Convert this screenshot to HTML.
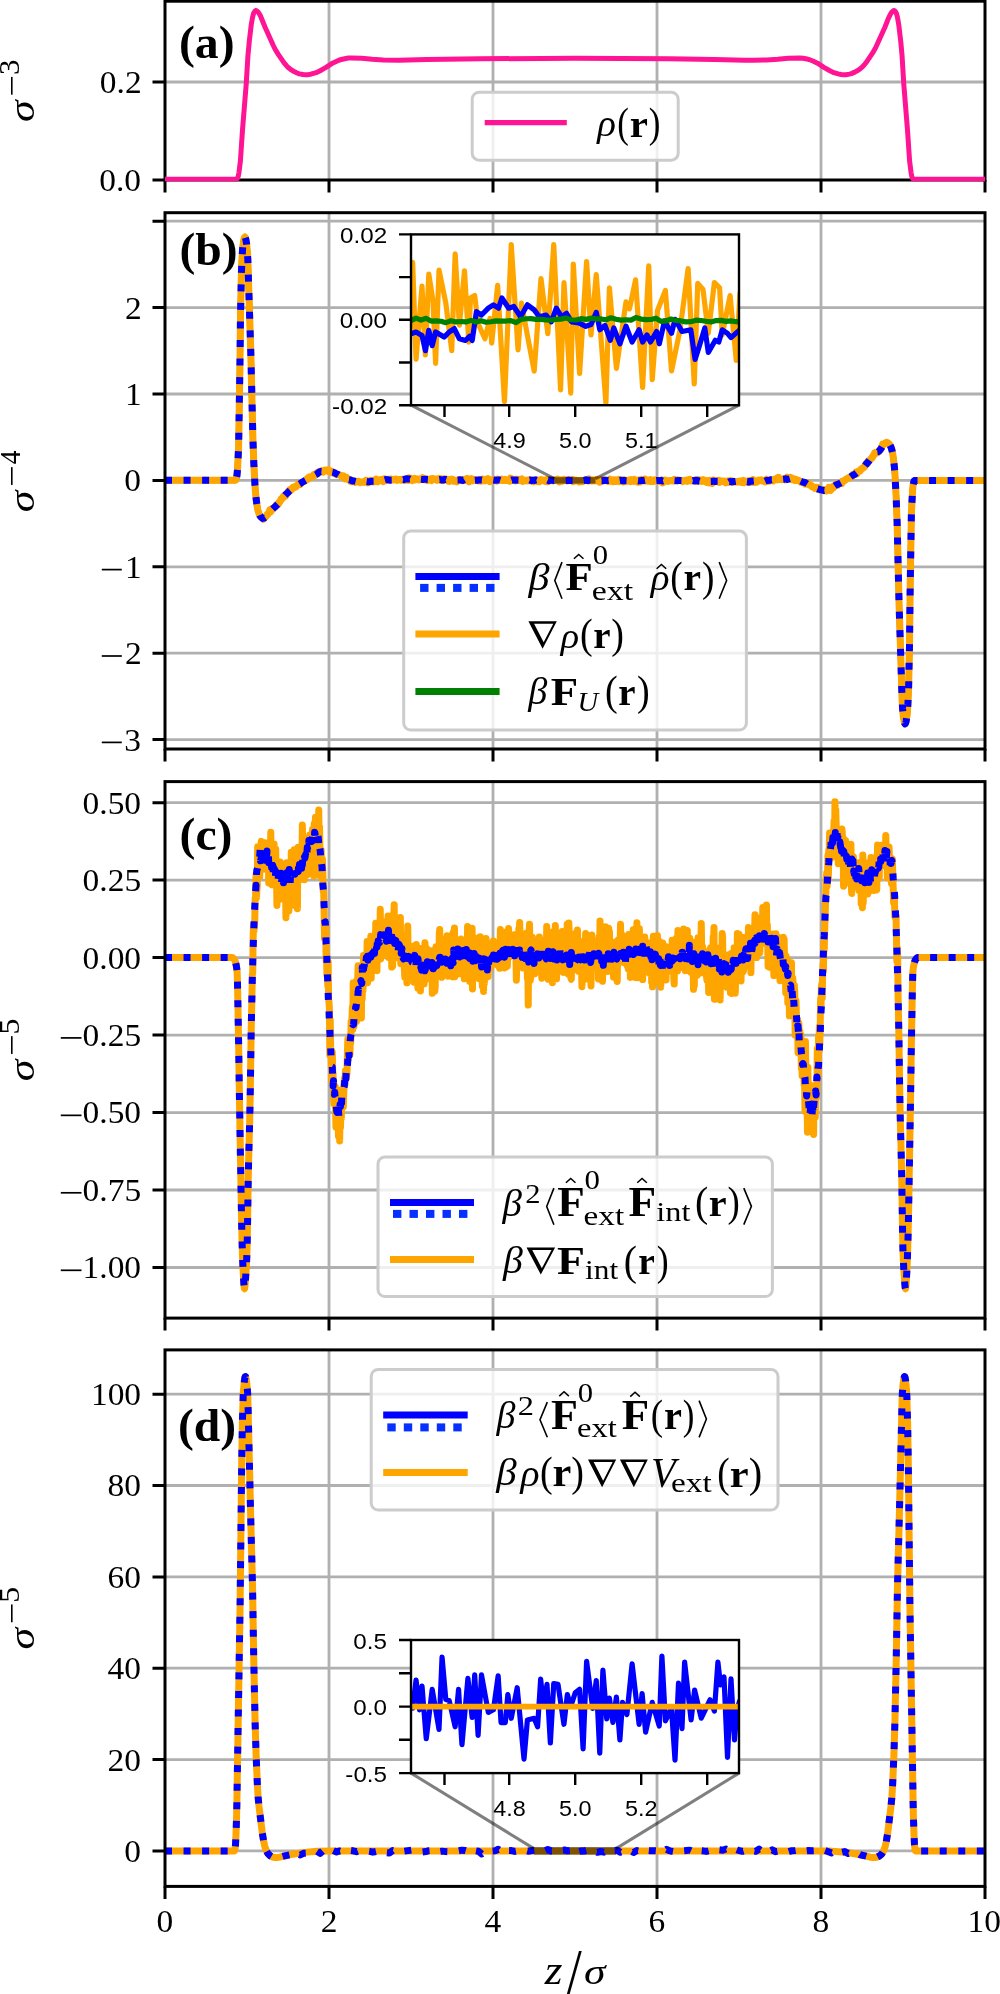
<!DOCTYPE html><html><head><meta charset="utf-8"><style>html,body{margin:0;padding:0;background:#fff;overflow:hidden}svg{display:block;will-change:transform}</style></head><body>
<svg width="1000" height="1994" viewBox="0 0 1000 1994">
<rect x="0" y="0" width="1000" height="1994" fill="#fff"/>
<defs>
<clipPath id="clipa"><rect x="165.00" y="1.20" width="820.00" height="178.80"/></clipPath>
<clipPath id="clipb"><rect x="165.00" y="212.70" width="820.00" height="536.30"/></clipPath>
<clipPath id="clipc"><rect x="165.00" y="781.60" width="820.00" height="536.50"/></clipPath>
<clipPath id="clipd"><rect x="165.00" y="1349.90" width="820.00" height="536.50"/></clipPath>
<clipPath id="clipA2"><rect x="165" y="-5" width="820" height="186.5"/></clipPath>
<clipPath id="clipIB"><rect x="411" y="234.4" width="328" height="170.8"/></clipPath>
<clipPath id="clipID"><rect x="411" y="1640" width="328" height="133.1"/></clipPath>
</defs>
<path d="M329.0 1.20V180.00M493.0 1.20V180.00M657.0 1.20V180.00M821.0 1.20V180.00M165.0 82.00H985.0" stroke="#b0b0b0" stroke-width="2.8" fill="none"/>
<path d="M329.0 212.70V749.00M493.0 212.70V749.00M657.0 212.70V749.00M821.0 212.70V749.00M165.0 221.20H985.0M165.0 307.60H985.0M165.0 394.00H985.0M165.0 480.40H985.0M165.0 566.80H985.0M165.0 653.20H985.0M165.0 739.60H985.0" stroke="#b0b0b0" stroke-width="2.8" fill="none"/>
<path d="M329.0 781.60V1318.10M493.0 781.60V1318.10M657.0 781.60V1318.10M821.0 781.60V1318.10M165.0 802.65H985.0M165.0 880.10H985.0M165.0 957.60H985.0M165.0 1035.10H985.0M165.0 1112.55H985.0M165.0 1190.00H985.0M165.0 1267.50H985.0" stroke="#b0b0b0" stroke-width="2.8" fill="none"/>
<path d="M329.0 1349.90V1886.40M493.0 1349.90V1886.40M657.0 1349.90V1886.40M821.0 1349.90V1886.40M165.0 1850.90H985.0M165.0 1759.60H985.0M165.0 1668.20H985.0M165.0 1576.90H985.0M165.0 1485.50H985.0M165.0 1394.20H985.0" stroke="#b0b0b0" stroke-width="2.8" fill="none"/>
<g clip-path="url(#clipb)">
<path d="M165.00,480.20 L235.50,480.20 L235.80,479.95 L236.20,478.99 L236.90,475.80 L237.50,469.50 L238.60,447.57 L239.90,367.73 L240.50,315.30 L241.40,272.87 L242.10,256.58 L242.80,246.25 L243.90,239.44 L244.40,237.66 L244.90,237.00 L245.30,237.51 L245.70,238.85 L246.70,244.35 L247.40,252.03 L247.90,261.26 L250.90,355.80 L252.90,438.82 L253.80,462.92 L255.00,485.49 L256.10,498.50 L257.00,505.31 L257.80,509.63 L258.80,513.05 L259.90,515.65 L261.30,517.29 L262.80,518.29 L263.40,518.40 L264.00,518.26 L265.40,517.15 L267.10,515.28 L270.00,510.91 L271.40,509.65 L274.40,507.52 L275.60,506.42 L285.80,494.23 L287.90,492.18 L290.70,489.89 L295.60,486.40 L301.90,482.44 L308.10,478.74 L315.10,474.94 L318.80,472.55 L319.90,472.04 L322.60,471.15 L325.60,470.61 L326.90,470.65 L328.40,470.92 L333.50,472.52 L339.30,475.14 L344.60,477.83 L350.10,479.93 L355.80,481.43 L361.60,481.97 L365.60,481.89 L381.50,480.44 L391.20,479.76 L403.80,479.35 L414.60,479.20 L427.80,479.36 L455.00,480.00 L681.70,480.72 L697.20,480.83 L723.70,481.47 L737.70,481.59 L759.50,481.00 L769.20,480.30 L784.10,478.93 L787.60,478.81 L793.90,479.32 L799.50,480.75 L805.30,482.93 L810.70,485.66 L816.80,488.40 L822.00,489.97 L823.60,490.19 L825.10,490.13 L828.00,489.47 L830.20,488.73 L831.30,488.20 L834.80,485.92 L842.70,481.60 L850.90,476.63 L855.20,473.86 L859.60,470.68 L862.30,468.44 L864.30,466.46 L874.40,454.38 L875.60,453.28 L878.60,451.15 L880.00,449.89 L882.90,445.52 L884.60,443.65 L886.00,442.54 L886.50,442.40 L887.10,442.48 L888.50,443.33 L890.00,444.98 L891.00,447.19 L892.10,450.75 L892.90,454.86 L893.80,461.44 L894.40,467.07 L895.00,475.31 L896.20,497.88 L897.10,521.98 L899.10,605.00 L902.10,699.54 L902.60,708.77 L903.30,716.45 L904.30,721.95 L904.70,723.29 L905.10,723.80 L905.60,723.14 L906.10,721.36 L907.20,714.55 L907.90,704.22 L908.60,687.93 L909.50,645.50 L910.10,593.07 L911.40,513.23 L912.50,491.30 L913.10,485.00 L913.80,481.81 L914.20,480.85 L914.50,480.60 L985.00,480.60" fill="none" stroke="#008000" stroke-width="6.00" stroke-linejoin="round"/>
<path d="M165.00,480.20 L235.50,480.20 L235.80,479.95 L236.20,478.99 L236.90,475.80 L237.50,469.50 L238.60,447.57 L239.90,367.73 L240.50,315.30 L241.40,272.87 L242.10,256.58 L242.80,246.25 L243.90,239.44 L244.40,237.66 L244.90,237.00 L245.30,237.51 L245.70,238.85 L246.70,244.35 L247.40,252.03 L247.90,261.26 L250.90,355.80 L252.90,438.82 L253.90,465.13 L255.10,487.04 L255.60,493.73 L256.30,500.19 L257.20,506.55 L258.00,510.44 L259.00,513.61 L260.00,515.82 L260.70,516.71 L262.00,517.86 L262.60,517.22 L263.40,519.28 L264.20,517.55 L265.00,517.36 L265.80,516.68 L267.40,513.90 L268.20,514.03 L269.00,512.52 L269.80,509.77 L270.60,511.96 L272.20,508.55 L273.00,509.17 L273.80,507.65 L275.40,507.17 L276.20,504.91 L277.00,505.28 L277.80,504.90 L278.60,503.86 L279.40,501.73 L280.20,501.59 L281.00,498.86 L281.80,498.94 L282.60,498.38 L283.40,496.13 L284.20,496.03 L285.00,496.34 L285.80,496.06 L286.60,493.93 L287.40,493.21 L288.20,491.24 L289.80,489.60 L290.60,490.35 L291.40,489.89 L292.20,488.32 L293.00,487.35 L293.80,487.82 L294.60,487.30 L295.40,486.45 L296.20,486.90 L297.00,485.43 L297.80,484.94 L298.60,483.71 L300.20,484.44 L301.00,483.04 L301.80,482.55 L302.60,482.32 L303.40,481.72 L305.80,480.51 L306.60,479.05 L307.40,479.35 L308.20,477.56 L309.00,478.43 L309.80,476.92 L310.60,477.33 L311.40,477.29 L312.20,476.24 L313.00,476.17 L313.80,474.52 L314.60,474.63 L315.40,475.24 L316.20,473.43 L317.00,474.15 L317.80,472.18 L318.60,472.02 L319.40,471.47 L320.20,471.94 L321.00,472.03 L321.80,470.65 L322.60,471.03 L323.40,472.08 L324.20,470.55 L325.00,470.09 L325.80,470.87 L327.40,470.23 L328.20,469.62 L329.00,471.65 L329.80,470.91 L330.60,471.56 L331.40,471.07 L332.20,472.97 L333.00,472.85 L333.80,473.32 L334.60,472.88 L336.20,474.30 L337.00,474.77 L337.80,474.65 L341.00,475.32 L341.80,476.68 L342.60,476.67 L343.40,475.86 L344.20,477.53 L345.00,478.74 L346.60,477.36 L347.40,478.89 L348.20,479.83 L349.80,479.53 L350.60,481.38 L351.40,481.64 L352.20,480.48 L353.00,481.34 L353.80,481.26 L355.40,482.37 L357.80,481.22 L358.60,481.19 L360.20,482.70 L361.00,482.15 L361.80,482.02 L362.60,482.18 L363.40,482.02 L364.20,482.36 L365.00,481.15 L365.80,480.49 L366.60,481.51 L367.40,480.93 L368.20,482.80 L369.00,481.49 L369.80,481.35 L370.60,480.38 L371.40,481.57 L372.20,480.85 L373.00,481.98 L373.80,481.70 L374.60,480.49 L375.40,481.25 L376.20,478.99 L377.80,481.63 L379.40,480.75 L380.20,480.53 L381.00,479.49 L381.80,479.47 L383.40,481.52 L384.20,478.71 L385.00,480.61 L385.80,480.53 L386.60,480.71 L387.40,479.38 L389.00,479.92 L389.80,479.12 L390.60,478.93 L391.40,479.13 L392.20,479.66 L393.00,479.94 L393.80,479.62 L394.60,479.67 L395.40,479.11 L396.20,479.06 L397.00,480.32 L397.80,479.48 L398.60,479.43 L399.40,480.12 L401.00,480.31 L401.80,479.68 L402.60,479.34 L403.40,479.56 L404.20,479.47 L405.00,480.30 L405.80,479.51 L406.60,479.74 L407.40,479.25 L408.20,480.22 L409.00,477.81 L409.80,479.50 L410.60,479.75 L411.40,478.41 L412.20,480.72 L413.00,479.10 L413.80,479.09 L414.60,478.44 L415.40,479.81 L417.00,478.79 L417.80,479.37 L419.40,480.07 L421.00,478.57 L421.80,478.86 L422.60,477.65 L424.20,479.80 L426.60,479.09 L427.40,480.46 L428.20,479.56 L429.00,480.02 L429.80,479.67 L430.60,478.94 L431.40,480.52 L432.20,478.58 L433.00,478.62 L433.80,479.18 L434.60,478.98 L436.20,479.10 L437.00,480.23 L437.80,479.60 L438.60,479.83 L439.40,478.50 L440.20,479.04 L441.00,480.41 L441.80,478.84 L442.60,480.53 L443.40,479.01 L444.20,479.96 L445.00,479.19 L445.80,479.94 L446.60,479.20 L447.40,479.67 L448.20,481.04 L449.00,479.63 L449.80,481.34 L450.60,479.61 L451.40,479.13 L452.20,480.02 L453.00,479.69 L453.80,481.22 L454.60,480.60 L455.40,480.83 L456.20,480.45 L457.00,481.74 L457.80,480.58 L458.60,480.40 L459.40,479.45 L460.20,479.40 L461.80,480.74 L462.60,480.83 L463.40,479.40 L464.20,480.43 L465.00,480.20 L465.80,479.29 L466.60,480.43 L467.40,478.49 L469.00,481.82 L469.80,479.38 L470.60,480.11 L471.40,478.78 L473.00,480.64 L473.80,479.38 L474.60,480.09 L475.40,479.87 L476.20,479.86 L477.80,480.47 L478.60,481.00 L479.40,480.72 L480.20,479.75 L481.00,481.14 L481.80,481.03 L482.60,479.06 L483.40,480.62 L485.00,480.84 L485.80,480.55 L486.60,479.26 L487.40,479.99 L488.20,478.73 L489.80,481.60 L490.60,480.66 L491.40,480.77 L492.20,479.83 L493.00,479.48 L493.80,479.45 L494.60,480.29 L495.40,479.64 L496.20,479.76 L497.00,481.01 L497.80,479.06 L498.60,479.29 L499.40,479.86 L500.20,480.15 L501.00,480.13 L501.80,479.25 L502.60,480.36 L503.40,480.14 L504.20,480.48 L505.00,479.47 L505.80,480.41 L506.60,480.39 L507.40,479.78 L508.20,480.09 L509.00,479.85 L509.80,481.19 L510.60,478.06 L511.40,479.24 L512.20,479.06 L513.00,479.99 L513.80,479.78 L514.60,479.97 L515.40,480.76 L516.20,479.12 L517.80,480.11 L518.60,479.42 L519.40,480.53 L520.20,480.50 L521.80,479.03 L522.60,481.40 L523.40,480.61 L524.20,480.58 L525.00,480.33 L525.80,480.28 L526.60,480.87 L528.20,479.85 L529.00,480.79 L530.60,479.75 L531.40,479.66 L532.20,481.11 L533.00,480.74 L533.80,481.68 L534.60,479.93 L535.40,479.78 L537.00,481.27 L537.80,480.72 L538.60,480.61 L539.40,481.63 L540.20,479.79 L541.00,479.44 L542.60,480.09 L544.20,481.04 L545.00,480.61 L545.80,481.39 L546.60,479.75 L547.40,481.66 L548.20,479.76 L549.00,481.15 L549.80,479.68 L550.60,480.57 L551.40,480.37 L553.00,480.87 L553.80,480.19 L555.40,480.51 L556.20,479.43 L557.00,479.84 L557.80,479.21 L558.60,480.36 L559.40,481.91 L561.00,479.75 L561.80,479.87 L562.60,481.05 L564.20,479.24 L565.00,479.65 L566.60,479.66 L567.40,480.85 L568.20,480.43 L569.00,479.34 L569.80,480.01 L570.60,479.59 L572.20,479.34 L573.00,481.62 L573.80,480.18 L574.60,480.80 L575.40,481.01 L576.20,480.13 L577.00,480.78 L577.80,480.79 L578.60,480.57 L579.40,481.93 L580.20,480.62 L581.00,480.26 L582.60,481.67 L583.40,481.12 L584.20,480.09 L585.00,479.83 L585.80,479.78 L586.60,479.97 L587.40,480.71 L588.20,481.03 L589.00,478.85 L589.80,480.43 L590.60,479.67 L591.40,480.93 L592.20,481.09 L593.00,479.91 L593.80,480.14 L594.60,479.79 L595.40,480.73 L596.20,479.33 L597.80,479.98 L598.60,481.32 L599.40,482.15 L600.20,480.48 L601.00,479.61 L601.80,480.52 L602.60,479.86 L603.40,480.80 L604.20,479.70 L605.00,480.22 L606.60,480.85 L607.40,480.43 L608.20,481.37 L609.00,480.57 L609.80,479.22 L610.60,481.14 L611.40,480.29 L612.20,480.02 L613.00,481.55 L613.80,479.80 L614.60,480.55 L615.40,480.00 L616.20,481.45 L617.00,480.25 L617.80,480.67 L618.60,479.53 L619.40,481.51 L620.20,479.76 L621.00,481.15 L622.60,481.38 L623.40,481.79 L624.20,479.70 L625.00,480.80 L625.80,480.62 L626.60,480.82 L627.40,481.29 L629.00,479.96 L629.80,480.46 L630.60,481.61 L631.40,479.71 L632.20,480.59 L633.00,479.85 L633.80,481.32 L634.60,479.39 L635.40,480.30 L637.00,480.63 L637.80,482.20 L638.60,481.64 L639.40,479.83 L640.20,482.07 L641.00,479.72 L641.80,479.25 L642.60,479.51 L643.40,480.71 L644.20,480.94 L645.00,479.02 L645.80,480.88 L646.60,480.39 L647.40,481.07 L648.20,480.31 L649.00,481.21 L649.80,480.98 L650.60,479.76 L651.40,481.60 L652.20,480.74 L653.80,481.48 L654.60,479.91 L655.40,480.54 L656.20,480.03 L657.00,479.95 L657.80,480.79 L658.60,480.85 L659.40,481.55 L660.20,481.59 L661.00,480.60 L661.80,480.04 L662.60,482.87 L663.40,482.13 L664.20,480.56 L665.00,479.98 L665.80,480.34 L667.40,481.44 L668.20,481.33 L669.80,480.48 L670.60,480.78 L671.40,480.45 L672.20,480.72 L673.00,480.60 L673.80,481.04 L674.60,479.36 L675.40,480.44 L676.20,480.48 L677.00,479.90 L677.80,480.57 L678.60,479.96 L680.20,480.50 L681.00,480.53 L681.80,480.31 L682.60,481.49 L683.40,480.87 L685.00,480.90 L685.80,480.27 L686.60,480.13 L687.40,481.34 L689.00,479.52 L689.80,479.23 L690.60,480.92 L691.40,480.26 L692.20,480.73 L693.00,480.40 L694.60,480.68 L695.40,479.93 L697.00,481.51 L697.80,481.32 L698.60,479.63 L699.40,479.93 L700.20,479.95 L701.80,481.53 L702.60,481.18 L703.40,479.74 L704.20,481.03 L705.00,481.59 L705.80,480.73 L706.60,482.40 L707.40,480.64 L708.20,481.94 L709.00,482.79 L709.80,480.28 L711.40,481.62 L712.20,483.48 L713.00,480.00 L713.80,481.67 L714.60,481.49 L716.20,480.74 L717.80,481.14 L718.60,480.48 L719.40,482.49 L720.20,480.63 L721.00,481.12 L721.80,480.97 L723.40,481.53 L724.20,480.95 L725.00,481.33 L725.80,482.72 L726.60,482.26 L727.40,481.33 L728.20,482.18 L729.00,481.02 L729.80,481.73 L730.60,480.58 L732.20,480.98 L733.00,482.46 L733.80,481.76 L734.60,481.98 L735.40,481.71 L737.80,482.12 L738.60,481.70 L739.40,480.93 L740.20,481.01 L741.00,482.40 L741.80,482.53 L742.60,481.92 L743.40,480.36 L744.20,482.60 L745.00,481.70 L745.80,481.41 L746.60,481.45 L747.40,481.16 L748.20,482.63 L749.00,482.56 L749.80,480.61 L750.60,481.20 L751.40,481.52 L752.20,482.18 L753.00,479.56 L753.80,481.89 L754.60,482.38 L755.40,480.95 L756.20,481.12 L757.00,482.00 L757.80,481.35 L758.60,480.11 L760.20,480.23 L761.00,479.91 L761.80,480.85 L762.60,480.43 L764.20,481.18 L765.00,481.88 L766.60,479.19 L767.40,481.41 L768.20,480.29 L769.00,481.12 L769.80,479.92 L770.60,480.38 L771.40,480.00 L772.20,480.01 L773.00,480.85 L773.80,479.43 L774.60,479.94 L775.40,479.91 L776.20,479.40 L777.00,478.05 L777.80,479.75 L778.60,477.43 L779.40,478.28 L781.00,479.49 L781.80,479.72 L782.60,479.63 L783.40,479.40 L784.20,478.66 L785.00,479.71 L785.80,478.63 L786.60,479.58 L787.40,477.22 L788.20,478.14 L789.80,478.90 L790.60,477.28 L791.40,479.60 L792.20,479.80 L793.00,479.74 L793.80,478.93 L794.60,480.45 L795.40,479.22 L796.20,480.44 L797.00,479.98 L798.60,480.37 L799.40,480.69 L800.20,481.74 L801.00,482.23 L801.80,482.51 L802.60,482.45 L804.20,482.77 L805.00,484.02 L805.80,482.84 L806.60,483.09 L807.40,483.98 L808.20,483.20 L809.00,484.62 L809.80,485.16 L810.60,484.88 L811.40,485.57 L812.20,486.84 L813.00,486.57 L813.80,487.16 L814.60,488.20 L815.40,487.40 L816.20,487.36 L817.00,488.43 L817.80,489.03 L818.60,487.70 L819.40,489.69 L820.20,489.26 L821.00,489.42 L821.80,489.31 L823.40,490.84 L824.20,490.56 L825.00,490.70 L825.80,489.76 L826.60,490.96 L827.40,490.53 L828.20,489.38 L829.00,487.29 L830.60,490.48 L831.40,488.10 L832.20,486.92 L833.00,488.29 L833.80,486.12 L834.60,486.38 L835.40,486.10 L836.20,484.09 L837.00,484.78 L837.80,485.10 L838.60,483.61 L839.40,483.88 L840.20,482.98 L841.80,483.41 L842.60,480.88 L844.20,480.99 L845.00,479.80 L845.80,479.18 L846.60,479.03 L847.40,478.60 L848.20,477.83 L849.00,478.03 L849.80,477.87 L851.40,476.79 L852.20,476.65 L853.00,474.35 L853.80,474.71 L855.40,474.09 L856.20,472.03 L857.00,473.91 L857.80,471.39 L858.60,471.62 L860.20,470.97 L861.00,469.08 L861.80,468.51 L862.60,468.43 L864.20,467.21 L866.60,462.79 L867.40,463.96 L868.20,460.79 L869.00,461.29 L869.80,460.04 L872.20,457.82 L873.00,455.88 L873.80,455.29 L874.60,452.82 L875.40,453.48 L876.20,452.19 L877.00,452.16 L877.80,452.59 L878.60,451.22 L879.40,451.25 L880.20,449.52 L881.00,448.81 L881.80,446.94 L882.60,444.17 L883.40,444.41 L885.00,443.37 L885.80,442.65 L886.60,442.32 L887.40,443.25 L888.20,443.08 L889.90,444.82 L890.90,446.92 L892.00,450.36 L892.80,454.25 L893.70,460.61 L894.40,467.07 L894.90,473.76 L896.10,495.67 L897.10,521.98 L899.10,605.00 L902.10,699.54 L902.60,708.77 L903.30,716.45 L904.30,721.95 L904.70,723.29 L905.10,723.80 L905.60,723.14 L906.10,721.36 L907.20,714.55 L907.90,704.22 L908.60,687.93 L909.50,645.50 L910.10,593.07 L911.40,513.23 L912.50,491.30 L913.10,485.00 L913.80,481.81 L914.20,480.85 L914.50,480.60 L985.00,480.60" fill="none" stroke="#ffa500" stroke-width="7.00" stroke-linejoin="round"/>
<rect x="554.5" y="477.2" width="41" height="6.4" fill="#000" fill-opacity="0.5"/>
<path d="M165.00,480.20 L235.50,480.20 L235.80,479.95 L236.20,478.99 L236.90,475.80 L237.50,469.50 L238.60,447.57 L239.90,367.73 L240.50,315.30 L241.40,272.87 L242.10,256.58 L242.80,246.25 L243.90,239.44 L244.40,237.66 L244.90,237.00 L245.30,237.51 L245.70,238.85 L246.70,244.35 L247.40,252.03 L247.90,261.26 L250.90,355.80 L252.90,438.82 L253.80,462.92 L255.00,485.49 L256.10,498.50 L257.00,505.31 L257.80,509.63 L258.80,513.05 L259.90,515.65 L260.80,516.81 L262.60,518.37 L264.20,518.06 L265.80,516.95 L267.40,514.36 L270.60,510.28 L272.20,509.41 L278.60,503.36 L280.20,500.91 L285.00,495.15 L288.20,492.41 L289.80,490.71 L291.40,489.34 L293.00,488.68 L294.60,487.11 L297.80,484.90 L301.00,483.06 L302.60,481.94 L307.40,479.29 L309.00,478.15 L317.00,473.99 L318.60,472.40 L320.20,471.45 L321.80,471.58 L323.40,470.89 L325.00,471.00 L326.60,470.61 L328.20,470.59 L329.80,471.86 L331.40,471.92 L333.00,472.22 L334.60,472.78 L336.20,473.82 L337.80,474.27 L341.00,476.30 L342.60,476.50 L347.40,479.39 L349.00,479.80 L350.60,479.97 L352.20,480.91 L353.80,480.90 L357.00,481.70 L358.60,481.49 L360.20,482.66 L366.60,481.52 L368.20,481.76 L369.80,481.71 L371.40,481.27 L374.60,481.18 L376.20,480.88 L377.80,480.30 L379.40,480.79 L381.00,480.55 L382.60,480.54 L385.80,479.58 L387.40,479.68 L390.60,480.31 L392.20,480.30 L395.40,479.22 L398.60,479.60 L401.80,479.43 L403.40,479.70 L405.00,479.10 L406.60,478.75 L408.20,479.04 L409.80,478.95 L411.40,479.78 L413.00,479.16 L414.60,478.84 L416.20,479.36 L417.80,479.46 L419.40,479.24 L422.60,479.52 L425.80,479.14 L427.40,479.50 L429.00,479.61 L430.60,479.50 L432.20,479.66 L433.80,479.62 L435.40,479.45 L438.60,479.74 L440.20,479.49 L441.80,479.97 L443.40,480.03 L445.00,479.27 L446.60,479.81 L448.20,479.69 L454.60,480.14 L457.80,480.11 L459.40,479.84 L461.00,479.95 L462.60,480.42 L464.20,479.44 L465.80,480.50 L467.40,479.94 L469.00,480.38 L470.60,479.45 L472.20,480.00 L473.80,480.33 L475.40,480.16 L477.00,480.38 L478.60,479.92 L481.80,479.99 L483.40,480.29 L488.20,480.11 L491.40,480.21 L493.00,479.96 L494.60,480.19 L499.40,480.07 L501.00,480.59 L502.60,480.07 L505.80,480.58 L509.00,480.25 L510.60,480.50 L512.20,479.89 L518.60,480.24 L520.20,480.74 L521.80,480.70 L523.40,480.27 L525.00,480.34 L526.60,480.06 L528.20,480.37 L529.80,479.95 L531.40,480.64 L533.00,480.17 L534.60,480.44 L536.20,479.98 L537.80,480.65 L539.40,480.46 L541.00,480.80 L544.20,479.92 L545.80,480.13 L547.40,480.01 L549.00,480.73 L550.60,480.18 L552.20,480.15 L553.80,480.49 L557.00,480.47 L560.20,479.86 L561.80,480.02 L563.40,479.82 L565.00,480.69 L566.60,480.60 L568.20,480.29 L569.80,480.54 L576.20,480.63 L577.80,480.43 L579.40,479.86 L581.00,479.73 L582.60,480.74 L584.20,480.58 L585.80,479.80 L587.40,480.48 L589.00,480.22 L590.60,480.31 L592.20,479.80 L593.80,480.65 L595.40,480.44 L597.00,480.67 L601.80,480.88 L603.40,480.55 L606.60,480.32 L608.20,480.62 L611.40,480.20 L613.00,480.80 L614.60,480.68 L616.20,479.83 L617.80,480.04 L619.40,480.45 L621.00,480.18 L622.60,480.82 L624.20,480.57 L629.00,480.87 L630.60,480.47 L632.20,480.70 L637.00,480.69 L638.60,480.91 L641.80,480.44 L643.40,480.60 L645.00,480.29 L648.20,480.96 L649.80,480.43 L651.40,480.18 L653.00,480.58 L654.60,480.47 L656.20,480.61 L657.80,480.46 L659.40,480.64 L661.00,480.37 L662.60,481.02 L664.20,480.58 L667.40,480.84 L669.00,480.62 L670.60,480.78 L673.80,480.57 L677.00,480.82 L678.60,480.38 L683.40,480.59 L685.00,481.03 L686.60,480.74 L688.20,480.68 L691.40,481.05 L693.00,480.60 L694.60,481.06 L696.20,480.23 L697.80,480.62 L699.40,481.24 L701.00,481.30 L704.20,480.90 L705.80,481.26 L707.40,481.00 L709.00,481.54 L712.20,481.44 L713.80,481.07 L715.40,481.56 L717.00,481.29 L720.20,481.31 L726.60,481.75 L728.20,482.41 L729.80,481.50 L731.40,481.89 L733.00,481.44 L734.60,481.57 L736.20,481.32 L737.80,481.91 L739.40,481.66 L742.60,481.51 L744.20,481.74 L745.80,481.35 L747.40,481.54 L749.00,482.03 L750.60,481.32 L753.80,481.00 L755.40,481.41 L758.60,480.88 L760.20,480.77 L761.80,480.89 L763.40,480.52 L765.00,481.18 L766.60,480.48 L769.80,480.24 L771.40,479.67 L776.20,479.70 L777.80,479.23 L779.40,479.79 L781.00,479.34 L782.60,479.41 L784.20,479.24 L785.80,478.79 L787.40,479.44 L790.60,478.52 L792.20,478.55 L793.80,479.33 L795.40,479.86 L797.00,480.07 L798.60,480.94 L800.20,480.91 L803.40,482.34 L805.00,482.56 L809.80,485.51 L813.00,487.01 L814.60,487.32 L816.20,488.37 L817.80,489.03 L819.40,489.27 L821.00,489.93 L824.20,490.51 L827.40,489.78 L830.60,488.59 L835.40,485.31 L838.60,484.04 L841.80,482.32 L843.40,481.18 L845.00,480.61 L846.60,479.18 L848.20,478.50 L851.40,476.15 L853.00,475.15 L854.60,474.47 L857.80,472.10 L859.40,471.62 L861.00,469.72 L864.20,466.77 L865.80,464.58 L869.00,460.93 L870.60,458.67 L873.80,454.99 L877.00,451.84 L878.60,451.61 L880.20,449.66 L881.80,447.38 L883.40,444.66 L885.00,442.95 L886.60,442.43 L888.10,443.01 L889.80,444.67 L890.90,446.92 L892.00,450.36 L892.80,454.25 L893.70,460.61 L894.40,467.07 L894.90,473.76 L896.10,495.67 L897.10,521.98 L899.10,605.00 L902.10,699.54 L902.60,708.77 L903.30,716.45 L904.30,721.95 L904.70,723.29 L905.10,723.80 L905.60,723.14 L906.10,721.36 L907.20,714.55 L907.90,704.22 L908.60,687.93 L909.50,645.50 L910.10,593.07 L911.40,513.23 L912.50,491.30 L913.10,485.00 L913.80,481.81 L914.20,480.85 L914.50,480.60 L985.00,480.60" fill="none" stroke="#0000ff" stroke-width="7.00" stroke-linejoin="round" stroke-dasharray="7 11.55" stroke-linecap="butt"/>
</g>
<g clip-path="url(#clipc)">
<path d="M165.00,957.50 L165.10,957.50 L165.20,957.50 L165.30,957.50 L165.40,957.50 L165.50,957.50 L165.60,957.50 L165.70,957.50 L165.80,957.50 L165.90,957.50 L166.00,957.50 L166.10,957.50 L166.20,957.50 L166.30,957.50 L166.40,957.50 L166.50,957.50 L166.60,957.50 L166.70,957.50 L166.80,957.50 L166.90,957.50 L167.00,957.50 L167.10,957.50 L167.20,957.50 L167.30,957.50 L167.40,957.50 L167.50,957.50 L167.60,957.50 L167.70,957.50 L167.80,957.50 L167.90,957.50 L168.00,957.50 L168.10,957.50 L168.20,957.50 L168.30,957.50 L168.40,957.50 L168.50,957.50 L168.60,957.50 L168.70,957.50 L168.80,957.50 L168.90,957.50 L169.00,957.50 L169.10,957.50 L169.20,957.50 L169.30,957.50 L169.40,957.50 L169.50,957.50 L169.60,957.50 L169.70,957.50 L169.80,957.50 L169.90,957.50 L170.00,957.50 L170.10,957.50 L170.20,957.50 L170.30,957.50 L170.40,957.50 L170.50,957.50 L170.60,957.50 L170.70,957.50 L170.80,957.50 L170.90,957.50 L171.00,957.50 L171.10,957.50 L171.20,957.50 L171.30,957.50 L171.40,957.50 L171.50,957.50 L171.60,957.50 L171.70,957.50 L171.80,957.50 L171.90,957.50 L172.00,957.50 L172.10,957.50 L172.20,957.50 L172.30,957.50 L172.40,957.50 L172.50,957.50 L172.60,957.50 L172.70,957.50 L172.80,957.50 L172.90,957.50 L173.00,957.50 L173.10,957.50 L173.20,957.50 L173.30,957.50 L173.40,957.50 L173.50,957.50 L173.60,957.50 L173.70,957.50 L173.80,957.50 L173.90,957.50 L174.00,957.50 L174.10,957.50 L174.20,957.50 L174.30,957.50 L174.40,957.50 L174.50,957.50 L174.60,957.50 L174.70,957.50 L174.80,957.50 L174.90,957.50 L175.00,957.50 L175.10,957.50 L175.20,957.50 L175.30,957.50 L175.40,957.50 L175.50,957.50 L175.60,957.50 L175.70,957.50 L175.80,957.50 L175.90,957.50 L176.00,957.50 L176.10,957.50 L176.20,957.50 L176.30,957.50 L176.40,957.50 L176.50,957.50 L176.60,957.50 L176.70,957.50 L176.80,957.50 L176.90,957.50 L177.00,957.50 L177.10,957.50 L177.20,957.50 L177.30,957.50 L177.40,957.50 L177.50,957.50 L177.60,957.50 L177.70,957.50 L177.80,957.50 L177.90,957.50 L178.00,957.50 L178.10,957.50 L178.20,957.50 L178.30,957.50 L178.40,957.50 L178.50,957.50 L178.60,957.50 L178.70,957.50 L178.80,957.50 L178.90,957.50 L179.00,957.50 L179.10,957.50 L179.20,957.50 L179.30,957.50 L179.40,957.50 L179.50,957.50 L179.60,957.50 L179.70,957.50 L179.80,957.50 L179.90,957.50 L180.00,957.50 L180.10,957.50 L180.20,957.50 L180.30,957.50 L180.40,957.50 L180.50,957.50 L180.60,957.50 L180.70,957.50 L180.80,957.50 L180.90,957.50 L181.00,957.50 L181.10,957.50 L181.20,957.50 L181.30,957.50 L181.40,957.50 L181.50,957.50 L181.60,957.50 L181.70,957.50 L181.80,957.50 L181.90,957.50 L182.00,957.50 L182.10,957.50 L182.20,957.50 L182.30,957.50 L182.40,957.50 L182.50,957.50 L182.60,957.50 L182.70,957.50 L182.80,957.50 L182.90,957.50 L183.00,957.50 L183.10,957.50 L183.20,957.50 L183.30,957.50 L183.40,957.50 L183.50,957.50 L183.60,957.50 L183.70,957.50 L183.80,957.50 L183.90,957.50 L184.00,957.50 L184.10,957.50 L184.20,957.50 L184.30,957.50 L184.40,957.50 L184.50,957.50 L184.60,957.50 L184.70,957.50 L184.80,957.50 L184.90,957.50 L185.00,957.50 L185.10,957.50 L185.20,957.50 L185.30,957.50 L185.40,957.50 L185.50,957.50 L185.60,957.50 L185.70,957.50 L185.80,957.50 L185.90,957.50 L186.00,957.50 L186.10,957.50 L186.20,957.50 L186.30,957.50 L186.40,957.50 L186.50,957.50 L186.60,957.50 L186.70,957.50 L186.80,957.50 L186.90,957.50 L187.00,957.50 L187.10,957.50 L187.20,957.50 L187.30,957.50 L187.40,957.50 L187.50,957.50 L187.60,957.50 L187.70,957.50 L187.80,957.50 L187.90,957.50 L188.00,957.50 L188.10,957.50 L188.20,957.50 L188.30,957.50 L188.40,957.50 L188.50,957.50 L188.60,957.50 L188.70,957.50 L188.80,957.50 L188.90,957.50 L189.00,957.50 L189.10,957.50 L189.20,957.50 L189.30,957.50 L189.40,957.50 L189.50,957.50 L189.60,957.50 L189.70,957.50 L189.80,957.50 L189.90,957.50 L190.00,957.50 L190.10,957.50 L190.20,957.50 L190.30,957.50 L190.40,957.50 L190.50,957.50 L190.60,957.50 L190.70,957.50 L190.80,957.50 L190.90,957.50 L191.00,957.50 L191.10,957.50 L191.20,957.50 L191.30,957.50 L191.40,957.50 L191.50,957.50 L191.60,957.50 L191.70,957.50 L191.80,957.50 L191.90,957.50 L192.00,957.50 L192.10,957.50 L192.20,957.50 L192.30,957.50 L192.40,957.50 L192.50,957.50 L192.60,957.50 L192.70,957.50 L192.80,957.50 L192.90,957.50 L193.00,957.50 L193.10,957.50 L193.20,957.50 L193.30,957.50 L193.40,957.50 L193.50,957.50 L193.60,957.50 L193.70,957.50 L193.80,957.50 L193.90,957.50 L194.00,957.50 L194.10,957.50 L194.20,957.50 L194.30,957.50 L194.40,957.50 L194.50,957.50 L194.60,957.50 L194.70,957.50 L194.80,957.50 L194.90,957.50 L195.00,957.50 L195.10,957.50 L195.20,957.50 L195.30,957.50 L195.40,957.50 L195.50,957.50 L195.60,957.50 L195.70,957.50 L195.80,957.50 L195.90,957.50 L196.00,957.50 L196.10,957.50 L196.20,957.50 L196.30,957.50 L196.40,957.50 L196.50,957.50 L196.60,957.50 L196.70,957.50 L196.80,957.50 L196.90,957.50 L197.00,957.50 L197.10,957.50 L197.20,957.50 L197.30,957.50 L197.40,957.50 L197.50,957.50 L197.60,957.50 L197.70,957.50 L197.80,957.50 L197.90,957.50 L198.00,957.50 L198.10,957.50 L198.20,957.50 L198.30,957.50 L198.40,957.50 L198.50,957.50 L198.60,957.50 L198.70,957.50 L198.80,957.50 L198.90,957.50 L199.00,957.50 L199.10,957.50 L199.20,957.50 L199.30,957.50 L199.40,957.50 L199.50,957.50 L199.60,957.50 L199.70,957.50 L199.80,957.50 L199.90,957.50 L200.00,957.50 L200.10,957.50 L200.20,957.50 L200.30,957.50 L200.40,957.50 L200.50,957.50 L200.60,957.50 L200.70,957.50 L200.80,957.50 L200.90,957.50 L201.00,957.50 L201.10,957.50 L201.20,957.50 L201.30,957.50 L201.40,957.50 L201.50,957.50 L201.60,957.50 L201.70,957.50 L201.80,957.50 L201.90,957.50 L202.00,957.50 L202.10,957.50 L202.20,957.50 L202.30,957.50 L202.40,957.50 L202.50,957.50 L202.60,957.50 L202.70,957.50 L202.80,957.50 L202.90,957.50 L203.00,957.50 L203.10,957.50 L203.20,957.50 L203.30,957.50 L203.40,957.50 L203.50,957.50 L203.60,957.50 L203.70,957.50 L203.80,957.50 L203.90,957.50 L204.00,957.50 L204.10,957.50 L204.20,957.50 L204.30,957.50 L204.40,957.50 L204.50,957.50 L204.60,957.50 L204.70,957.50 L204.80,957.50 L204.90,957.50 L205.00,957.50 L205.10,957.50 L205.20,957.50 L205.30,957.50 L205.40,957.50 L205.50,957.50 L205.60,957.50 L205.70,957.50 L205.80,957.50 L205.90,957.50 L206.00,957.50 L206.10,957.50 L206.20,957.50 L206.30,957.50 L206.40,957.50 L206.50,957.50 L206.60,957.50 L206.70,957.50 L206.80,957.50 L206.90,957.50 L207.00,957.50 L207.10,957.50 L207.20,957.50 L207.30,957.50 L207.40,957.50 L207.50,957.50 L207.60,957.50 L207.70,957.50 L207.80,957.50 L207.90,957.50 L208.00,957.50 L208.10,957.50 L208.20,957.50 L208.30,957.50 L208.40,957.50 L208.50,957.50 L208.60,957.50 L208.70,957.50 L208.80,957.50 L208.90,957.50 L209.00,957.50 L209.10,957.50 L209.20,957.50 L209.30,957.50 L209.40,957.50 L209.50,957.50 L209.60,957.50 L209.70,957.50 L209.80,957.50 L209.90,957.50 L210.00,957.50 L210.10,957.50 L210.20,957.50 L210.30,957.50 L210.40,957.50 L210.50,957.50 L210.60,957.50 L210.70,957.50 L210.80,957.50 L210.90,957.50 L211.00,957.50 L211.10,957.50 L211.20,957.50 L211.30,957.50 L211.40,957.50 L211.50,957.50 L211.60,957.50 L211.70,957.50 L211.80,957.50 L211.90,957.50 L212.00,957.50 L212.10,957.50 L212.20,957.50 L212.30,957.50 L212.40,957.50 L212.50,957.50 L212.60,957.50 L212.70,957.50 L212.80,957.50 L212.90,957.50 L213.00,957.50 L213.10,957.50 L213.20,957.50 L213.30,957.50 L213.40,957.50 L213.50,957.50 L213.60,957.50 L213.70,957.50 L213.80,957.50 L213.90,957.50 L214.00,957.50 L214.10,957.50 L214.20,957.50 L214.30,957.50 L214.40,957.50 L214.50,957.50 L214.60,957.50 L214.70,957.50 L214.80,957.50 L214.90,957.50 L215.00,957.50 L215.10,957.50 L215.20,957.50 L215.30,957.50 L215.40,957.50 L215.50,957.50 L215.60,957.50 L215.70,957.50 L215.80,957.50 L215.90,957.50 L216.00,957.50 L216.10,957.50 L216.20,957.50 L216.30,957.50 L216.40,957.50 L216.50,957.50 L216.60,957.50 L216.70,957.50 L216.80,957.50 L216.90,957.50 L217.00,957.50 L217.10,957.50 L217.20,957.50 L217.30,957.50 L217.40,957.50 L217.50,957.50 L217.60,957.50 L217.70,957.50 L217.80,957.50 L217.90,957.50 L218.00,957.50 L218.10,957.50 L218.20,957.50 L218.30,957.50 L218.40,957.50 L218.50,957.50 L218.60,957.50 L218.70,957.50 L218.80,957.50 L218.90,957.50 L219.00,957.50 L219.10,957.50 L219.20,957.50 L219.30,957.50 L219.40,957.50 L219.50,957.50 L219.60,957.50 L219.70,957.50 L219.80,957.50 L219.90,957.50 L220.00,957.50 L220.10,957.50 L220.20,957.50 L220.30,957.50 L220.40,957.50 L220.50,957.50 L220.60,957.50 L220.70,957.50 L220.80,957.50 L220.90,957.50 L221.00,957.50 L221.10,957.50 L221.20,957.50 L221.30,957.50 L221.40,957.50 L221.50,957.50 L221.60,957.50 L221.70,957.50 L221.80,957.50 L221.90,957.50 L222.00,957.50 L222.10,957.50 L222.20,957.50 L222.30,957.50 L222.40,957.50 L222.50,957.50 L222.60,957.50 L222.70,957.50 L222.80,957.50 L222.90,957.50 L223.00,957.50 L223.10,957.50 L223.20,957.50 L223.30,957.50 L223.40,957.50 L223.50,957.50 L223.60,957.50 L223.70,957.50 L223.80,957.50 L223.90,957.50 L224.00,957.50 L224.10,957.50 L224.20,957.50 L224.30,957.50 L224.40,957.50 L224.50,957.50 L224.60,957.50 L224.70,957.50 L224.80,957.50 L224.90,957.50 L225.00,957.50 L225.10,957.50 L225.20,957.50 L225.30,957.50 L225.40,957.50 L225.50,957.50 L225.60,957.50 L225.70,957.50 L225.80,957.50 L225.90,957.50 L226.00,957.50 L226.10,957.50 L226.20,957.50 L226.30,957.50 L226.40,957.50 L226.50,957.50 L226.60,957.50 L226.70,957.50 L226.80,957.50 L226.90,957.50 L227.00,957.50 L227.10,957.50 L227.20,957.50 L227.30,957.50 L227.40,957.50 L227.50,957.50 L227.60,957.50 L227.70,957.50 L227.80,957.50 L227.90,957.50 L228.00,957.50 L228.10,957.50 L228.20,957.50 L228.30,957.50 L228.40,957.50 L228.50,957.50 L228.60,957.50 L228.70,957.50 L228.80,957.50 L228.90,957.50 L229.00,957.50 L229.10,957.50 L229.20,957.50 L229.30,957.50 L229.40,957.50 L229.50,957.50 L229.60,957.50 L229.70,957.50 L229.80,957.50 L229.90,957.50 L230.00,957.50 L230.10,957.50 L230.20,957.50 L230.30,957.50 L230.40,957.50 L230.50,957.50 L230.60,957.50 L230.70,957.50 L230.80,957.50 L230.90,957.50 L231.00,957.50 L231.10,957.50 L231.20,957.50 L231.30,957.50 L231.40,957.50 L231.50,957.50 L231.60,957.50 L231.70,957.50 L231.80,957.50 L231.90,957.50 L232.00,957.50 L232.10,957.51 L232.20,957.52 L232.30,957.55 L232.40,957.58 L232.50,957.62 L232.60,957.67 L232.70,957.73 L232.80,957.80 L232.90,957.87 L233.00,957.95 L233.10,958.04 L233.20,958.13 L233.30,958.22 L233.40,958.32 L233.50,958.43 L233.60,958.54 L233.70,958.65 L233.80,958.76 L233.90,958.88 L234.00,959.00 L234.10,959.12 L234.20,959.26 L234.30,959.40 L234.40,959.55 L234.50,959.72 L234.60,959.89 L234.70,960.08 L234.80,960.29 L234.90,960.51 L235.00,960.75 L235.10,961.00 L235.20,961.27 L235.30,961.56 L235.40,961.88 L235.50,962.21 L235.60,962.57 L235.70,962.94 L235.80,963.35 L235.90,963.77 L236.00,964.23 L236.10,964.71 L236.20,965.22 L236.30,965.75 L236.40,966.32 L236.50,966.92 L236.60,967.55 L236.70,968.21 L236.80,968.90 L236.90,969.63 L237.00,970.40 L237.10,971.64 L237.20,973.72 L237.30,976.55 L237.40,980.04 L237.50,984.09 L237.60,988.62 L237.70,993.52 L237.80,998.70 L237.90,1004.08 L238.00,1009.55 L238.10,1015.02 L238.20,1020.40 L238.30,1025.60 L238.40,1030.88 L238.50,1036.55 L238.60,1042.53 L238.70,1048.77 L238.80,1055.21 L238.90,1061.78 L239.00,1068.44 L239.10,1075.11 L239.20,1081.75 L239.30,1088.28 L239.40,1094.65 L239.50,1100.80 L239.60,1106.81 L239.70,1112.78 L239.80,1118.73 L239.90,1124.65 L240.00,1130.53 L240.10,1136.37 L240.20,1142.17 L240.30,1147.93 L240.40,1153.64 L240.50,1159.31 L240.60,1164.92 L240.70,1170.49 L240.80,1176.00 L240.90,1181.56 L241.00,1187.24 L241.10,1192.99 L241.20,1198.75 L241.30,1204.46 L241.40,1210.08 L241.50,1215.54 L241.60,1220.79 L241.70,1225.78 L241.80,1230.44 L241.90,1234.74 L242.00,1238.60 L242.10,1242.17 L242.20,1245.62 L242.30,1248.95 L242.40,1252.14 L242.50,1255.19 L242.60,1258.10 L242.70,1260.84 L242.80,1263.43 L242.90,1265.84 L243.00,1268.08 L243.10,1270.14 L243.20,1272.00 L243.30,1273.79 L243.40,1275.59 L243.50,1277.39 L243.60,1279.16 L243.70,1280.86 L243.80,1282.46 L243.90,1283.95 L244.00,1285.28 L244.10,1286.44 L244.20,1287.38 L244.30,1288.10 L244.40,1288.54 L244.50,1288.70 L244.60,1288.57 L244.70,1288.19 L244.80,1287.59 L244.90,1286.79 L245.00,1285.82 L245.10,1284.71 L245.20,1283.47 L245.30,1282.15 L245.40,1280.75 L245.50,1279.31 L245.60,1277.86 L245.70,1276.41 L245.80,1275.00 L245.90,1273.59 L246.00,1272.12 L246.10,1270.57 L246.20,1268.94 L246.30,1267.20 L246.40,1265.35 L246.50,1263.36 L246.60,1261.24 L246.70,1258.95 L246.80,1256.49 L246.90,1253.85 L247.00,1251.00 L247.10,1247.57 L247.20,1243.27 L247.30,1238.23 L247.40,1232.58 L247.50,1226.45 L247.60,1219.97 L247.70,1213.28 L247.80,1206.51 L247.90,1199.79 L248.00,1193.24 L248.10,1187.01 L248.20,1181.22 L248.30,1176.00 L248.40,1171.24 L248.50,1166.70 L248.60,1162.36 L248.70,1158.19 L248.80,1154.16 L248.90,1150.24 L249.00,1146.40 L249.10,1142.61 L249.20,1138.83 L249.30,1135.05 L249.40,1131.22 L249.50,1127.33 L249.60,1123.33 L249.70,1119.21 L249.80,1114.92 L249.90,1110.44 L250.00,1105.75 L250.10,1100.80 L250.20,1095.44 L250.30,1089.58 L250.40,1083.33 L250.50,1076.79 L250.60,1070.04 L250.70,1063.20 L250.80,1056.36 L250.90,1049.61 L251.00,1043.07 L251.10,1036.82 L251.20,1030.96 L251.30,1025.60 L251.40,1020.56 L251.50,1015.61 L251.60,1010.75 L251.70,1005.99 L251.80,1001.32 L251.90,996.75 L252.00,992.28 L252.33,974.96 L252.74,972.37 L253.15,937.43 L253.56,924.27 L253.97,930.73 L254.38,925.49 L254.79,919.59 L255.20,899.20 L255.61,896.19 L256.02,875.35 L256.43,897.91 L256.84,890.45 L257.25,886.04 L257.66,846.79 L258.07,878.27 L258.48,854.70 L258.89,869.51 L259.30,867.18 L259.71,876.56 L260.12,856.48 L260.53,853.61 L260.94,844.05 L261.35,841.35 L261.76,864.95 L262.17,844.69 L262.58,865.80 L262.99,851.46 L263.40,848.80 L263.81,869.26 L264.22,867.80 L264.63,842.78 L265.04,853.76 L265.45,855.85 L265.86,864.90 L266.27,846.00 L266.68,850.34 L267.09,854.74 L267.50,866.14 L267.91,869.57 L268.32,851.12 L268.73,883.02 L269.14,866.13 L269.55,850.73 L269.96,841.59 L270.37,856.74 L270.78,832.33 L271.19,867.85 L271.60,874.00 L272.01,884.77 L272.42,875.55 L272.83,846.98 L273.24,867.36 L273.65,881.66 L274.06,844.00 L274.47,863.05 L274.88,883.27 L275.29,876.16 L275.70,848.89 L276.11,869.68 L276.52,877.29 L276.93,905.52 L277.34,872.07 L277.75,866.22 L278.16,882.18 L278.57,883.78 L278.98,887.29 L279.39,899.36 L279.80,879.31 L280.21,861.92 L280.62,881.13 L281.03,880.90 L281.44,893.75 L281.85,892.01 L282.26,870.73 L282.67,890.92 L283.08,893.91 L283.49,877.75 L283.90,892.87 L284.31,882.16 L284.72,882.10 L285.13,877.47 L285.54,890.03 L285.95,917.66 L286.36,881.70 L286.77,862.68 L287.18,874.93 L287.59,869.89 L288.00,881.78 L288.41,875.22 L288.82,910.97 L289.23,886.52 L289.64,901.23 L290.05,866.34 L290.46,872.72 L290.87,903.00 L291.28,852.36 L291.69,876.56 L292.10,853.44 L292.51,894.71 L292.92,854.57 L293.33,869.21 L293.74,870.54 L294.15,849.82 L294.56,905.50 L294.97,869.54 L295.38,893.62 L295.79,861.64 L296.20,850.82 L296.61,873.07 L297.02,872.26 L297.43,908.65 L297.84,854.55 L298.25,847.22 L298.66,858.28 L299.07,871.39 L299.48,874.39 L299.89,856.16 L300.30,860.98 L300.71,872.46 L301.12,879.14 L301.53,855.72 L301.94,864.78 L302.35,824.96 L302.76,848.37 L303.17,866.40 L303.58,859.60 L303.99,856.40 L304.40,879.75 L304.81,853.20 L305.22,841.41 L305.63,858.09 L306.04,857.13 L306.45,837.95 L306.86,866.01 L307.27,874.58 L307.68,842.70 L308.09,837.92 L308.50,847.50 L308.91,864.27 L309.32,838.59 L309.73,835.05 L310.14,835.63 L310.55,845.57 L310.96,843.97 L311.37,837.59 L311.78,855.04 L312.19,868.22 L312.60,829.19 L313.01,850.40 L313.42,839.56 L313.83,876.19 L314.24,823.80 L314.65,831.21 L315.06,837.60 L315.47,817.36 L315.88,834.34 L316.29,847.47 L316.70,819.05 L317.11,841.12 L317.52,864.39 L317.93,833.14 L318.34,830.40 L318.75,810.00 L319.16,844.79 L319.57,826.63 L319.98,858.81 L320.39,876.42 L320.80,864.89 L321.21,850.02 L321.62,873.18 L322.03,862.59 L322.44,859.34 L322.85,874.26 L323.26,891.17 L323.67,890.15 L324.08,909.32 L324.49,938.53 L324.90,925.61 L325.31,935.69 L325.72,924.96 L326.13,960.73 L326.54,956.56 L326.95,975.14 L327.36,961.40 L327.77,985.84 L328.18,961.65 L328.59,998.97 L329.00,1002.03 L329.41,1009.06 L329.82,1055.30 L330.23,1020.06 L330.64,1047.13 L331.05,1054.73 L331.46,1070.19 L331.87,1082.12 L332.28,1052.00 L332.69,1071.25 L333.10,1073.63 L333.51,1096.79 L333.92,1103.88 L334.33,1089.13 L334.74,1090.36 L335.15,1086.57 L335.56,1107.39 L335.97,1127.12 L336.38,1111.76 L336.79,1099.04 L337.20,1098.91 L337.61,1101.83 L338.02,1090.06 L338.43,1136.12 L338.84,1113.50 L339.25,1107.34 L339.66,1140.89 L340.07,1112.21 L340.48,1127.53 L340.89,1109.25 L341.30,1118.46 L341.71,1102.54 L342.12,1094.62 L342.53,1102.92 L342.94,1104.53 L343.35,1106.81 L343.76,1091.89 L344.17,1082.80 L344.58,1078.15 L344.99,1084.39 L345.40,1070.72 L345.81,1069.86 L346.22,1078.53 L346.63,1076.01 L347.04,1071.74 L347.45,1051.66 L347.86,1039.09 L348.27,1059.12 L348.68,1053.83 L349.09,1044.08 L349.50,1048.99 L349.91,1054.74 L350.32,1037.69 L350.73,1042.96 L351.14,1021.54 L351.55,1028.96 L351.96,1017.94 L352.37,1006.87 L352.78,1029.59 L353.19,982.73 L353.60,1017.62 L354.01,1026.43 L354.42,1018.85 L354.83,990.14 L355.24,1012.00 L355.65,981.76 L356.06,992.29 L356.47,1021.41 L356.88,1002.09 L357.29,1013.75 L357.70,981.00 L358.11,965.73 L358.52,981.71 L358.93,1007.23 L359.34,1000.48 L359.75,1000.62 L360.16,982.35 L360.57,981.29 L360.98,977.93 L361.39,1017.98 L361.80,978.19 L362.21,999.07 L362.62,971.10 L363.03,990.44 L363.44,955.59 L363.85,961.94 L364.26,972.15 L364.67,958.35 L365.08,959.42 L365.49,961.75 L365.90,955.63 L366.31,982.99 L366.72,976.46 L367.13,941.42 L367.54,982.71 L367.95,958.28 L368.36,957.66 L368.77,955.12 L369.18,968.47 L369.59,965.58 L370.00,948.19 L370.41,955.26 L370.82,936.16 L371.23,978.22 L371.64,940.92 L372.05,939.73 L372.46,941.35 L372.87,952.23 L373.28,959.82 L373.69,944.23 L374.10,948.74 L374.51,943.18 L374.92,964.60 L375.33,949.70 L375.74,923.14 L376.15,965.52 L376.56,949.64 L376.97,970.72 L377.38,936.00 L377.79,937.21 L378.20,941.19 L378.61,924.19 L379.02,937.84 L379.43,959.48 L379.84,951.63 L380.25,909.29 L380.66,958.91 L381.07,946.06 L381.48,952.00 L381.89,941.21 L382.30,942.98 L382.71,940.95 L383.12,940.68 L383.53,925.81 L383.94,953.77 L384.35,942.51 L384.76,944.72 L385.17,944.16 L385.58,935.34 L385.99,938.63 L386.40,921.33 L386.81,942.94 L387.22,943.12 L387.63,936.09 L388.04,916.12 L388.45,957.38 L388.86,936.97 L389.27,939.02 L389.68,935.07 L390.09,931.21 L390.50,933.78 L390.91,924.22 L391.32,931.36 L391.73,967.12 L392.14,955.21 L392.55,966.30 L392.96,930.96 L393.37,914.02 L393.78,921.49 L394.19,904.75 L394.60,955.59 L395.01,958.14 L395.42,943.72 L395.83,948.12 L396.24,948.79 L396.65,943.07 L397.06,955.32 L397.47,932.57 L397.88,941.13 L398.29,945.89 L398.70,925.61 L399.11,935.67 L399.52,955.80 L399.93,955.10 L400.34,917.52 L400.75,963.69 L401.16,956.51 L401.57,962.58 L401.98,951.71 L402.39,960.94 L402.80,935.91 L403.21,950.88 L403.62,939.77 L404.03,947.53 L404.44,970.74 L404.85,977.24 L405.26,956.07 L405.67,949.97 L406.08,966.82 L406.49,962.81 L406.90,982.85 L407.31,965.77 L407.72,925.94 L408.13,958.69 L408.54,953.82 L408.95,947.63 L409.36,960.62 L409.77,959.86 L410.18,954.60 L410.59,980.00 L411.00,965.02 L411.41,965.76 L411.82,962.74 L412.23,977.36 L412.64,946.21 L413.05,977.87 L413.46,958.68 L413.87,982.27 L414.28,981.72 L414.69,969.57 L415.10,957.05 L415.51,967.29 L415.92,968.58 L416.33,944.42 L416.74,960.03 L417.15,955.28 L417.56,983.51 L417.97,988.22 L418.38,955.76 L418.79,958.71 L419.20,948.28 L419.61,969.83 L420.02,977.46 L420.43,990.91 L420.84,949.63 L421.25,979.65 L421.66,965.29 L422.07,957.74 L422.48,962.89 L422.89,957.39 L423.30,973.78 L423.71,967.84 L424.12,983.87 L424.53,960.81 L424.94,942.75 L425.35,954.58 L425.76,972.48 L426.17,947.98 L426.58,957.66 L426.99,974.89 L427.40,949.13 L427.81,978.82 L428.22,971.91 L428.63,959.35 L429.04,966.47 L429.45,960.18 L429.86,961.38 L430.27,962.13 L430.68,966.59 L431.09,964.93 L431.50,955.91 L431.91,952.52 L432.32,993.34 L432.73,950.45 L433.14,962.98 L433.55,980.94 L433.96,977.89 L434.37,954.55 L434.78,991.06 L435.19,987.60 L435.60,959.37 L436.01,946.73 L436.42,971.62 L436.83,960.44 L437.24,958.73 L437.65,951.56 L438.06,954.17 L438.47,964.19 L438.88,973.88 L439.29,933.72 L439.70,929.40 L440.11,974.17 L440.52,949.64 L440.93,970.14 L441.34,962.14 L441.75,977.33 L442.16,972.65 L442.57,956.57 L442.98,958.01 L443.39,964.37 L443.80,969.96 L444.21,951.40 L444.62,939.30 L445.03,960.98 L445.44,958.90 L445.85,957.27 L446.26,945.81 L446.67,967.29 L447.08,935.78 L447.49,952.40 L447.90,976.21 L448.31,943.74 L448.72,964.18 L449.13,964.55 L449.54,964.12 L449.95,935.71 L450.36,971.75 L450.77,959.98 L451.18,964.58 L451.59,961.96 L452.00,958.55 L452.41,974.07 L452.82,976.90 L453.23,932.40 L453.64,946.86 L454.05,955.00 L454.46,927.93 L454.87,976.79 L455.28,946.54 L455.69,964.47 L456.10,959.74 L456.51,953.80 L456.92,943.07 L457.33,951.69 L457.74,957.71 L458.15,966.98 L458.56,953.59 L458.97,950.94 L459.38,952.86 L459.79,973.67 L460.20,959.98 L460.61,946.94 L461.02,938.98 L461.43,950.38 L461.84,943.57 L462.25,950.14 L462.66,974.04 L463.07,965.02 L463.48,958.74 L463.89,961.07 L464.30,978.80 L464.71,940.25 L465.12,961.54 L465.53,952.76 L465.94,957.39 L466.35,956.46 L466.76,951.21 L467.17,962.76 L467.58,926.38 L467.99,959.37 L468.40,964.66 L468.81,942.75 L469.22,942.53 L469.63,981.45 L470.04,943.84 L470.45,950.96 L470.86,945.81 L471.27,948.14 L471.68,947.53 L472.09,928.37 L472.50,988.96 L472.91,947.41 L473.32,962.50 L473.73,956.55 L474.14,975.98 L474.55,967.42 L474.96,973.55 L475.37,974.30 L475.78,970.16 L476.19,959.59 L476.60,971.62 L477.01,938.28 L477.42,971.85 L477.83,969.58 L478.24,964.50 L478.65,942.81 L479.06,978.82 L479.47,952.10 L479.88,969.77 L480.29,936.77 L480.70,959.38 L481.11,953.28 L481.52,951.69 L481.93,953.36 L482.34,986.28 L482.75,962.09 L483.16,967.23 L483.57,991.40 L483.98,943.60 L484.39,983.39 L484.80,957.91 L485.21,954.44 L485.62,957.34 L486.03,938.50 L486.44,942.14 L486.85,947.40 L487.26,954.97 L487.67,971.96 L488.08,976.79 L488.49,957.09 L488.90,966.84 L489.31,967.49 L489.72,958.35 L490.13,964.26 L490.54,953.03 L490.95,968.15 L491.36,957.41 L491.77,960.68 L492.18,963.29 L492.59,961.54 L493.00,949.67 L493.41,940.88 L493.82,957.78 L494.23,950.76 L494.64,950.93 L495.05,956.34 L495.46,947.90 L495.87,963.15 L496.28,962.18 L496.69,944.44 L497.10,961.17 L497.51,943.03 L497.92,965.33 L498.33,963.66 L498.74,954.92 L499.15,966.77 L499.56,968.29 L499.97,960.27 L500.38,929.45 L500.79,955.64 L501.20,956.36 L501.61,964.30 L502.02,940.08 L502.43,962.61 L502.84,957.75 L503.25,958.36 L503.66,936.16 L504.07,941.13 L504.48,967.89 L504.89,963.78 L505.30,951.54 L505.71,967.24 L506.12,956.20 L506.53,947.07 L506.94,931.48 L507.35,966.28 L507.76,950.80 L508.17,955.85 L508.58,928.60 L508.99,945.45 L509.40,956.73 L509.81,949.46 L510.22,942.92 L510.63,937.91 L511.04,955.64 L511.45,947.94 L511.86,948.36 L512.27,949.03 L512.68,944.29 L513.09,948.58 L513.50,944.81 L513.91,953.47 L514.32,934.73 L514.73,938.47 L515.14,953.58 L515.55,951.04 L515.96,955.39 L516.37,980.26 L516.78,963.41 L517.19,968.58 L517.60,959.09 L518.01,951.98 L518.42,942.96 L518.83,928.80 L519.24,934.80 L519.65,922.51 L520.06,938.84 L520.47,932.63 L520.88,941.00 L521.29,953.73 L521.70,948.58 L522.11,965.94 L522.52,966.22 L522.93,967.89 L523.34,965.76 L523.75,957.89 L524.16,947.51 L524.57,960.47 L524.98,951.16 L525.39,951.84 L525.80,960.04 L526.21,940.01 L526.62,932.89 L527.03,959.04 L527.44,978.51 L527.85,969.77 L528.26,1005.10 L528.67,936.11 L529.08,946.26 L529.49,924.16 L529.90,943.45 L530.31,980.30 L530.72,976.60 L531.13,941.45 L531.54,950.76 L531.95,944.09 L532.36,937.14 L532.77,951.89 L533.18,950.79 L533.59,956.46 L534.00,958.74 L534.41,964.60 L534.82,973.66 L535.23,954.26 L535.64,952.55 L536.05,955.48 L536.46,961.34 L536.87,953.67 L537.28,942.24 L537.69,948.53 L538.10,965.39 L538.51,941.79 L538.92,966.42 L539.33,936.96 L539.74,963.76 L540.15,963.52 L540.56,952.84 L540.97,955.37 L541.38,952.62 L541.79,978.20 L542.20,949.91 L542.61,946.04 L543.02,960.86 L543.43,970.66 L543.84,960.35 L544.25,953.93 L544.66,969.59 L545.07,945.80 L545.48,945.55 L545.89,939.46 L546.30,972.17 L546.71,926.51 L547.12,938.85 L547.53,959.38 L547.94,961.56 L548.35,979.34 L548.76,961.83 L549.17,949.58 L549.58,974.66 L549.99,970.45 L550.40,971.71 L550.81,970.50 L551.22,963.09 L551.63,936.91 L552.04,942.25 L552.45,982.63 L552.86,956.94 L553.27,931.84 L553.68,957.13 L554.09,969.26 L554.50,961.70 L554.91,956.63 L555.32,925.51 L555.73,957.28 L556.14,954.67 L556.55,978.86 L556.96,956.58 L557.37,955.84 L557.78,950.67 L558.19,954.92 L558.60,960.21 L559.01,949.77 L559.42,944.82 L559.83,940.10 L560.24,958.19 L560.65,951.90 L561.06,952.39 L561.47,936.38 L561.88,945.85 L562.29,931.41 L562.70,969.39 L563.11,972.40 L563.52,962.13 L563.93,955.17 L564.34,962.91 L564.75,936.88 L565.16,939.02 L565.57,972.40 L565.98,942.86 L566.39,956.03 L566.80,947.77 L567.21,924.16 L567.62,947.74 L568.03,967.73 L568.44,974.25 L568.85,923.07 L569.26,935.80 L569.67,949.03 L570.08,970.05 L570.49,973.10 L570.90,978.00 L571.31,979.30 L571.72,951.13 L572.13,943.59 L572.54,969.15 L572.95,953.41 L573.36,957.23 L573.77,952.05 L574.18,951.59 L574.59,969.04 L575.00,943.32 L575.41,933.46 L575.82,947.45 L576.23,958.15 L576.64,952.68 L577.05,954.87 L577.46,930.11 L577.87,944.98 L578.28,971.10 L578.69,954.39 L579.10,947.55 L579.51,971.70 L579.92,949.07 L580.33,966.64 L580.74,959.41 L581.15,961.95 L581.56,970.38 L581.97,986.63 L582.38,973.54 L582.79,945.08 L583.20,941.54 L583.61,952.03 L584.02,954.04 L584.43,965.70 L584.84,956.74 L585.25,958.98 L585.66,933.47 L586.07,955.60 L586.48,963.35 L586.89,979.08 L587.30,966.77 L587.71,957.46 L588.12,940.32 L588.53,956.06 L588.94,956.20 L589.35,954.22 L589.76,958.18 L590.17,962.86 L590.58,962.03 L590.99,985.97 L591.40,942.86 L591.81,934.90 L592.22,961.20 L592.63,939.42 L593.04,953.09 L593.45,954.77 L593.86,944.95 L594.27,966.47 L594.68,964.43 L595.09,957.63 L595.50,963.87 L595.91,967.38 L596.32,951.52 L596.73,963.64 L597.14,957.48 L597.55,955.55 L597.96,949.32 L598.37,978.95 L598.78,959.90 L599.19,936.39 L599.60,962.09 L600.01,921.12 L600.42,959.01 L600.83,965.66 L601.24,974.39 L601.65,958.10 L602.06,945.83 L602.47,981.33 L602.88,969.14 L603.29,972.58 L603.70,951.78 L604.11,963.66 L604.52,931.43 L604.93,961.49 L605.34,926.76 L605.75,941.21 L606.16,935.26 L606.57,970.33 L606.98,967.32 L607.39,947.01 L607.80,971.51 L608.21,955.90 L608.62,928.14 L609.03,949.56 L609.44,931.54 L609.85,955.70 L610.26,959.55 L610.67,944.72 L611.08,965.53 L611.49,968.77 L611.90,942.56 L612.31,962.22 L612.72,953.22 L613.13,950.73 L613.54,977.18 L613.95,944.99 L614.36,949.66 L614.77,953.55 L615.18,962.11 L615.59,964.82 L616.00,941.71 L616.41,972.81 L616.82,979.02 L617.23,981.44 L617.64,956.57 L618.05,947.46 L618.46,939.86 L618.87,958.95 L619.28,953.25 L619.69,953.43 L620.10,945.82 L620.51,924.35 L620.92,950.26 L621.33,951.79 L621.74,949.14 L622.15,934.95 L622.56,950.32 L622.97,951.98 L623.38,938.74 L623.79,962.61 L624.20,953.41 L624.61,955.67 L625.02,959.14 L625.43,950.37 L625.84,952.68 L626.25,960.85 L626.66,963.90 L627.07,965.64 L627.48,951.05 L627.89,963.88 L628.30,968.87 L628.71,934.48 L629.12,947.86 L629.53,952.98 L629.94,953.30 L630.35,977.45 L630.76,969.16 L631.17,951.32 L631.58,951.55 L631.99,934.20 L632.40,939.72 L632.81,971.08 L633.22,929.67 L633.63,961.34 L634.04,943.32 L634.45,948.63 L634.86,951.38 L635.27,977.40 L635.68,957.25 L636.09,959.50 L636.50,966.32 L636.91,922.65 L637.32,977.78 L637.73,929.94 L638.14,942.80 L638.55,961.78 L638.96,935.86 L639.37,928.86 L639.78,968.14 L640.19,948.16 L640.60,965.07 L641.01,958.95 L641.42,949.76 L641.83,975.25 L642.24,948.88 L642.65,979.61 L643.06,940.30 L643.47,938.88 L643.88,943.10 L644.29,955.54 L644.70,937.04 L645.11,942.93 L645.52,971.87 L645.93,954.97 L646.34,968.18 L646.75,957.66 L647.16,944.90 L647.57,942.59 L647.98,955.62 L648.39,954.24 L648.80,946.44 L649.21,946.14 L649.62,973.45 L650.03,968.18 L650.44,958.44 L650.85,950.06 L651.26,949.25 L651.67,982.19 L652.08,947.40 L652.49,986.87 L652.90,947.15 L653.31,936.27 L653.72,983.84 L654.13,955.40 L654.54,977.79 L654.95,963.46 L655.36,954.59 L655.77,970.84 L656.18,954.50 L656.59,964.60 L657.00,957.13 L657.41,935.59 L657.82,964.92 L658.23,952.71 L658.64,958.19 L659.05,965.92 L659.46,941.53 L659.87,968.13 L660.28,968.88 L660.69,987.18 L661.10,972.55 L661.51,966.26 L661.92,953.11 L662.33,961.65 L662.74,943.12 L663.15,967.64 L663.56,959.57 L663.97,957.40 L664.38,962.54 L664.79,968.44 L665.20,965.84 L665.61,946.42 L666.02,980.04 L666.43,962.57 L666.84,966.53 L667.25,962.00 L667.66,949.19 L668.07,965.17 L668.48,956.19 L668.89,949.87 L669.30,962.73 L669.71,970.99 L670.12,968.81 L670.53,962.99 L670.94,951.97 L671.35,955.56 L671.76,957.88 L672.17,940.34 L672.58,969.97 L672.99,960.11 L673.40,941.56 L673.81,978.39 L674.22,983.95 L674.63,940.57 L675.04,955.22 L675.45,946.15 L675.86,967.34 L676.27,938.46 L676.68,963.14 L677.09,961.47 L677.50,970.93 L677.91,930.57 L678.32,945.44 L678.73,952.74 L679.14,968.10 L679.55,956.36 L679.96,965.02 L680.37,960.97 L680.78,942.82 L681.19,953.15 L681.60,949.32 L682.01,950.38 L682.42,942.32 L682.83,964.65 L683.24,958.60 L683.65,929.10 L684.06,964.39 L684.47,947.03 L684.88,934.79 L685.29,970.78 L685.70,954.34 L686.11,959.37 L686.52,952.85 L686.93,954.22 L687.34,930.61 L687.75,964.90 L688.16,945.00 L688.57,955.10 L688.98,953.82 L689.39,942.07 L689.80,938.31 L690.21,953.09 L690.62,972.23 L691.03,946.49 L691.44,947.30 L691.85,956.69 L692.26,947.76 L692.67,973.16 L693.08,961.87 L693.49,989.36 L693.90,958.83 L694.31,985.78 L694.72,948.27 L695.13,959.34 L695.54,942.20 L695.95,951.35 L696.36,952.46 L696.77,964.98 L697.18,975.17 L697.59,953.58 L698.00,937.82 L698.41,957.31 L698.82,955.17 L699.23,951.04 L699.64,969.24 L700.05,973.07 L700.46,948.69 L700.87,948.68 L701.28,923.53 L701.69,950.02 L702.10,969.83 L702.51,946.40 L702.92,971.06 L703.33,968.08 L703.74,967.47 L704.15,967.85 L704.56,958.42 L704.97,973.37 L705.38,974.03 L705.79,964.64 L706.20,959.59 L706.61,977.69 L707.02,980.50 L707.43,952.00 L707.84,971.88 L708.25,961.57 L708.66,992.40 L709.07,956.78 L709.48,952.95 L709.89,949.16 L710.30,973.95 L710.71,947.70 L711.12,970.74 L711.53,955.40 L711.94,980.58 L712.35,983.87 L712.76,978.33 L713.17,937.01 L713.58,943.87 L713.99,927.40 L714.40,999.35 L714.81,956.16 L715.22,958.86 L715.63,965.25 L716.04,973.00 L716.45,960.63 L716.86,966.21 L717.27,965.43 L717.68,948.25 L718.09,990.39 L718.50,989.56 L718.91,966.83 L719.32,964.88 L719.73,992.17 L720.14,999.96 L720.55,967.95 L720.96,975.55 L721.37,962.04 L721.78,972.21 L722.19,933.43 L722.60,937.70 L723.01,974.16 L723.42,965.61 L723.83,973.59 L724.24,969.36 L724.65,976.50 L725.06,971.83 L725.47,966.06 L725.88,974.03 L726.29,959.38 L726.70,987.31 L727.11,955.04 L727.52,962.71 L727.93,980.15 L728.34,962.88 L728.75,980.63 L729.16,987.22 L729.57,977.95 L729.98,961.22 L730.39,992.67 L730.80,972.92 L731.21,953.48 L731.62,993.46 L732.03,968.49 L732.44,974.10 L732.85,977.63 L733.26,958.24 L733.67,977.04 L734.08,947.82 L734.49,951.03 L734.90,958.68 L735.31,993.15 L735.72,971.49 L736.13,978.79 L736.54,956.90 L736.95,969.68 L737.36,933.61 L737.77,958.40 L738.18,967.43 L738.59,953.58 L739.00,934.16 L739.41,938.52 L739.82,968.93 L740.23,978.22 L740.64,954.66 L741.05,981.00 L741.46,941.51 L741.87,967.17 L742.28,962.50 L742.69,972.33 L743.10,937.44 L743.51,970.94 L743.92,958.58 L744.33,945.00 L744.74,950.13 L745.15,952.96 L745.56,959.36 L745.97,943.60 L746.38,943.03 L746.79,955.49 L747.20,953.36 L747.61,960.19 L748.02,965.26 L748.43,927.40 L748.84,950.80 L749.25,954.73 L749.66,951.71 L750.07,936.03 L750.48,959.66 L750.89,972.58 L751.30,946.29 L751.71,937.13 L752.12,957.54 L752.53,946.46 L752.94,946.96 L753.35,947.55 L753.76,937.48 L754.17,942.67 L754.58,932.28 L754.99,914.71 L755.40,954.82 L755.81,944.06 L756.22,938.72 L756.63,957.60 L757.04,936.99 L757.45,954.22 L757.86,950.18 L758.27,935.03 L758.68,921.93 L759.09,945.43 L759.50,942.04 L759.91,952.72 L760.32,917.95 L760.73,937.31 L761.14,942.17 L761.55,943.68 L761.96,940.63 L762.37,943.24 L762.78,907.46 L763.19,934.81 L763.60,929.98 L764.01,918.09 L764.42,940.65 L764.83,933.81 L765.24,923.40 L765.65,920.24 L766.06,943.69 L766.47,904.92 L766.88,938.34 L767.29,924.57 L767.70,941.85 L768.11,966.37 L768.52,954.45 L768.93,940.04 L769.34,961.66 L769.75,967.13 L770.16,955.37 L770.57,967.45 L770.98,945.56 L771.39,951.66 L771.80,942.25 L772.21,938.58 L772.62,944.48 L773.03,933.95 L773.44,943.67 L773.85,975.60 L774.26,955.73 L774.67,943.95 L775.08,970.63 L775.49,967.45 L775.90,933.82 L776.31,939.51 L776.72,973.31 L777.13,951.71 L777.54,953.59 L777.95,944.60 L778.36,937.40 L778.77,968.90 L779.18,942.89 L779.59,962.03 L780.00,980.73 L780.41,963.40 L780.82,953.89 L781.23,966.11 L781.64,965.85 L782.05,952.71 L782.46,963.33 L782.87,943.96 L783.28,937.36 L783.69,954.66 L784.10,939.08 L784.51,955.39 L784.92,963.38 L785.33,968.67 L785.74,992.88 L786.15,956.16 L786.56,964.03 L786.97,965.53 L787.38,959.71 L787.79,1002.98 L788.20,966.37 L788.61,975.57 L789.02,978.22 L789.43,1015.86 L789.84,980.08 L790.25,975.61 L790.66,1004.92 L791.07,980.79 L791.48,962.85 L791.89,1009.25 L792.30,1008.51 L792.71,978.10 L793.12,982.76 L793.53,1001.38 L793.94,990.71 L794.35,985.30 L794.76,991.97 L795.17,1035.29 L795.58,1027.90 L795.99,1000.82 L796.40,1015.88 L796.81,1022.02 L797.22,1018.52 L797.63,1025.35 L798.04,1052.69 L798.45,1022.53 L798.86,1023.45 L799.27,1036.24 L799.68,1030.39 L800.09,1036.41 L800.50,1039.34 L800.91,1034.66 L801.32,1068.18 L801.73,1045.40 L802.14,1076.00 L802.55,1049.13 L802.96,1051.39 L803.37,1070.63 L803.78,1066.66 L804.19,1085.08 L804.60,1085.72 L805.01,1111.39 L805.42,1041.40 L805.83,1070.79 L806.24,1087.62 L806.65,1088.18 L807.06,1093.14 L807.47,1132.29 L807.88,1067.27 L808.29,1110.02 L808.70,1099.42 L809.11,1104.71 L809.52,1121.56 L809.93,1107.41 L810.34,1120.68 L810.75,1128.80 L811.16,1128.13 L811.57,1085.72 L811.98,1102.23 L812.39,1092.27 L812.80,1098.16 L813.21,1104.73 L813.62,1134.44 L814.03,1094.48 L814.44,1097.09 L814.85,1096.66 L815.26,1117.31 L815.67,1085.61 L816.08,1096.23 L816.49,1097.51 L816.90,1089.78 L817.31,1048.97 L817.72,1054.05 L818.13,1076.40 L818.54,1036.76 L818.95,1051.80 L819.36,1026.41 L819.77,1044.51 L820.18,1029.34 L820.59,999.07 L821.00,1007.94 L821.41,986.96 L821.82,983.59 L822.23,998.00 L822.64,973.69 L823.05,964.05 L823.46,970.98 L823.87,942.06 L824.28,950.02 L824.69,928.81 L825.10,918.90 L825.51,902.34 L825.92,888.47 L826.33,878.59 L826.74,872.86 L827.15,886.08 L827.56,878.09 L827.97,855.18 L828.38,879.18 L828.79,849.75 L829.20,849.79 L829.61,833.02 L830.02,837.55 L830.43,858.54 L830.84,850.21 L831.25,833.37 L831.66,857.46 L832.07,838.20 L832.48,839.22 L832.89,851.85 L833.30,842.84 L833.71,831.17 L834.12,820.53 L834.53,852.28 L834.94,801.63 L835.35,825.21 L835.76,809.51 L836.17,825.50 L836.58,845.48 L836.99,829.66 L837.40,829.05 L837.81,835.06 L838.22,863.72 L838.63,856.74 L839.04,842.16 L839.45,831.46 L839.86,836.12 L840.27,847.58 L840.68,840.92 L841.09,843.78 L841.50,832.31 L841.91,829.03 L842.32,833.62 L842.73,852.87 L843.14,837.88 L843.55,886.30 L843.96,860.15 L844.37,862.47 L844.78,868.16 L845.19,841.11 L845.60,840.30 L846.01,854.17 L846.42,866.38 L846.83,866.75 L847.24,882.64 L847.65,880.13 L848.06,876.23 L848.47,878.23 L848.88,867.18 L849.29,876.00 L849.70,861.16 L850.11,859.89 L850.52,879.11 L850.93,844.27 L851.34,886.56 L851.75,893.41 L852.16,861.97 L852.57,879.43 L852.98,872.02 L853.39,856.84 L853.80,875.75 L854.21,878.43 L854.62,885.47 L855.03,867.58 L855.44,874.41 L855.85,864.56 L856.26,887.00 L856.67,872.27 L857.08,885.75 L857.49,865.11 L857.90,876.30 L858.31,862.71 L858.72,865.16 L859.13,890.75 L859.54,873.39 L859.95,875.02 L860.36,886.47 L860.77,865.75 L861.18,903.59 L861.59,866.87 L862.00,872.39 L862.41,907.75 L862.82,854.95 L863.23,902.72 L863.64,884.26 L864.05,886.25 L864.46,865.19 L864.87,882.09 L865.28,862.72 L865.69,893.78 L866.10,876.98 L866.51,871.60 L866.92,873.97 L867.33,878.58 L867.74,894.04 L868.15,885.77 L868.56,870.35 L868.97,868.84 L869.38,866.57 L869.79,891.24 L870.20,886.73 L870.61,864.78 L871.02,857.44 L871.43,878.37 L871.84,870.91 L872.25,885.45 L872.66,876.17 L873.07,882.38 L873.48,887.75 L873.89,890.44 L874.30,872.75 L874.71,884.84 L875.12,866.76 L875.53,857.39 L875.94,875.94 L876.35,888.16 L876.76,890.02 L877.17,868.70 L877.58,844.97 L877.99,871.52 L878.40,863.05 L878.81,873.27 L879.22,878.34 L879.63,856.90 L880.04,852.19 L880.45,855.49 L880.86,850.45 L881.27,845.16 L881.68,860.56 L882.09,846.79 L882.50,852.16 L882.91,850.92 L883.32,846.81 L883.73,863.18 L884.14,848.73 L884.55,853.87 L884.96,865.81 L885.37,853.11 L885.78,835.46 L886.19,848.82 L886.60,848.91 L887.01,863.94 L887.42,877.99 L887.83,858.40 L888.24,854.09 L888.65,875.78 L889.06,846.98 L889.47,860.96 L889.88,864.16 L890.29,858.08 L890.70,857.52 L891.11,863.90 L891.52,883.59 L891.93,872.71 L892.34,859.03 L892.75,873.56 L893.16,886.61 L893.57,902.70 L893.98,895.51 L894.39,893.85 L894.80,916.80 L895.21,917.66 L895.62,916.59 L896.03,915.90 L896.44,937.28 L896.85,961.22 L897.26,947.80 L897.67,956.41 L898.10,996.75 L898.20,1001.32 L898.30,1005.99 L898.40,1010.75 L898.50,1015.61 L898.60,1020.56 L898.70,1025.60 L898.80,1030.96 L898.90,1036.82 L899.00,1043.07 L899.10,1049.61 L899.20,1056.36 L899.30,1063.20 L899.40,1070.04 L899.50,1076.79 L899.60,1083.33 L899.70,1089.58 L899.80,1095.44 L899.90,1100.80 L900.00,1105.75 L900.10,1110.44 L900.20,1114.92 L900.30,1119.21 L900.40,1123.33 L900.50,1127.33 L900.60,1131.22 L900.70,1135.05 L900.80,1138.83 L900.90,1142.61 L901.00,1146.40 L901.10,1150.24 L901.20,1154.16 L901.30,1158.19 L901.40,1162.36 L901.50,1166.70 L901.60,1171.24 L901.70,1176.00 L901.80,1181.22 L901.90,1187.01 L902.00,1193.24 L902.10,1199.79 L902.20,1206.51 L902.30,1213.28 L902.40,1219.97 L902.50,1226.45 L902.60,1232.58 L902.70,1238.23 L902.80,1243.27 L902.90,1247.57 L903.00,1251.00 L903.10,1253.85 L903.20,1256.49 L903.30,1258.95 L903.40,1261.24 L903.50,1263.36 L903.60,1265.35 L903.70,1267.20 L903.80,1268.94 L903.90,1270.57 L904.00,1272.12 L904.10,1273.59 L904.20,1275.00 L904.30,1276.41 L904.40,1277.86 L904.50,1279.31 L904.60,1280.75 L904.70,1282.15 L904.80,1283.47 L904.90,1284.71 L905.00,1285.82 L905.10,1286.79 L905.20,1287.59 L905.30,1288.19 L905.40,1288.57 L905.50,1288.70 L905.60,1288.54 L905.70,1288.10 L905.80,1287.38 L905.90,1286.44 L906.00,1285.28 L906.10,1283.95 L906.20,1282.46 L906.30,1280.86 L906.40,1279.16 L906.50,1277.39 L906.60,1275.59 L906.70,1273.79 L906.80,1272.00 L906.90,1270.14 L907.00,1268.08 L907.10,1265.84 L907.20,1263.43 L907.30,1260.84 L907.40,1258.10 L907.50,1255.19 L907.60,1252.14 L907.70,1248.95 L907.80,1245.62 L907.90,1242.17 L908.00,1238.60 L908.10,1234.74 L908.20,1230.44 L908.30,1225.78 L908.40,1220.79 L908.50,1215.54 L908.60,1210.08 L908.70,1204.46 L908.80,1198.75 L908.90,1192.99 L909.00,1187.24 L909.10,1181.56 L909.20,1176.00 L909.30,1170.49 L909.40,1164.92 L909.50,1159.31 L909.60,1153.64 L909.70,1147.93 L909.80,1142.17 L909.90,1136.37 L910.00,1130.53 L910.10,1124.65 L910.20,1118.73 L910.30,1112.78 L910.40,1106.81 L910.50,1100.80 L910.60,1094.65 L910.70,1088.28 L910.80,1081.75 L910.90,1075.11 L911.00,1068.44 L911.10,1061.78 L911.20,1055.21 L911.30,1048.77 L911.40,1042.53 L911.50,1036.55 L911.60,1030.88 L911.70,1025.60 L911.80,1020.40 L911.90,1015.02 L912.00,1009.55 L912.10,1004.08 L912.20,998.70 L912.30,993.52 L912.40,988.62 L912.50,984.09 L912.60,980.04 L912.70,976.55 L912.80,973.72 L912.90,971.64 L913.00,970.40 L913.10,969.63 L913.20,968.90 L913.30,968.21 L913.40,967.55 L913.50,966.92 L913.60,966.32 L913.70,965.75 L913.80,965.22 L913.90,964.71 L914.00,964.23 L914.10,963.77 L914.20,963.35 L914.30,962.94 L914.40,962.57 L914.50,962.21 L914.60,961.88 L914.70,961.56 L914.80,961.27 L914.90,961.00 L915.00,960.75 L915.10,960.51 L915.20,960.29 L915.30,960.08 L915.40,959.89 L915.50,959.72 L915.60,959.55 L915.70,959.40 L915.80,959.26 L915.90,959.12 L916.00,959.00 L916.10,958.88 L916.20,958.76 L916.30,958.65 L916.40,958.54 L916.50,958.43 L916.60,958.32 L916.70,958.22 L916.80,958.13 L916.90,958.04 L917.00,957.95 L917.10,957.87 L917.20,957.80 L917.30,957.73 L917.40,957.67 L917.50,957.62 L917.60,957.58 L917.70,957.55 L917.80,957.52 L917.90,957.51 L918.00,957.50 L918.10,957.50 L918.20,957.50 L918.30,957.50 L918.40,957.50 L918.50,957.50 L918.60,957.50 L918.70,957.50 L918.80,957.50 L918.90,957.50 L919.00,957.50 L919.10,957.50 L919.20,957.50 L919.30,957.50 L919.40,957.50 L919.50,957.50 L919.60,957.50 L919.70,957.50 L919.80,957.50 L919.90,957.50 L920.00,957.50 L920.10,957.50 L920.20,957.50 L920.30,957.50 L920.40,957.50 L920.50,957.50 L920.60,957.50 L920.70,957.50 L920.80,957.50 L920.90,957.50 L921.00,957.50 L921.10,957.50 L921.20,957.50 L921.30,957.50 L921.40,957.50 L921.50,957.50 L921.60,957.50 L921.70,957.50 L921.80,957.50 L921.90,957.50 L922.00,957.50 L922.10,957.50 L922.20,957.50 L922.30,957.50 L922.40,957.50 L922.50,957.50 L922.60,957.50 L922.70,957.50 L922.80,957.50 L922.90,957.50 L923.00,957.50 L923.10,957.50 L923.20,957.50 L923.30,957.50 L923.40,957.50 L923.50,957.50 L923.60,957.50 L923.70,957.50 L923.80,957.50 L923.90,957.50 L924.00,957.50 L924.10,957.50 L924.20,957.50 L924.30,957.50 L924.40,957.50 L924.50,957.50 L924.60,957.50 L924.70,957.50 L924.80,957.50 L924.90,957.50 L925.00,957.50 L925.10,957.50 L925.20,957.50 L925.30,957.50 L925.40,957.50 L925.50,957.50 L925.60,957.50 L925.70,957.50 L925.80,957.50 L925.90,957.50 L926.00,957.50 L926.10,957.50 L926.20,957.50 L926.30,957.50 L926.40,957.50 L926.50,957.50 L926.60,957.50 L926.70,957.50 L926.80,957.50 L926.90,957.50 L927.00,957.50 L927.10,957.50 L927.20,957.50 L927.30,957.50 L927.40,957.50 L927.50,957.50 L927.60,957.50 L927.70,957.50 L927.80,957.50 L927.90,957.50 L928.00,957.50 L928.10,957.50 L928.20,957.50 L928.30,957.50 L928.40,957.50 L928.50,957.50 L928.60,957.50 L928.70,957.50 L928.80,957.50 L928.90,957.50 L929.00,957.50 L929.10,957.50 L929.20,957.50 L929.30,957.50 L929.40,957.50 L929.50,957.50 L929.60,957.50 L929.70,957.50 L929.80,957.50 L929.90,957.50 L930.00,957.50 L930.10,957.50 L930.20,957.50 L930.30,957.50 L930.40,957.50 L930.50,957.50 L930.60,957.50 L930.70,957.50 L930.80,957.50 L930.90,957.50 L931.00,957.50 L931.10,957.50 L931.20,957.50 L931.30,957.50 L931.40,957.50 L931.50,957.50 L931.60,957.50 L931.70,957.50 L931.80,957.50 L931.90,957.50 L932.00,957.50 L932.10,957.50 L932.20,957.50 L932.30,957.50 L932.40,957.50 L932.50,957.50 L932.60,957.50 L932.70,957.50 L932.80,957.50 L932.90,957.50 L933.00,957.50 L933.10,957.50 L933.20,957.50 L933.30,957.50 L933.40,957.50 L933.50,957.50 L933.60,957.50 L933.70,957.50 L933.80,957.50 L933.90,957.50 L934.00,957.50 L934.10,957.50 L934.20,957.50 L934.30,957.50 L934.40,957.50 L934.50,957.50 L934.60,957.50 L934.70,957.50 L934.80,957.50 L934.90,957.50 L935.00,957.50 L935.10,957.50 L935.20,957.50 L935.30,957.50 L935.40,957.50 L935.50,957.50 L935.60,957.50 L935.70,957.50 L935.80,957.50 L935.90,957.50 L936.00,957.50 L936.10,957.50 L936.20,957.50 L936.30,957.50 L936.40,957.50 L936.50,957.50 L936.60,957.50 L936.70,957.50 L936.80,957.50 L936.90,957.50 L937.00,957.50 L937.10,957.50 L937.20,957.50 L937.30,957.50 L937.40,957.50 L937.50,957.50 L937.60,957.50 L937.70,957.50 L937.80,957.50 L937.90,957.50 L938.00,957.50 L938.10,957.50 L938.20,957.50 L938.30,957.50 L938.40,957.50 L938.50,957.50 L938.60,957.50 L938.70,957.50 L938.80,957.50 L938.90,957.50 L939.00,957.50 L939.10,957.50 L939.20,957.50 L939.30,957.50 L939.40,957.50 L939.50,957.50 L939.60,957.50 L939.70,957.50 L939.80,957.50 L939.90,957.50 L940.00,957.50 L940.10,957.50 L940.20,957.50 L940.30,957.50 L940.40,957.50 L940.50,957.50 L940.60,957.50 L940.70,957.50 L940.80,957.50 L940.90,957.50 L941.00,957.50 L941.10,957.50 L941.20,957.50 L941.30,957.50 L941.40,957.50 L941.50,957.50 L941.60,957.50 L941.70,957.50 L941.80,957.50 L941.90,957.50 L942.00,957.50 L942.10,957.50 L942.20,957.50 L942.30,957.50 L942.40,957.50 L942.50,957.50 L942.60,957.50 L942.70,957.50 L942.80,957.50 L942.90,957.50 L943.00,957.50 L943.10,957.50 L943.20,957.50 L943.30,957.50 L943.40,957.50 L943.50,957.50 L943.60,957.50 L943.70,957.50 L943.80,957.50 L943.90,957.50 L944.00,957.50 L944.10,957.50 L944.20,957.50 L944.30,957.50 L944.40,957.50 L944.50,957.50 L944.60,957.50 L944.70,957.50 L944.80,957.50 L944.90,957.50 L945.00,957.50 L945.10,957.50 L945.20,957.50 L945.30,957.50 L945.40,957.50 L945.50,957.50 L945.60,957.50 L945.70,957.50 L945.80,957.50 L945.90,957.50 L946.00,957.50 L946.10,957.50 L946.20,957.50 L946.30,957.50 L946.40,957.50 L946.50,957.50 L946.60,957.50 L946.70,957.50 L946.80,957.50 L946.90,957.50 L947.00,957.50 L947.10,957.50 L947.20,957.50 L947.30,957.50 L947.40,957.50 L947.50,957.50 L947.60,957.50 L947.70,957.50 L947.80,957.50 L947.90,957.50 L948.00,957.50 L948.10,957.50 L948.20,957.50 L948.30,957.50 L948.40,957.50 L948.50,957.50 L948.60,957.50 L948.70,957.50 L948.80,957.50 L948.90,957.50 L949.00,957.50 L949.10,957.50 L949.20,957.50 L949.30,957.50 L949.40,957.50 L949.50,957.50 L949.60,957.50 L949.70,957.50 L949.80,957.50 L949.90,957.50 L950.00,957.50 L950.10,957.50 L950.20,957.50 L950.30,957.50 L950.40,957.50 L950.50,957.50 L950.60,957.50 L950.70,957.50 L950.80,957.50 L950.90,957.50 L951.00,957.50 L951.10,957.50 L951.20,957.50 L951.30,957.50 L951.40,957.50 L951.50,957.50 L951.60,957.50 L951.70,957.50 L951.80,957.50 L951.90,957.50 L952.00,957.50 L952.10,957.50 L952.20,957.50 L952.30,957.50 L952.40,957.50 L952.50,957.50 L952.60,957.50 L952.70,957.50 L952.80,957.50 L952.90,957.50 L953.00,957.50 L953.10,957.50 L953.20,957.50 L953.30,957.50 L953.40,957.50 L953.50,957.50 L953.60,957.50 L953.70,957.50 L953.80,957.50 L953.90,957.50 L954.00,957.50 L954.10,957.50 L954.20,957.50 L954.30,957.50 L954.40,957.50 L954.50,957.50 L954.60,957.50 L954.70,957.50 L954.80,957.50 L954.90,957.50 L955.00,957.50 L955.10,957.50 L955.20,957.50 L955.30,957.50 L955.40,957.50 L955.50,957.50 L955.60,957.50 L955.70,957.50 L955.80,957.50 L955.90,957.50 L956.00,957.50 L956.10,957.50 L956.20,957.50 L956.30,957.50 L956.40,957.50 L956.50,957.50 L956.60,957.50 L956.70,957.50 L956.80,957.50 L956.90,957.50 L957.00,957.50 L957.10,957.50 L957.20,957.50 L957.30,957.50 L957.40,957.50 L957.50,957.50 L957.60,957.50 L957.70,957.50 L957.80,957.50 L957.90,957.50 L958.00,957.50 L958.10,957.50 L958.20,957.50 L958.30,957.50 L958.40,957.50 L958.50,957.50 L958.60,957.50 L958.70,957.50 L958.80,957.50 L958.90,957.50 L959.00,957.50 L959.10,957.50 L959.20,957.50 L959.30,957.50 L959.40,957.50 L959.50,957.50 L959.60,957.50 L959.70,957.50 L959.80,957.50 L959.90,957.50 L960.00,957.50 L960.10,957.50 L960.20,957.50 L960.30,957.50 L960.40,957.50 L960.50,957.50 L960.60,957.50 L960.70,957.50 L960.80,957.50 L960.90,957.50 L961.00,957.50 L961.10,957.50 L961.20,957.50 L961.30,957.50 L961.40,957.50 L961.50,957.50 L961.60,957.50 L961.70,957.50 L961.80,957.50 L961.90,957.50 L962.00,957.50 L962.10,957.50 L962.20,957.50 L962.30,957.50 L962.40,957.50 L962.50,957.50 L962.60,957.50 L962.70,957.50 L962.80,957.50 L962.90,957.50 L963.00,957.50 L963.10,957.50 L963.20,957.50 L963.30,957.50 L963.40,957.50 L963.50,957.50 L963.60,957.50 L963.70,957.50 L963.80,957.50 L963.90,957.50 L964.00,957.50 L964.10,957.50 L964.20,957.50 L964.30,957.50 L964.40,957.50 L964.50,957.50 L964.60,957.50 L964.70,957.50 L964.80,957.50 L964.90,957.50 L965.00,957.50 L965.10,957.50 L965.20,957.50 L965.30,957.50 L965.40,957.50 L965.50,957.50 L965.60,957.50 L965.70,957.50 L965.80,957.50 L965.90,957.50 L966.00,957.50 L966.10,957.50 L966.20,957.50 L966.30,957.50 L966.40,957.50 L966.50,957.50 L966.60,957.50 L966.70,957.50 L966.80,957.50 L966.90,957.50 L967.00,957.50 L967.10,957.50 L967.20,957.50 L967.30,957.50 L967.40,957.50 L967.50,957.50 L967.60,957.50 L967.70,957.50 L967.80,957.50 L967.90,957.50 L968.00,957.50 L968.10,957.50 L968.20,957.50 L968.30,957.50 L968.40,957.50 L968.50,957.50 L968.60,957.50 L968.70,957.50 L968.80,957.50 L968.90,957.50 L969.00,957.50 L969.10,957.50 L969.20,957.50 L969.30,957.50 L969.40,957.50 L969.50,957.50 L969.60,957.50 L969.70,957.50 L969.80,957.50 L969.90,957.50 L970.00,957.50 L970.10,957.50 L970.20,957.50 L970.30,957.50 L970.40,957.50 L970.50,957.50 L970.60,957.50 L970.70,957.50 L970.80,957.50 L970.90,957.50 L971.00,957.50 L971.10,957.50 L971.20,957.50 L971.30,957.50 L971.40,957.50 L971.50,957.50 L971.60,957.50 L971.70,957.50 L971.80,957.50 L971.90,957.50 L972.00,957.50 L972.10,957.50 L972.20,957.50 L972.30,957.50 L972.40,957.50 L972.50,957.50 L972.60,957.50 L972.70,957.50 L972.80,957.50 L972.90,957.50 L973.00,957.50 L973.10,957.50 L973.20,957.50 L973.30,957.50 L973.40,957.50 L973.50,957.50 L973.60,957.50 L973.70,957.50 L973.80,957.50 L973.90,957.50 L974.00,957.50 L974.10,957.50 L974.20,957.50 L974.30,957.50 L974.40,957.50 L974.50,957.50 L974.60,957.50 L974.70,957.50 L974.80,957.50 L974.90,957.50 L975.00,957.50 L975.10,957.50 L975.20,957.50 L975.30,957.50 L975.40,957.50 L975.50,957.50 L975.60,957.50 L975.70,957.50 L975.80,957.50 L975.90,957.50 L976.00,957.50 L976.10,957.50 L976.20,957.50 L976.30,957.50 L976.40,957.50 L976.50,957.50 L976.60,957.50 L976.70,957.50 L976.80,957.50 L976.90,957.50 L977.00,957.50 L977.10,957.50 L977.20,957.50 L977.30,957.50 L977.40,957.50 L977.50,957.50 L977.60,957.50 L977.70,957.50 L977.80,957.50 L977.90,957.50 L978.00,957.50 L978.10,957.50 L978.20,957.50 L978.30,957.50 L978.40,957.50 L978.50,957.50 L978.60,957.50 L978.70,957.50 L978.80,957.50 L978.90,957.50 L979.00,957.50 L979.10,957.50 L979.20,957.50 L979.30,957.50 L979.40,957.50 L979.50,957.50 L979.60,957.50 L979.70,957.50 L979.80,957.50 L979.90,957.50 L980.00,957.50 L980.10,957.50 L980.20,957.50 L980.30,957.50 L980.40,957.50 L980.50,957.50 L980.60,957.50 L980.70,957.50 L980.80,957.50 L980.90,957.50 L981.00,957.50 L981.10,957.50 L981.20,957.50 L981.30,957.50 L981.40,957.50 L981.50,957.50 L981.60,957.50 L981.70,957.50 L981.80,957.50 L981.90,957.50 L982.00,957.50 L982.10,957.50 L982.20,957.50 L982.30,957.50 L982.40,957.50 L982.50,957.50 L982.60,957.50 L982.70,957.50 L982.80,957.50 L982.90,957.50 L983.00,957.50 L983.10,957.50 L983.20,957.50 L983.30,957.50 L983.40,957.50 L983.50,957.50 L983.60,957.50 L983.70,957.50 L983.80,957.50 L983.90,957.50 L984.00,957.50 L984.10,957.50 L984.20,957.50 L984.30,957.50 L984.40,957.50 L984.50,957.50 L984.60,957.50 L984.70,957.50 L984.80,957.50 L984.90,957.50 L985.00,957.50" fill="none" stroke="#ffa500" stroke-width="7.00" stroke-linejoin="round"/>
<path d="M165.00,957.50 L165.10,957.50 L165.20,957.50 L165.30,957.50 L165.40,957.50 L165.50,957.50 L165.60,957.50 L165.70,957.50 L165.80,957.50 L165.90,957.50 L166.00,957.50 L166.10,957.50 L166.20,957.50 L166.30,957.50 L166.40,957.50 L166.50,957.50 L166.60,957.50 L166.70,957.50 L166.80,957.50 L166.90,957.50 L167.00,957.50 L167.10,957.50 L167.20,957.50 L167.30,957.50 L167.40,957.50 L167.50,957.50 L167.60,957.50 L167.70,957.50 L167.80,957.50 L167.90,957.50 L168.00,957.50 L168.10,957.50 L168.20,957.50 L168.30,957.50 L168.40,957.50 L168.50,957.50 L168.60,957.50 L168.70,957.50 L168.80,957.50 L168.90,957.50 L169.00,957.50 L169.10,957.50 L169.20,957.50 L169.30,957.50 L169.40,957.50 L169.50,957.50 L169.60,957.50 L169.70,957.50 L169.80,957.50 L169.90,957.50 L170.00,957.50 L170.10,957.50 L170.20,957.50 L170.30,957.50 L170.40,957.50 L170.50,957.50 L170.60,957.50 L170.70,957.50 L170.80,957.50 L170.90,957.50 L171.00,957.50 L171.10,957.50 L171.20,957.50 L171.30,957.50 L171.40,957.50 L171.50,957.50 L171.60,957.50 L171.70,957.50 L171.80,957.50 L171.90,957.50 L172.00,957.50 L172.10,957.50 L172.20,957.50 L172.30,957.50 L172.40,957.50 L172.50,957.50 L172.60,957.50 L172.70,957.50 L172.80,957.50 L172.90,957.50 L173.00,957.50 L173.10,957.50 L173.20,957.50 L173.30,957.50 L173.40,957.50 L173.50,957.50 L173.60,957.50 L173.70,957.50 L173.80,957.50 L173.90,957.50 L174.00,957.50 L174.10,957.50 L174.20,957.50 L174.30,957.50 L174.40,957.50 L174.50,957.50 L174.60,957.50 L174.70,957.50 L174.80,957.50 L174.90,957.50 L175.00,957.50 L175.10,957.50 L175.20,957.50 L175.30,957.50 L175.40,957.50 L175.50,957.50 L175.60,957.50 L175.70,957.50 L175.80,957.50 L175.90,957.50 L176.00,957.50 L176.10,957.50 L176.20,957.50 L176.30,957.50 L176.40,957.50 L176.50,957.50 L176.60,957.50 L176.70,957.50 L176.80,957.50 L176.90,957.50 L177.00,957.50 L177.10,957.50 L177.20,957.50 L177.30,957.50 L177.40,957.50 L177.50,957.50 L177.60,957.50 L177.70,957.50 L177.80,957.50 L177.90,957.50 L178.00,957.50 L178.10,957.50 L178.20,957.50 L178.30,957.50 L178.40,957.50 L178.50,957.50 L178.60,957.50 L178.70,957.50 L178.80,957.50 L178.90,957.50 L179.00,957.50 L179.10,957.50 L179.20,957.50 L179.30,957.50 L179.40,957.50 L179.50,957.50 L179.60,957.50 L179.70,957.50 L179.80,957.50 L179.90,957.50 L180.00,957.50 L180.10,957.50 L180.20,957.50 L180.30,957.50 L180.40,957.50 L180.50,957.50 L180.60,957.50 L180.70,957.50 L180.80,957.50 L180.90,957.50 L181.00,957.50 L181.10,957.50 L181.20,957.50 L181.30,957.50 L181.40,957.50 L181.50,957.50 L181.60,957.50 L181.70,957.50 L181.80,957.50 L181.90,957.50 L182.00,957.50 L182.10,957.50 L182.20,957.50 L182.30,957.50 L182.40,957.50 L182.50,957.50 L182.60,957.50 L182.70,957.50 L182.80,957.50 L182.90,957.50 L183.00,957.50 L183.10,957.50 L183.20,957.50 L183.30,957.50 L183.40,957.50 L183.50,957.50 L183.60,957.50 L183.70,957.50 L183.80,957.50 L183.90,957.50 L184.00,957.50 L184.10,957.50 L184.20,957.50 L184.30,957.50 L184.40,957.50 L184.50,957.50 L184.60,957.50 L184.70,957.50 L184.80,957.50 L184.90,957.50 L185.00,957.50 L185.10,957.50 L185.20,957.50 L185.30,957.50 L185.40,957.50 L185.50,957.50 L185.60,957.50 L185.70,957.50 L185.80,957.50 L185.90,957.50 L186.00,957.50 L186.10,957.50 L186.20,957.50 L186.30,957.50 L186.40,957.50 L186.50,957.50 L186.60,957.50 L186.70,957.50 L186.80,957.50 L186.90,957.50 L187.00,957.50 L187.10,957.50 L187.20,957.50 L187.30,957.50 L187.40,957.50 L187.50,957.50 L187.60,957.50 L187.70,957.50 L187.80,957.50 L187.90,957.50 L188.00,957.50 L188.10,957.50 L188.20,957.50 L188.30,957.50 L188.40,957.50 L188.50,957.50 L188.60,957.50 L188.70,957.50 L188.80,957.50 L188.90,957.50 L189.00,957.50 L189.10,957.50 L189.20,957.50 L189.30,957.50 L189.40,957.50 L189.50,957.50 L189.60,957.50 L189.70,957.50 L189.80,957.50 L189.90,957.50 L190.00,957.50 L190.10,957.50 L190.20,957.50 L190.30,957.50 L190.40,957.50 L190.50,957.50 L190.60,957.50 L190.70,957.50 L190.80,957.50 L190.90,957.50 L191.00,957.50 L191.10,957.50 L191.20,957.50 L191.30,957.50 L191.40,957.50 L191.50,957.50 L191.60,957.50 L191.70,957.50 L191.80,957.50 L191.90,957.50 L192.00,957.50 L192.10,957.50 L192.20,957.50 L192.30,957.50 L192.40,957.50 L192.50,957.50 L192.60,957.50 L192.70,957.50 L192.80,957.50 L192.90,957.50 L193.00,957.50 L193.10,957.50 L193.20,957.50 L193.30,957.50 L193.40,957.50 L193.50,957.50 L193.60,957.50 L193.70,957.50 L193.80,957.50 L193.90,957.50 L194.00,957.50 L194.10,957.50 L194.20,957.50 L194.30,957.50 L194.40,957.50 L194.50,957.50 L194.60,957.50 L194.70,957.50 L194.80,957.50 L194.90,957.50 L195.00,957.50 L195.10,957.50 L195.20,957.50 L195.30,957.50 L195.40,957.50 L195.50,957.50 L195.60,957.50 L195.70,957.50 L195.80,957.50 L195.90,957.50 L196.00,957.50 L196.10,957.50 L196.20,957.50 L196.30,957.50 L196.40,957.50 L196.50,957.50 L196.60,957.50 L196.70,957.50 L196.80,957.50 L196.90,957.50 L197.00,957.50 L197.10,957.50 L197.20,957.50 L197.30,957.50 L197.40,957.50 L197.50,957.50 L197.60,957.50 L197.70,957.50 L197.80,957.50 L197.90,957.50 L198.00,957.50 L198.10,957.50 L198.20,957.50 L198.30,957.50 L198.40,957.50 L198.50,957.50 L198.60,957.50 L198.70,957.50 L198.80,957.50 L198.90,957.50 L199.00,957.50 L199.10,957.50 L199.20,957.50 L199.30,957.50 L199.40,957.50 L199.50,957.50 L199.60,957.50 L199.70,957.50 L199.80,957.50 L199.90,957.50 L200.00,957.50 L200.10,957.50 L200.20,957.50 L200.30,957.50 L200.40,957.50 L200.50,957.50 L200.60,957.50 L200.70,957.50 L200.80,957.50 L200.90,957.50 L201.00,957.50 L201.10,957.50 L201.20,957.50 L201.30,957.50 L201.40,957.50 L201.50,957.50 L201.60,957.50 L201.70,957.50 L201.80,957.50 L201.90,957.50 L202.00,957.50 L202.10,957.50 L202.20,957.50 L202.30,957.50 L202.40,957.50 L202.50,957.50 L202.60,957.50 L202.70,957.50 L202.80,957.50 L202.90,957.50 L203.00,957.50 L203.10,957.50 L203.20,957.50 L203.30,957.50 L203.40,957.50 L203.50,957.50 L203.60,957.50 L203.70,957.50 L203.80,957.50 L203.90,957.50 L204.00,957.50 L204.10,957.50 L204.20,957.50 L204.30,957.50 L204.40,957.50 L204.50,957.50 L204.60,957.50 L204.70,957.50 L204.80,957.50 L204.90,957.50 L205.00,957.50 L205.10,957.50 L205.20,957.50 L205.30,957.50 L205.40,957.50 L205.50,957.50 L205.60,957.50 L205.70,957.50 L205.80,957.50 L205.90,957.50 L206.00,957.50 L206.10,957.50 L206.20,957.50 L206.30,957.50 L206.40,957.50 L206.50,957.50 L206.60,957.50 L206.70,957.50 L206.80,957.50 L206.90,957.50 L207.00,957.50 L207.10,957.50 L207.20,957.50 L207.30,957.50 L207.40,957.50 L207.50,957.50 L207.60,957.50 L207.70,957.50 L207.80,957.50 L207.90,957.50 L208.00,957.50 L208.10,957.50 L208.20,957.50 L208.30,957.50 L208.40,957.50 L208.50,957.50 L208.60,957.50 L208.70,957.50 L208.80,957.50 L208.90,957.50 L209.00,957.50 L209.10,957.50 L209.20,957.50 L209.30,957.50 L209.40,957.50 L209.50,957.50 L209.60,957.50 L209.70,957.50 L209.80,957.50 L209.90,957.50 L210.00,957.50 L210.10,957.50 L210.20,957.50 L210.30,957.50 L210.40,957.50 L210.50,957.50 L210.60,957.50 L210.70,957.50 L210.80,957.50 L210.90,957.50 L211.00,957.50 L211.10,957.50 L211.20,957.50 L211.30,957.50 L211.40,957.50 L211.50,957.50 L211.60,957.50 L211.70,957.50 L211.80,957.50 L211.90,957.50 L212.00,957.50 L212.10,957.50 L212.20,957.50 L212.30,957.50 L212.40,957.50 L212.50,957.50 L212.60,957.50 L212.70,957.50 L212.80,957.50 L212.90,957.50 L213.00,957.50 L213.10,957.50 L213.20,957.50 L213.30,957.50 L213.40,957.50 L213.50,957.50 L213.60,957.50 L213.70,957.50 L213.80,957.50 L213.90,957.50 L214.00,957.50 L214.10,957.50 L214.20,957.50 L214.30,957.50 L214.40,957.50 L214.50,957.50 L214.60,957.50 L214.70,957.50 L214.80,957.50 L214.90,957.50 L215.00,957.50 L215.10,957.50 L215.20,957.50 L215.30,957.50 L215.40,957.50 L215.50,957.50 L215.60,957.50 L215.70,957.50 L215.80,957.50 L215.90,957.50 L216.00,957.50 L216.10,957.50 L216.20,957.50 L216.30,957.50 L216.40,957.50 L216.50,957.50 L216.60,957.50 L216.70,957.50 L216.80,957.50 L216.90,957.50 L217.00,957.50 L217.10,957.50 L217.20,957.50 L217.30,957.50 L217.40,957.50 L217.50,957.50 L217.60,957.50 L217.70,957.50 L217.80,957.50 L217.90,957.50 L218.00,957.50 L218.10,957.50 L218.20,957.50 L218.30,957.50 L218.40,957.50 L218.50,957.50 L218.60,957.50 L218.70,957.50 L218.80,957.50 L218.90,957.50 L219.00,957.50 L219.10,957.50 L219.20,957.50 L219.30,957.50 L219.40,957.50 L219.50,957.50 L219.60,957.50 L219.70,957.50 L219.80,957.50 L219.90,957.50 L220.00,957.50 L220.10,957.50 L220.20,957.50 L220.30,957.50 L220.40,957.50 L220.50,957.50 L220.60,957.50 L220.70,957.50 L220.80,957.50 L220.90,957.50 L221.00,957.50 L221.10,957.50 L221.20,957.50 L221.30,957.50 L221.40,957.50 L221.50,957.50 L221.60,957.50 L221.70,957.50 L221.80,957.50 L221.90,957.50 L222.00,957.50 L222.10,957.50 L222.20,957.50 L222.30,957.50 L222.40,957.50 L222.50,957.50 L222.60,957.50 L222.70,957.50 L222.80,957.50 L222.90,957.50 L223.00,957.50 L223.10,957.50 L223.20,957.50 L223.30,957.50 L223.40,957.50 L223.50,957.50 L223.60,957.50 L223.70,957.50 L223.80,957.50 L223.90,957.50 L224.00,957.50 L224.10,957.50 L224.20,957.50 L224.30,957.50 L224.40,957.50 L224.50,957.50 L224.60,957.50 L224.70,957.50 L224.80,957.50 L224.90,957.50 L225.00,957.50 L225.10,957.50 L225.20,957.50 L225.30,957.50 L225.40,957.50 L225.50,957.50 L225.60,957.50 L225.70,957.50 L225.80,957.50 L225.90,957.50 L226.00,957.50 L226.10,957.50 L226.20,957.50 L226.30,957.50 L226.40,957.50 L226.50,957.50 L226.60,957.50 L226.70,957.50 L226.80,957.50 L226.90,957.50 L227.00,957.50 L227.10,957.50 L227.20,957.50 L227.30,957.50 L227.40,957.50 L227.50,957.50 L227.60,957.50 L227.70,957.50 L227.80,957.50 L227.90,957.50 L228.00,957.50 L228.10,957.50 L228.20,957.50 L228.30,957.50 L228.40,957.50 L228.50,957.50 L228.60,957.50 L228.70,957.50 L228.80,957.50 L228.90,957.50 L229.00,957.50 L229.10,957.50 L229.20,957.50 L229.30,957.50 L229.40,957.50 L229.50,957.50 L229.60,957.50 L229.70,957.50 L229.80,957.50 L229.90,957.50 L230.00,957.50 L230.10,957.50 L230.20,957.50 L230.30,957.50 L230.40,957.50 L230.50,957.50 L230.60,957.50 L230.70,957.50 L230.80,957.50 L230.90,957.50 L231.00,957.50 L231.10,957.50 L231.20,957.50 L231.30,957.50 L231.40,957.50 L231.50,957.50 L231.60,957.50 L231.70,957.50 L231.80,957.50 L231.90,957.50 L232.00,957.50 L232.10,957.51 L232.20,957.52 L232.30,957.55 L232.40,957.58 L232.50,957.62 L232.60,957.67 L232.70,957.73 L232.80,957.80 L232.90,957.87 L233.00,957.95 L233.10,958.04 L233.20,958.13 L233.30,958.22 L233.40,958.32 L233.50,958.43 L233.60,958.54 L233.70,958.65 L233.80,958.76 L233.90,958.88 L234.00,959.00 L234.10,959.12 L234.20,959.26 L234.30,959.40 L234.40,959.55 L234.50,959.72 L234.60,959.89 L234.70,960.08 L234.80,960.29 L234.90,960.51 L235.00,960.75 L235.10,961.00 L235.20,961.27 L235.30,961.56 L235.40,961.88 L235.50,962.21 L235.60,962.57 L235.70,962.94 L235.80,963.35 L235.90,963.77 L236.00,964.23 L236.10,964.71 L236.20,965.22 L236.30,965.75 L236.40,966.32 L236.50,966.92 L236.60,967.55 L236.70,968.21 L236.80,968.90 L236.90,969.63 L237.00,970.40 L237.10,971.64 L237.20,973.72 L237.30,976.55 L237.40,980.04 L237.50,984.09 L237.60,988.62 L237.70,993.52 L237.80,998.70 L237.90,1004.08 L238.00,1009.55 L238.10,1015.02 L238.20,1020.40 L238.30,1025.60 L238.40,1030.88 L238.50,1036.55 L238.60,1042.53 L238.70,1048.77 L238.80,1055.21 L238.90,1061.78 L239.00,1068.44 L239.10,1075.11 L239.20,1081.75 L239.30,1088.28 L239.40,1094.65 L239.50,1100.80 L239.60,1106.81 L239.70,1112.78 L239.80,1118.73 L239.90,1124.65 L240.00,1130.53 L240.10,1136.37 L240.20,1142.17 L240.30,1147.93 L240.40,1153.64 L240.50,1159.31 L240.60,1164.92 L240.70,1170.49 L240.80,1176.00 L240.90,1181.56 L241.00,1187.24 L241.10,1192.99 L241.20,1198.75 L241.30,1204.46 L241.40,1210.08 L241.50,1215.54 L241.60,1220.79 L241.70,1225.78 L241.80,1230.44 L241.90,1234.74 L242.00,1238.60 L242.10,1242.17 L242.20,1245.62 L242.30,1248.95 L242.40,1252.14 L242.50,1255.19 L242.60,1258.10 L242.70,1260.84 L242.80,1263.43 L242.90,1265.84 L243.00,1268.08 L243.10,1270.14 L243.20,1272.00 L243.30,1273.79 L243.40,1275.59 L243.50,1277.39 L243.60,1279.16 L243.70,1280.86 L243.80,1282.46 L243.90,1283.95 L244.00,1285.28 L244.10,1286.44 L244.20,1287.38 L244.30,1288.10 L244.40,1288.54 L244.50,1288.70 L244.60,1288.57 L244.70,1288.19 L244.80,1287.59 L244.90,1286.79 L245.00,1285.82 L245.10,1284.71 L245.20,1283.47 L245.30,1282.15 L245.40,1280.75 L245.50,1279.31 L245.60,1277.86 L245.70,1276.41 L245.80,1275.00 L245.90,1273.59 L246.00,1272.12 L246.10,1270.57 L246.20,1268.94 L246.30,1267.20 L246.40,1265.35 L246.50,1263.36 L246.60,1261.24 L246.70,1258.95 L246.80,1256.49 L246.90,1253.85 L247.00,1251.00 L247.10,1247.57 L247.20,1243.27 L247.30,1238.23 L247.40,1232.58 L247.50,1226.45 L247.60,1219.97 L247.70,1213.28 L247.80,1206.51 L247.90,1199.79 L248.00,1193.24 L248.10,1187.01 L248.20,1181.22 L248.30,1176.00 L248.40,1171.24 L248.50,1166.70 L248.60,1162.36 L248.70,1158.19 L248.80,1154.16 L248.90,1150.24 L249.00,1146.40 L249.10,1142.61 L249.20,1138.83 L249.30,1135.05 L249.40,1131.22 L249.50,1127.33 L249.60,1123.33 L249.70,1119.21 L249.80,1114.92 L249.90,1110.44 L250.00,1105.75 L250.10,1100.80 L250.20,1095.44 L250.30,1089.58 L250.40,1083.33 L250.50,1076.79 L250.60,1070.04 L250.70,1063.20 L250.80,1056.36 L250.90,1049.61 L251.00,1043.07 L251.10,1036.82 L251.20,1030.96 L251.30,1025.60 L251.40,1020.56 L251.50,1015.61 L251.60,1010.75 L251.70,1005.99 L251.80,1001.32 L251.90,996.75 L252.00,992.28 L252.10,987.91 L252.20,983.65 L252.30,979.49 L252.40,975.44 L252.50,971.51 L252.60,967.69 L252.70,963.99 L252.80,960.41 L252.90,956.95 L253.00,953.61 L253.10,950.40 L253.20,947.28 L253.30,944.21 L253.40,941.20 L253.50,938.25 L253.60,935.35 L253.70,932.52 L253.80,929.74 L253.90,927.04 L254.00,924.40 L254.10,921.82 L254.20,919.32 L254.30,916.89 L254.40,914.54 L254.50,912.26 L254.60,910.06 L254.70,907.94 L254.80,905.90 L254.90,903.95 L255.00,902.08 L255.10,900.30 L255.20,898.57 L255.30,896.85 L255.40,895.14 L255.50,893.44 L255.60,891.77 L255.70,890.12 L255.80,888.49 L255.90,886.90 L256.00,885.34 L256.02,886.48 L256.43,874.42 L256.84,870.04 L257.25,869.34 L257.66,866.58 L258.07,865.43 L258.48,863.91 L258.89,863.31 L259.30,859.95 L259.71,856.51 L260.12,849.49 L260.53,860.81 L260.94,858.88 L261.35,858.08 L261.76,855.95 L262.17,853.20 L262.58,857.09 L262.99,855.30 L263.40,851.32 L263.81,858.32 L264.22,850.91 L264.63,853.77 L265.04,860.25 L265.45,852.53 L265.86,855.44 L266.27,858.04 L266.68,854.96 L267.09,851.06 L267.50,854.33 L267.91,856.38 L268.32,852.92 L268.73,862.65 L269.14,860.35 L269.55,862.58 L269.96,862.28 L270.37,863.58 L270.78,862.30 L271.19,860.00 L271.60,867.51 L272.01,866.77 L272.42,872.53 L272.83,865.57 L273.24,870.68 L273.65,877.78 L274.06,868.28 L274.47,869.61 L274.88,874.56 L275.29,879.52 L275.70,871.44 L276.11,875.70 L276.52,875.48 L276.93,874.86 L277.34,876.25 L277.75,881.11 L278.16,878.29 L278.57,874.33 L278.98,876.77 L279.39,879.20 L279.80,874.98 L280.21,877.31 L280.62,878.32 L281.03,873.33 L281.44,885.18 L281.85,874.78 L282.26,879.74 L282.67,878.94 L283.08,877.53 L283.49,882.81 L283.90,879.20 L284.31,876.31 L284.72,882.09 L285.13,879.99 L285.54,874.98 L285.95,873.24 L286.36,880.17 L286.77,876.81 L287.18,872.54 L287.59,878.25 L288.00,871.98 L288.41,873.90 L288.82,873.20 L289.23,869.41 L289.64,877.10 L290.05,885.24 L290.46,876.37 L290.87,875.37 L291.28,873.07 L291.69,873.33 L292.10,874.05 L292.51,874.76 L292.92,871.05 L293.33,872.35 L293.74,871.25 L294.15,873.21 L294.56,874.00 L294.97,874.11 L295.38,869.09 L295.79,868.59 L296.20,871.71 L296.61,868.45 L297.02,868.16 L297.43,869.76 L297.84,869.06 L298.25,871.44 L298.66,863.33 L299.07,869.86 L299.48,864.58 L299.89,867.49 L300.30,861.03 L300.71,863.95 L301.12,861.85 L301.53,868.35 L301.94,859.47 L302.35,864.99 L302.76,858.36 L303.17,856.60 L303.58,860.05 L303.99,861.44 L304.40,857.20 L304.81,858.28 L305.22,856.28 L305.63,854.48 L306.04,857.90 L306.45,852.83 L306.86,854.51 L307.27,847.51 L307.68,849.52 L308.09,851.96 L308.50,846.67 L308.91,840.44 L309.32,847.90 L309.73,846.10 L310.14,842.20 L310.55,842.11 L310.96,839.52 L311.37,840.51 L311.78,841.58 L312.19,838.22 L312.60,836.20 L313.01,834.36 L313.42,834.88 L313.83,833.62 L314.24,838.05 L314.65,832.14 L315.06,833.89 L315.47,837.14 L315.88,837.66 L316.29,838.07 L316.70,836.80 L317.11,839.48 L317.52,835.45 L317.93,836.13 L318.34,838.18 L318.75,844.87 L319.16,849.88 L319.57,846.85 L319.98,849.12 L320.39,852.84 L320.80,862.33 L321.21,860.92 L321.62,864.21 L322.03,866.83 L322.44,875.68 L322.85,884.52 L323.26,888.11 L323.67,892.26 L324.08,905.75 L324.49,909.10 L324.90,922.29 L325.31,921.94 L325.72,933.16 L326.13,943.18 L326.54,946.17 L326.95,961.43 L327.36,973.41 L327.77,981.96 L328.18,994.42 L328.59,1004.02 L329.00,1010.58 L329.41,1024.51 L329.82,1029.31 L330.23,1039.59 L330.64,1046.64 L331.05,1058.28 L331.46,1061.31 L331.87,1066.78 L332.28,1066.98 L332.69,1077.46 L333.10,1085.86 L333.51,1080.86 L333.92,1092.07 L334.33,1094.30 L334.74,1092.26 L335.15,1098.78 L335.56,1105.07 L335.97,1104.36 L336.38,1107.50 L336.79,1111.65 L337.20,1109.02 L337.61,1113.87 L338.02,1108.44 L338.43,1109.97 L338.84,1116.69 L339.25,1115.72 L339.66,1113.36 L340.07,1104.62 L340.48,1106.70 L340.89,1102.83 L341.30,1109.20 L341.71,1097.45 L342.12,1095.71 L342.53,1095.52 L342.94,1095.76 L343.35,1090.29 L343.76,1088.22 L344.17,1087.01 L344.58,1083.21 L344.99,1074.59 L345.40,1073.52 L345.81,1079.13 L346.22,1071.33 L346.63,1073.48 L347.04,1069.26 L347.45,1065.04 L347.86,1058.77 L348.27,1060.00 L348.68,1050.95 L349.09,1055.89 L349.50,1048.00 L349.91,1045.10 L350.32,1039.33 L350.73,1035.97 L351.14,1034.11 L351.55,1030.52 L351.96,1026.71 L352.37,1023.36 L352.78,1024.47 L353.19,1024.79 L353.60,1024.49 L354.01,1018.42 L354.42,1013.38 L354.83,1013.14 L355.24,1014.08 L355.65,1007.15 L356.06,1007.54 L356.47,1003.54 L356.88,1000.66 L357.29,996.51 L357.70,998.28 L358.11,991.69 L358.52,989.21 L358.93,991.29 L359.34,991.27 L359.75,989.27 L360.16,987.19 L360.57,981.94 L360.98,980.60 L361.39,982.48 L361.80,983.44 L362.21,967.54 L362.62,977.38 L363.03,972.75 L363.44,970.33 L363.85,966.79 L364.26,965.70 L364.67,962.72 L365.08,965.94 L365.49,961.20 L365.90,962.56 L366.31,957.71 L366.72,964.84 L367.13,962.48 L367.54,956.20 L367.95,960.26 L368.36,956.98 L368.77,954.85 L369.18,956.93 L369.59,958.51 L370.00,959.79 L370.41,955.39 L370.82,957.35 L371.23,955.17 L371.64,954.45 L372.05,954.64 L372.46,946.97 L372.87,949.14 L373.28,954.09 L373.69,944.98 L374.10,945.81 L374.51,953.30 L374.92,944.03 L375.33,946.86 L375.74,946.74 L376.15,944.55 L376.56,947.71 L376.97,947.07 L377.38,942.01 L377.79,948.91 L378.20,940.90 L378.61,941.63 L379.02,942.16 L379.43,942.82 L379.84,938.57 L380.25,942.23 L380.66,934.62 L381.07,939.36 L381.48,937.84 L381.89,938.13 L382.30,939.71 L382.71,940.43 L383.12,937.28 L383.53,939.39 L383.94,934.70 L384.35,937.93 L384.76,941.74 L385.17,936.89 L385.58,937.98 L385.99,938.80 L386.40,941.23 L386.81,939.91 L387.22,938.29 L387.63,935.80 L388.04,939.45 L388.45,930.20 L388.86,939.95 L389.27,936.47 L389.68,940.57 L390.09,938.47 L390.50,942.63 L390.91,936.74 L391.32,932.78 L391.73,938.69 L392.14,937.17 L392.55,938.33 L392.96,942.21 L393.37,936.26 L393.78,941.26 L394.19,942.35 L394.60,943.44 L395.01,935.03 L395.42,942.06 L395.83,940.33 L396.24,942.47 L396.65,941.57 L397.06,943.84 L397.47,948.41 L397.88,951.50 L398.29,949.28 L398.70,944.34 L399.11,952.32 L399.52,945.61 L399.93,948.67 L400.34,953.57 L400.75,948.95 L401.16,953.23 L401.57,950.76 L401.98,948.56 L402.39,952.99 L402.80,951.18 L403.21,958.34 L403.62,958.95 L404.03,958.53 L404.44,951.27 L404.85,960.23 L405.26,955.91 L405.67,956.83 L406.08,956.25 L406.49,954.39 L406.90,956.72 L407.31,959.26 L407.72,961.54 L408.13,958.96 L408.54,957.63 L408.95,956.48 L409.36,957.26 L409.77,963.28 L410.18,960.81 L410.59,959.76 L411.00,954.52 L411.41,954.46 L411.82,962.00 L412.23,962.18 L412.64,963.94 L413.05,961.55 L413.46,959.34 L413.87,956.54 L414.28,959.21 L414.69,955.39 L415.10,963.44 L415.51,964.28 L415.92,967.27 L416.33,958.09 L416.74,959.61 L417.15,965.91 L417.56,965.35 L417.97,958.71 L418.38,962.82 L418.79,965.47 L419.20,964.28 L419.61,966.78 L420.02,965.99 L420.43,964.44 L420.84,967.44 L421.25,966.25 L421.66,970.11 L422.07,962.50 L422.48,966.25 L422.89,965.04 L423.30,966.43 L423.71,968.44 L424.12,969.22 L424.53,960.96 L424.94,970.80 L425.35,968.95 L425.76,968.87 L426.17,967.48 L426.58,970.03 L426.99,968.36 L427.40,961.69 L427.81,964.95 L428.22,966.06 L428.63,965.59 L429.04,965.19 L429.45,968.19 L429.86,962.87 L430.27,963.78 L430.68,962.87 L431.09,965.54 L431.50,966.74 L431.91,962.51 L432.32,966.16 L432.73,963.14 L433.14,968.75 L433.55,957.62 L433.96,964.03 L434.37,967.26 L434.78,962.50 L435.19,960.05 L435.60,960.52 L436.01,964.54 L436.42,961.02 L436.83,965.58 L437.24,962.35 L437.65,960.31 L438.06,960.44 L438.47,962.96 L438.88,964.37 L439.29,958.72 L439.70,957.40 L440.11,957.25 L440.52,962.00 L440.93,965.88 L441.34,958.71 L441.75,962.15 L442.16,958.81 L442.57,962.67 L442.98,955.33 L443.39,961.45 L443.80,955.64 L444.21,956.89 L444.62,960.32 L445.03,958.49 L445.44,958.89 L445.85,960.55 L446.26,959.46 L446.67,963.22 L447.08,960.90 L447.49,955.96 L447.90,958.19 L448.31,956.64 L448.72,956.96 L449.13,963.41 L449.54,955.61 L449.95,961.67 L450.36,962.26 L450.77,965.83 L451.18,957.56 L451.59,958.20 L452.00,958.22 L452.41,956.12 L452.82,962.45 L453.23,962.90 L453.64,950.02 L454.05,955.85 L454.46,960.30 L454.87,953.51 L455.28,954.43 L455.69,956.52 L456.10,956.29 L456.51,955.69 L456.92,955.73 L457.33,961.52 L457.74,948.99 L458.15,954.37 L458.56,952.37 L458.97,956.46 L459.38,954.33 L459.79,957.05 L460.20,955.56 L460.61,962.43 L461.02,951.44 L461.43,953.90 L461.84,957.95 L462.25,954.10 L462.66,955.66 L463.07,950.53 L463.48,957.27 L463.89,954.69 L464.30,956.74 L464.71,952.23 L465.12,953.31 L465.53,952.34 L465.94,959.94 L466.35,949.60 L466.76,956.19 L467.17,955.66 L467.58,958.73 L467.99,955.74 L468.40,951.81 L468.81,956.55 L469.22,949.83 L469.63,958.38 L470.04,954.97 L470.45,953.18 L470.86,954.07 L471.27,957.53 L471.68,950.86 L472.09,961.32 L472.50,954.20 L472.91,961.18 L473.32,957.31 L473.73,962.86 L474.14,953.58 L474.55,960.20 L474.96,957.60 L475.37,956.11 L475.78,960.86 L476.19,957.85 L476.60,956.59 L477.01,958.43 L477.42,956.98 L477.83,958.92 L478.24,959.72 L478.65,963.39 L479.06,960.05 L479.47,958.21 L479.88,963.09 L480.29,959.88 L480.70,958.24 L481.11,957.70 L481.52,966.92 L481.93,961.38 L482.34,966.77 L482.75,958.99 L483.16,958.86 L483.57,967.41 L483.98,961.46 L484.39,961.71 L484.80,961.62 L485.21,959.17 L485.62,965.39 L486.03,958.54 L486.44,964.48 L486.85,958.79 L487.26,969.93 L487.67,964.02 L488.08,965.05 L488.49,956.33 L488.90,962.39 L489.31,959.18 L489.72,958.24 L490.13,958.10 L490.54,962.95 L490.95,960.30 L491.36,958.39 L491.77,957.80 L492.18,957.40 L492.59,957.43 L493.00,957.93 L493.41,954.98 L493.82,955.41 L494.23,951.10 L494.64,957.46 L495.05,959.01 L495.46,955.45 L495.87,960.87 L496.28,954.01 L496.69,956.15 L497.10,959.28 L497.51,956.21 L497.92,952.76 L498.33,956.00 L498.74,953.42 L499.15,957.78 L499.56,956.47 L499.97,953.22 L500.38,955.27 L500.79,958.74 L501.20,956.71 L501.61,955.72 L502.02,952.37 L502.43,951.00 L502.84,950.37 L503.25,955.68 L503.66,949.18 L504.07,953.63 L504.48,957.22 L504.89,947.51 L505.30,953.41 L505.71,949.33 L506.12,951.96 L506.53,953.94 L506.94,949.38 L507.35,948.38 L507.76,951.18 L508.17,953.07 L508.58,951.26 L508.99,949.58 L509.40,954.59 L509.81,949.12 L510.22,948.19 L510.63,952.92 L511.04,959.17 L511.45,951.14 L511.86,952.45 L512.27,949.65 L512.68,950.95 L513.09,949.41 L513.50,953.73 L513.91,950.88 L514.32,950.59 L514.73,955.86 L515.14,948.67 L515.55,955.96 L515.96,952.63 L516.37,950.46 L516.78,953.21 L517.19,952.52 L517.60,954.37 L518.01,952.81 L518.42,959.24 L518.83,956.78 L519.24,957.04 L519.65,950.04 L520.06,952.70 L520.47,957.42 L520.88,955.69 L521.29,954.00 L521.70,953.74 L522.11,957.23 L522.52,948.32 L522.93,951.54 L523.34,950.02 L523.75,957.77 L524.16,950.13 L524.57,953.56 L524.98,958.53 L525.39,953.56 L525.80,955.39 L526.21,954.67 L526.62,956.69 L527.03,961.35 L527.44,951.14 L527.85,954.59 L528.26,959.81 L528.67,962.03 L529.08,954.20 L529.49,959.10 L529.90,956.96 L530.31,956.86 L530.72,950.66 L531.13,950.05 L531.54,955.45 L531.95,954.68 L532.36,954.78 L532.77,951.52 L533.18,959.52 L533.59,954.60 L534.00,963.44 L534.41,954.51 L534.82,956.38 L535.23,957.57 L535.64,954.25 L536.05,952.28 L536.46,953.64 L536.87,955.43 L537.28,953.89 L537.69,961.49 L538.10,953.89 L538.51,957.85 L538.92,958.00 L539.33,956.13 L539.74,952.33 L540.15,957.17 L540.56,958.52 L540.97,956.20 L541.38,955.77 L541.79,949.16 L542.20,952.44 L542.61,955.22 L543.02,956.38 L543.43,958.11 L543.84,954.93 L544.25,956.41 L544.66,952.78 L545.07,957.83 L545.48,958.15 L545.89,955.63 L546.30,958.94 L546.71,955.11 L547.12,954.56 L547.53,955.18 L547.94,962.14 L548.35,951.21 L548.76,956.74 L549.17,955.10 L549.58,956.52 L549.99,951.74 L550.40,958.46 L550.81,958.26 L551.22,955.48 L551.63,955.01 L552.04,956.53 L552.45,959.25 L552.86,951.75 L553.27,960.66 L553.68,955.48 L554.09,958.99 L554.50,953.97 L554.91,962.44 L555.32,957.34 L555.73,961.93 L556.14,954.74 L556.55,954.67 L556.96,960.07 L557.37,958.82 L557.78,957.74 L558.19,960.47 L558.60,958.04 L559.01,955.74 L559.42,951.05 L559.83,949.87 L560.24,958.78 L560.65,958.56 L561.06,954.13 L561.47,958.51 L561.88,956.27 L562.29,957.03 L562.70,959.86 L563.11,952.17 L563.52,958.03 L563.93,958.56 L564.34,956.41 L564.75,957.50 L565.16,953.56 L565.57,957.49 L565.98,958.95 L566.39,959.40 L566.80,954.96 L567.21,959.51 L567.62,958.00 L568.03,959.11 L568.44,956.97 L568.85,959.01 L569.26,957.71 L569.67,964.47 L570.08,956.20 L570.49,960.55 L570.90,957.05 L571.31,952.60 L571.72,958.55 L572.13,960.82 L572.54,959.41 L572.95,959.49 L573.36,954.67 L573.77,958.05 L574.18,952.94 L574.59,962.51 L575.00,961.82 L575.41,953.98 L575.82,955.94 L576.23,953.39 L576.64,954.85 L577.05,955.78 L577.46,953.56 L577.87,955.71 L578.28,959.04 L578.69,956.23 L579.10,959.27 L579.51,956.57 L579.92,957.38 L580.33,953.23 L580.74,959.87 L581.15,953.60 L581.56,955.95 L581.97,953.14 L582.38,958.55 L582.79,953.83 L583.20,958.74 L583.61,962.86 L584.02,958.03 L584.43,950.15 L584.84,959.98 L585.25,957.50 L585.66,958.82 L586.07,958.21 L586.48,960.47 L586.89,960.02 L587.30,956.75 L587.71,953.15 L588.12,956.65 L588.53,959.23 L588.94,951.22 L589.35,957.33 L589.76,951.39 L590.17,960.25 L590.58,962.47 L590.99,959.49 L591.40,955.53 L591.81,959.20 L592.22,960.84 L592.63,961.86 L593.04,961.08 L593.45,960.07 L593.86,953.73 L594.27,956.40 L594.68,958.13 L595.09,956.81 L595.50,950.71 L595.91,956.11 L596.32,954.45 L596.73,957.22 L597.14,957.61 L597.55,952.17 L597.96,954.21 L598.37,956.97 L598.78,953.28 L599.19,956.33 L599.60,953.86 L600.01,954.23 L600.42,959.03 L600.83,955.93 L601.24,954.62 L601.65,960.94 L602.06,955.29 L602.47,956.13 L602.88,956.26 L603.29,965.37 L603.70,958.08 L604.11,958.75 L604.52,954.99 L604.93,958.65 L605.34,959.49 L605.75,952.48 L606.16,957.34 L606.57,961.00 L606.98,961.50 L607.39,956.70 L607.80,962.94 L608.21,953.84 L608.62,959.08 L609.03,957.51 L609.44,952.66 L609.85,958.90 L610.26,951.94 L610.67,953.80 L611.08,955.48 L611.49,952.09 L611.90,959.28 L612.31,954.32 L612.72,951.90 L613.13,956.43 L613.54,955.59 L613.95,952.29 L614.36,953.91 L614.77,958.26 L615.18,958.02 L615.59,950.69 L616.00,958.42 L616.41,958.42 L616.82,958.92 L617.23,953.96 L617.64,953.05 L618.05,955.07 L618.46,953.36 L618.87,954.54 L619.28,953.46 L619.69,954.40 L620.10,953.74 L620.51,955.32 L620.92,955.68 L621.33,954.36 L621.74,953.45 L622.15,959.94 L622.56,957.87 L622.97,956.48 L623.38,952.29 L623.79,956.82 L624.20,954.38 L624.61,956.63 L625.02,955.48 L625.43,962.38 L625.84,954.73 L626.25,951.55 L626.66,957.85 L627.07,958.00 L627.48,958.52 L627.89,946.46 L628.30,951.48 L628.71,951.78 L629.12,949.21 L629.53,954.52 L629.94,956.06 L630.35,957.28 L630.76,956.71 L631.17,953.95 L631.58,958.53 L631.99,954.51 L632.40,945.14 L632.81,952.64 L633.22,951.24 L633.63,954.50 L634.04,952.11 L634.45,952.35 L634.86,957.46 L635.27,950.90 L635.68,948.97 L636.09,953.84 L636.50,955.00 L636.91,952.63 L637.32,952.91 L637.73,951.08 L638.14,948.80 L638.55,950.47 L638.96,949.49 L639.37,956.44 L639.78,951.87 L640.19,956.91 L640.60,952.17 L641.01,949.77 L641.42,953.10 L641.83,953.11 L642.24,956.53 L642.65,946.28 L643.06,951.15 L643.47,953.66 L643.88,950.12 L644.29,952.77 L644.70,951.52 L645.11,956.77 L645.52,956.27 L645.93,946.19 L646.34,947.84 L646.75,950.21 L647.16,952.53 L647.57,952.39 L647.98,951.45 L648.39,955.03 L648.80,956.03 L649.21,953.87 L649.62,952.88 L650.03,954.13 L650.44,951.72 L650.85,957.02 L651.26,957.31 L651.67,952.21 L652.08,959.76 L652.49,955.45 L652.90,958.41 L653.31,956.19 L653.72,955.95 L654.13,958.97 L654.54,954.13 L654.95,956.67 L655.36,954.09 L655.77,959.54 L656.18,957.64 L656.59,957.66 L657.00,957.33 L657.41,961.20 L657.82,960.33 L658.23,959.13 L658.64,958.66 L659.05,965.77 L659.46,965.16 L659.87,957.41 L660.28,964.74 L660.69,962.88 L661.10,962.42 L661.51,962.97 L661.92,957.68 L662.33,969.51 L662.74,968.38 L663.15,962.37 L663.56,962.38 L663.97,962.87 L664.38,960.43 L664.79,964.13 L665.20,962.37 L665.61,959.17 L666.02,960.89 L666.43,960.33 L666.84,960.37 L667.25,961.06 L667.66,963.86 L668.07,960.53 L668.48,956.71 L668.89,965.84 L669.30,959.48 L669.71,965.45 L670.12,961.59 L670.53,962.29 L670.94,957.83 L671.35,960.45 L671.76,958.75 L672.17,959.48 L672.58,960.83 L672.99,957.96 L673.40,961.40 L673.81,954.31 L674.22,955.08 L674.63,959.40 L675.04,959.42 L675.45,960.83 L675.86,962.24 L676.27,958.46 L676.68,959.16 L677.09,957.41 L677.50,956.89 L677.91,955.93 L678.32,956.39 L678.73,954.16 L679.14,955.23 L679.55,957.95 L679.96,956.91 L680.37,958.76 L680.78,953.75 L681.19,954.01 L681.60,956.33 L682.01,952.40 L682.42,952.25 L682.83,956.84 L683.24,954.04 L683.65,957.57 L684.06,955.24 L684.47,953.66 L684.88,951.83 L685.29,958.63 L685.70,954.79 L686.11,952.36 L686.52,950.54 L686.93,951.34 L687.34,953.91 L687.75,958.92 L688.16,952.45 L688.57,956.14 L688.98,955.98 L689.39,945.30 L689.80,951.54 L690.21,957.90 L690.62,949.30 L691.03,958.97 L691.44,955.66 L691.85,950.60 L692.26,961.41 L692.67,955.46 L693.08,960.71 L693.49,956.64 L693.90,953.81 L694.31,959.58 L694.72,961.71 L695.13,960.23 L695.54,952.85 L695.95,958.44 L696.36,953.08 L696.77,954.93 L697.18,960.94 L697.59,952.61 L698.00,964.63 L698.41,952.46 L698.82,953.31 L699.23,959.66 L699.64,956.85 L700.05,957.14 L700.46,954.86 L700.87,960.04 L701.28,958.60 L701.69,957.77 L702.10,955.67 L702.51,953.69 L702.92,958.34 L703.33,951.83 L703.74,956.60 L704.15,960.63 L704.56,960.93 L704.97,957.69 L705.38,951.19 L705.79,960.86 L706.20,962.00 L706.61,959.59 L707.02,963.44 L707.43,962.79 L707.84,954.66 L708.25,959.21 L708.66,958.56 L709.07,965.00 L709.48,963.67 L709.89,960.91 L710.30,962.49 L710.71,963.64 L711.12,958.99 L711.53,960.81 L711.94,961.29 L712.35,960.52 L712.76,961.03 L713.17,962.97 L713.58,958.53 L713.99,959.21 L714.40,965.36 L714.81,967.87 L715.22,969.16 L715.63,958.30 L716.04,965.06 L716.45,961.58 L716.86,962.72 L717.27,963.92 L717.68,966.04 L718.09,966.76 L718.50,957.84 L718.91,963.61 L719.32,968.95 L719.73,966.21 L720.14,961.06 L720.55,963.16 L720.96,963.87 L721.37,969.55 L721.78,971.97 L722.19,963.36 L722.60,968.38 L723.01,966.03 L723.42,968.73 L723.83,966.33 L724.24,963.65 L724.65,965.11 L725.06,965.09 L725.47,971.53 L725.88,964.74 L726.29,968.68 L726.70,964.32 L727.11,964.75 L727.52,967.37 L727.93,964.79 L728.34,972.38 L728.75,970.23 L729.16,962.56 L729.57,967.39 L729.98,970.21 L730.39,961.69 L730.80,963.90 L731.21,969.41 L731.62,962.10 L732.03,966.28 L732.44,963.83 L732.85,964.33 L733.26,960.32 L733.67,962.97 L734.08,961.54 L734.49,967.94 L734.90,964.20 L735.31,962.26 L735.72,961.54 L736.13,963.38 L736.54,956.06 L736.95,957.55 L737.36,957.49 L737.77,957.53 L738.18,954.63 L738.59,960.92 L739.00,957.59 L739.41,962.56 L739.82,958.06 L740.23,957.00 L740.64,959.18 L741.05,958.87 L741.46,956.36 L741.87,958.70 L742.28,960.46 L742.69,954.93 L743.10,959.94 L743.51,955.07 L743.92,957.98 L744.33,954.86 L744.74,953.48 L745.15,955.22 L745.56,950.53 L745.97,948.70 L746.38,953.08 L746.79,952.08 L747.20,949.02 L747.61,958.50 L748.02,952.89 L748.43,949.01 L748.84,952.37 L749.25,952.02 L749.66,948.73 L750.07,948.73 L750.48,943.27 L750.89,949.02 L751.30,953.40 L751.71,950.41 L752.12,949.31 L752.53,943.54 L752.94,941.21 L753.35,946.36 L753.76,943.76 L754.17,941.45 L754.58,940.35 L754.99,943.47 L755.40,941.89 L755.81,937.99 L756.22,938.61 L756.63,933.54 L757.04,934.80 L757.45,940.02 L757.86,936.89 L758.27,935.66 L758.68,939.13 L759.09,942.15 L759.50,935.75 L759.91,937.34 L760.32,937.55 L760.73,945.77 L761.14,941.46 L761.55,939.18 L761.96,934.06 L762.37,940.71 L762.78,940.16 L763.19,937.85 L763.60,936.18 L764.01,937.12 L764.42,933.49 L764.83,937.35 L765.24,937.17 L765.65,935.87 L766.06,937.75 L766.47,934.07 L766.88,942.47 L767.29,938.74 L767.70,935.86 L768.11,942.03 L768.52,941.66 L768.93,938.74 L769.34,936.56 L769.75,940.68 L770.16,942.63 L770.57,943.51 L770.98,944.71 L771.39,944.86 L771.80,938.17 L772.21,943.37 L772.62,937.70 L773.03,946.70 L773.44,945.44 L773.85,947.57 L774.26,945.31 L774.67,945.73 L775.08,944.67 L775.49,938.50 L775.90,946.94 L776.31,955.98 L776.72,952.74 L777.13,948.87 L777.54,951.23 L777.95,952.30 L778.36,949.90 L778.77,952.37 L779.18,954.14 L779.59,952.31 L780.00,955.92 L780.41,958.97 L780.82,958.47 L781.23,957.50 L781.64,956.88 L782.05,960.33 L782.46,957.28 L782.87,957.78 L783.28,964.38 L783.69,960.29 L784.10,958.24 L784.51,965.89 L784.92,966.54 L785.33,968.91 L785.74,966.49 L786.15,971.65 L786.56,969.31 L786.97,968.26 L787.38,972.45 L787.79,975.50 L788.20,973.25 L788.61,977.81 L789.02,980.97 L789.43,980.79 L789.84,984.16 L790.25,985.67 L790.66,985.19 L791.07,990.52 L791.48,993.18 L791.89,987.37 L792.30,993.38 L792.71,999.92 L793.12,1000.91 L793.53,995.99 L793.94,1004.57 L794.35,1010.29 L794.76,1010.99 L795.17,1012.99 L795.58,1012.75 L795.99,1015.80 L796.40,1014.65 L796.81,1020.74 L797.22,1030.27 L797.63,1025.98 L798.04,1026.03 L798.45,1033.15 L798.86,1028.26 L799.27,1044.04 L799.68,1041.92 L800.09,1042.12 L800.50,1044.75 L800.91,1046.13 L801.32,1052.29 L801.73,1055.19 L802.14,1053.57 L802.55,1064.41 L802.96,1063.52 L803.37,1064.48 L803.78,1073.71 L804.19,1076.21 L804.60,1075.26 L805.01,1077.95 L805.42,1086.14 L805.83,1084.67 L806.24,1089.48 L806.65,1095.90 L807.06,1090.90 L807.47,1092.55 L807.88,1096.74 L808.29,1099.53 L808.70,1103.37 L809.11,1108.23 L809.52,1105.91 L809.93,1114.01 L810.34,1111.05 L810.75,1105.58 L811.16,1112.11 L811.57,1114.56 L811.98,1115.34 L812.39,1109.02 L812.80,1109.56 L813.21,1114.93 L813.62,1106.79 L814.03,1101.51 L814.44,1097.56 L814.85,1098.61 L815.26,1098.46 L815.67,1091.01 L816.08,1094.95 L816.49,1084.76 L816.90,1077.05 L817.31,1080.15 L817.72,1073.40 L818.13,1067.41 L818.54,1066.46 L818.95,1054.46 L819.36,1050.87 L819.77,1038.79 L820.18,1036.37 L820.59,1022.25 L821.00,1013.08 L821.41,1005.15 L821.82,992.75 L822.23,983.60 L822.64,970.75 L823.05,962.90 L823.46,951.52 L823.87,940.66 L824.28,935.21 L824.69,926.42 L825.10,913.66 L825.51,908.18 L825.92,896.69 L826.33,894.92 L826.74,889.96 L827.15,887.80 L827.56,874.98 L827.97,871.61 L828.38,868.27 L828.79,862.42 L829.20,851.28 L829.61,852.31 L830.02,851.80 L830.43,849.02 L830.84,846.14 L831.25,841.04 L831.66,836.44 L832.07,841.84 L832.48,843.22 L832.89,837.46 L833.30,839.74 L833.71,835.75 L834.12,836.25 L834.53,834.39 L834.94,838.14 L835.35,832.60 L835.76,835.61 L836.17,837.89 L836.58,835.34 L836.99,832.19 L837.40,837.67 L837.81,836.80 L838.22,834.47 L838.63,838.86 L839.04,839.72 L839.45,843.67 L839.86,841.69 L840.27,844.73 L840.68,847.53 L841.09,841.29 L841.50,851.07 L841.91,849.27 L842.32,847.20 L842.73,851.48 L843.14,855.08 L843.55,850.87 L843.96,852.20 L844.37,858.84 L844.78,860.36 L845.19,862.52 L845.60,857.63 L846.01,855.57 L846.42,856.41 L846.83,859.14 L847.24,857.97 L847.65,863.02 L848.06,866.25 L848.47,860.02 L848.88,868.28 L849.29,861.82 L849.70,863.03 L850.11,861.54 L850.52,868.35 L850.93,866.44 L851.34,867.27 L851.75,859.06 L852.16,866.39 L852.57,869.52 L852.98,860.86 L853.39,875.34 L853.80,870.88 L854.21,873.61 L854.62,869.85 L855.03,873.88 L855.44,875.37 L855.85,879.58 L856.26,869.21 L856.67,878.89 L857.08,869.82 L857.49,873.86 L857.90,872.56 L858.31,873.54 L858.72,868.61 L859.13,873.83 L859.54,871.42 L859.95,874.70 L860.36,876.39 L860.77,876.11 L861.18,875.94 L861.59,880.73 L862.00,877.89 L862.41,879.01 L862.82,881.54 L863.23,877.65 L863.64,878.46 L864.05,880.44 L864.46,877.91 L864.87,882.71 L865.28,877.33 L865.69,878.80 L866.10,879.21 L866.51,878.86 L866.92,879.91 L867.33,878.65 L867.74,873.05 L868.15,883.65 L868.56,878.93 L868.97,882.38 L869.38,876.88 L869.79,881.68 L870.20,875.86 L870.61,883.79 L871.02,878.73 L871.43,877.44 L871.84,869.82 L872.25,871.15 L872.66,875.96 L873.07,875.06 L873.48,874.57 L873.89,874.36 L874.30,878.23 L874.71,873.60 L875.12,873.02 L875.53,871.25 L875.94,869.40 L876.35,872.70 L876.76,869.23 L877.17,868.22 L877.58,869.03 L877.99,867.14 L878.40,868.15 L878.81,866.91 L879.22,859.81 L879.63,860.38 L880.04,864.65 L880.45,859.60 L880.86,861.57 L881.27,856.02 L881.68,850.40 L882.09,850.23 L882.50,854.00 L882.91,854.24 L883.32,862.24 L883.73,857.40 L884.14,857.28 L884.55,857.97 L884.96,850.49 L885.37,855.53 L885.78,855.13 L886.19,861.44 L886.60,853.59 L887.01,851.45 L887.42,856.19 L887.83,855.57 L888.24,856.62 L888.65,857.23 L889.06,857.31 L889.47,855.52 L889.88,856.92 L890.29,866.21 L890.70,858.71 L891.11,863.57 L891.52,860.74 L891.93,860.45 L892.34,870.31 L892.75,870.89 L893.16,878.26 L893.57,882.56 L893.98,886.12 L894.10,886.90 L894.20,888.49 L894.30,890.12 L894.40,891.77 L894.50,893.44 L894.60,895.14 L894.70,896.85 L894.80,898.57 L894.90,900.30 L895.00,902.08 L895.10,903.95 L895.20,905.90 L895.30,907.94 L895.40,910.06 L895.50,912.26 L895.60,914.54 L895.70,916.89 L895.80,919.32 L895.90,921.82 L896.00,924.40 L896.10,927.04 L896.20,929.74 L896.30,932.52 L896.40,935.35 L896.50,938.25 L896.60,941.20 L896.70,944.21 L896.80,947.28 L896.90,950.40 L897.00,953.61 L897.10,956.95 L897.20,960.41 L897.30,963.99 L897.40,967.69 L897.50,971.51 L897.60,975.44 L897.70,979.49 L897.80,983.65 L897.90,987.91 L898.00,992.28 L898.10,996.75 L898.20,1001.32 L898.30,1005.99 L898.40,1010.75 L898.50,1015.61 L898.60,1020.56 L898.70,1025.60 L898.80,1030.96 L898.90,1036.82 L899.00,1043.07 L899.10,1049.61 L899.20,1056.36 L899.30,1063.20 L899.40,1070.04 L899.50,1076.79 L899.60,1083.33 L899.70,1089.58 L899.80,1095.44 L899.90,1100.80 L900.00,1105.75 L900.10,1110.44 L900.20,1114.92 L900.30,1119.21 L900.40,1123.33 L900.50,1127.33 L900.60,1131.22 L900.70,1135.05 L900.80,1138.83 L900.90,1142.61 L901.00,1146.40 L901.10,1150.24 L901.20,1154.16 L901.30,1158.19 L901.40,1162.36 L901.50,1166.70 L901.60,1171.24 L901.70,1176.00 L901.80,1181.22 L901.90,1187.01 L902.00,1193.24 L902.10,1199.79 L902.20,1206.51 L902.30,1213.28 L902.40,1219.97 L902.50,1226.45 L902.60,1232.58 L902.70,1238.23 L902.80,1243.27 L902.90,1247.57 L903.00,1251.00 L903.10,1253.85 L903.20,1256.49 L903.30,1258.95 L903.40,1261.24 L903.50,1263.36 L903.60,1265.35 L903.70,1267.20 L903.80,1268.94 L903.90,1270.57 L904.00,1272.12 L904.10,1273.59 L904.20,1275.00 L904.30,1276.41 L904.40,1277.86 L904.50,1279.31 L904.60,1280.75 L904.70,1282.15 L904.80,1283.47 L904.90,1284.71 L905.00,1285.82 L905.10,1286.79 L905.20,1287.59 L905.30,1288.19 L905.40,1288.57 L905.50,1288.70 L905.60,1288.54 L905.70,1288.10 L905.80,1287.38 L905.90,1286.44 L906.00,1285.28 L906.10,1283.95 L906.20,1282.46 L906.30,1280.86 L906.40,1279.16 L906.50,1277.39 L906.60,1275.59 L906.70,1273.79 L906.80,1272.00 L906.90,1270.14 L907.00,1268.08 L907.10,1265.84 L907.20,1263.43 L907.30,1260.84 L907.40,1258.10 L907.50,1255.19 L907.60,1252.14 L907.70,1248.95 L907.80,1245.62 L907.90,1242.17 L908.00,1238.60 L908.10,1234.74 L908.20,1230.44 L908.30,1225.78 L908.40,1220.79 L908.50,1215.54 L908.60,1210.08 L908.70,1204.46 L908.80,1198.75 L908.90,1192.99 L909.00,1187.24 L909.10,1181.56 L909.20,1176.00 L909.30,1170.49 L909.40,1164.92 L909.50,1159.31 L909.60,1153.64 L909.70,1147.93 L909.80,1142.17 L909.90,1136.37 L910.00,1130.53 L910.10,1124.65 L910.20,1118.73 L910.30,1112.78 L910.40,1106.81 L910.50,1100.80 L910.60,1094.65 L910.70,1088.28 L910.80,1081.75 L910.90,1075.11 L911.00,1068.44 L911.10,1061.78 L911.20,1055.21 L911.30,1048.77 L911.40,1042.53 L911.50,1036.55 L911.60,1030.88 L911.70,1025.60 L911.80,1020.40 L911.90,1015.02 L912.00,1009.55 L912.10,1004.08 L912.20,998.70 L912.30,993.52 L912.40,988.62 L912.50,984.09 L912.60,980.04 L912.70,976.55 L912.80,973.72 L912.90,971.64 L913.00,970.40 L913.10,969.63 L913.20,968.90 L913.30,968.21 L913.40,967.55 L913.50,966.92 L913.60,966.32 L913.70,965.75 L913.80,965.22 L913.90,964.71 L914.00,964.23 L914.10,963.77 L914.20,963.35 L914.30,962.94 L914.40,962.57 L914.50,962.21 L914.60,961.88 L914.70,961.56 L914.80,961.27 L914.90,961.00 L915.00,960.75 L915.10,960.51 L915.20,960.29 L915.30,960.08 L915.40,959.89 L915.50,959.72 L915.60,959.55 L915.70,959.40 L915.80,959.26 L915.90,959.12 L916.00,959.00 L916.10,958.88 L916.20,958.76 L916.30,958.65 L916.40,958.54 L916.50,958.43 L916.60,958.32 L916.70,958.22 L916.80,958.13 L916.90,958.04 L917.00,957.95 L917.10,957.87 L917.20,957.80 L917.30,957.73 L917.40,957.67 L917.50,957.62 L917.60,957.58 L917.70,957.55 L917.80,957.52 L917.90,957.51 L918.00,957.50 L918.10,957.50 L918.20,957.50 L918.30,957.50 L918.40,957.50 L918.50,957.50 L918.60,957.50 L918.70,957.50 L918.80,957.50 L918.90,957.50 L919.00,957.50 L919.10,957.50 L919.20,957.50 L919.30,957.50 L919.40,957.50 L919.50,957.50 L919.60,957.50 L919.70,957.50 L919.80,957.50 L919.90,957.50 L920.00,957.50 L920.10,957.50 L920.20,957.50 L920.30,957.50 L920.40,957.50 L920.50,957.50 L920.60,957.50 L920.70,957.50 L920.80,957.50 L920.90,957.50 L921.00,957.50 L921.10,957.50 L921.20,957.50 L921.30,957.50 L921.40,957.50 L921.50,957.50 L921.60,957.50 L921.70,957.50 L921.80,957.50 L921.90,957.50 L922.00,957.50 L922.10,957.50 L922.20,957.50 L922.30,957.50 L922.40,957.50 L922.50,957.50 L922.60,957.50 L922.70,957.50 L922.80,957.50 L922.90,957.50 L923.00,957.50 L923.10,957.50 L923.20,957.50 L923.30,957.50 L923.40,957.50 L923.50,957.50 L923.60,957.50 L923.70,957.50 L923.80,957.50 L923.90,957.50 L924.00,957.50 L924.10,957.50 L924.20,957.50 L924.30,957.50 L924.40,957.50 L924.50,957.50 L924.60,957.50 L924.70,957.50 L924.80,957.50 L924.90,957.50 L925.00,957.50 L925.10,957.50 L925.20,957.50 L925.30,957.50 L925.40,957.50 L925.50,957.50 L925.60,957.50 L925.70,957.50 L925.80,957.50 L925.90,957.50 L926.00,957.50 L926.10,957.50 L926.20,957.50 L926.30,957.50 L926.40,957.50 L926.50,957.50 L926.60,957.50 L926.70,957.50 L926.80,957.50 L926.90,957.50 L927.00,957.50 L927.10,957.50 L927.20,957.50 L927.30,957.50 L927.40,957.50 L927.50,957.50 L927.60,957.50 L927.70,957.50 L927.80,957.50 L927.90,957.50 L928.00,957.50 L928.10,957.50 L928.20,957.50 L928.30,957.50 L928.40,957.50 L928.50,957.50 L928.60,957.50 L928.70,957.50 L928.80,957.50 L928.90,957.50 L929.00,957.50 L929.10,957.50 L929.20,957.50 L929.30,957.50 L929.40,957.50 L929.50,957.50 L929.60,957.50 L929.70,957.50 L929.80,957.50 L929.90,957.50 L930.00,957.50 L930.10,957.50 L930.20,957.50 L930.30,957.50 L930.40,957.50 L930.50,957.50 L930.60,957.50 L930.70,957.50 L930.80,957.50 L930.90,957.50 L931.00,957.50 L931.10,957.50 L931.20,957.50 L931.30,957.50 L931.40,957.50 L931.50,957.50 L931.60,957.50 L931.70,957.50 L931.80,957.50 L931.90,957.50 L932.00,957.50 L932.10,957.50 L932.20,957.50 L932.30,957.50 L932.40,957.50 L932.50,957.50 L932.60,957.50 L932.70,957.50 L932.80,957.50 L932.90,957.50 L933.00,957.50 L933.10,957.50 L933.20,957.50 L933.30,957.50 L933.40,957.50 L933.50,957.50 L933.60,957.50 L933.70,957.50 L933.80,957.50 L933.90,957.50 L934.00,957.50 L934.10,957.50 L934.20,957.50 L934.30,957.50 L934.40,957.50 L934.50,957.50 L934.60,957.50 L934.70,957.50 L934.80,957.50 L934.90,957.50 L935.00,957.50 L935.10,957.50 L935.20,957.50 L935.30,957.50 L935.40,957.50 L935.50,957.50 L935.60,957.50 L935.70,957.50 L935.80,957.50 L935.90,957.50 L936.00,957.50 L936.10,957.50 L936.20,957.50 L936.30,957.50 L936.40,957.50 L936.50,957.50 L936.60,957.50 L936.70,957.50 L936.80,957.50 L936.90,957.50 L937.00,957.50 L937.10,957.50 L937.20,957.50 L937.30,957.50 L937.40,957.50 L937.50,957.50 L937.60,957.50 L937.70,957.50 L937.80,957.50 L937.90,957.50 L938.00,957.50 L938.10,957.50 L938.20,957.50 L938.30,957.50 L938.40,957.50 L938.50,957.50 L938.60,957.50 L938.70,957.50 L938.80,957.50 L938.90,957.50 L939.00,957.50 L939.10,957.50 L939.20,957.50 L939.30,957.50 L939.40,957.50 L939.50,957.50 L939.60,957.50 L939.70,957.50 L939.80,957.50 L939.90,957.50 L940.00,957.50 L940.10,957.50 L940.20,957.50 L940.30,957.50 L940.40,957.50 L940.50,957.50 L940.60,957.50 L940.70,957.50 L940.80,957.50 L940.90,957.50 L941.00,957.50 L941.10,957.50 L941.20,957.50 L941.30,957.50 L941.40,957.50 L941.50,957.50 L941.60,957.50 L941.70,957.50 L941.80,957.50 L941.90,957.50 L942.00,957.50 L942.10,957.50 L942.20,957.50 L942.30,957.50 L942.40,957.50 L942.50,957.50 L942.60,957.50 L942.70,957.50 L942.80,957.50 L942.90,957.50 L943.00,957.50 L943.10,957.50 L943.20,957.50 L943.30,957.50 L943.40,957.50 L943.50,957.50 L943.60,957.50 L943.70,957.50 L943.80,957.50 L943.90,957.50 L944.00,957.50 L944.10,957.50 L944.20,957.50 L944.30,957.50 L944.40,957.50 L944.50,957.50 L944.60,957.50 L944.70,957.50 L944.80,957.50 L944.90,957.50 L945.00,957.50 L945.10,957.50 L945.20,957.50 L945.30,957.50 L945.40,957.50 L945.50,957.50 L945.60,957.50 L945.70,957.50 L945.80,957.50 L945.90,957.50 L946.00,957.50 L946.10,957.50 L946.20,957.50 L946.30,957.50 L946.40,957.50 L946.50,957.50 L946.60,957.50 L946.70,957.50 L946.80,957.50 L946.90,957.50 L947.00,957.50 L947.10,957.50 L947.20,957.50 L947.30,957.50 L947.40,957.50 L947.50,957.50 L947.60,957.50 L947.70,957.50 L947.80,957.50 L947.90,957.50 L948.00,957.50 L948.10,957.50 L948.20,957.50 L948.30,957.50 L948.40,957.50 L948.50,957.50 L948.60,957.50 L948.70,957.50 L948.80,957.50 L948.90,957.50 L949.00,957.50 L949.10,957.50 L949.20,957.50 L949.30,957.50 L949.40,957.50 L949.50,957.50 L949.60,957.50 L949.70,957.50 L949.80,957.50 L949.90,957.50 L950.00,957.50 L950.10,957.50 L950.20,957.50 L950.30,957.50 L950.40,957.50 L950.50,957.50 L950.60,957.50 L950.70,957.50 L950.80,957.50 L950.90,957.50 L951.00,957.50 L951.10,957.50 L951.20,957.50 L951.30,957.50 L951.40,957.50 L951.50,957.50 L951.60,957.50 L951.70,957.50 L951.80,957.50 L951.90,957.50 L952.00,957.50 L952.10,957.50 L952.20,957.50 L952.30,957.50 L952.40,957.50 L952.50,957.50 L952.60,957.50 L952.70,957.50 L952.80,957.50 L952.90,957.50 L953.00,957.50 L953.10,957.50 L953.20,957.50 L953.30,957.50 L953.40,957.50 L953.50,957.50 L953.60,957.50 L953.70,957.50 L953.80,957.50 L953.90,957.50 L954.00,957.50 L954.10,957.50 L954.20,957.50 L954.30,957.50 L954.40,957.50 L954.50,957.50 L954.60,957.50 L954.70,957.50 L954.80,957.50 L954.90,957.50 L955.00,957.50 L955.10,957.50 L955.20,957.50 L955.30,957.50 L955.40,957.50 L955.50,957.50 L955.60,957.50 L955.70,957.50 L955.80,957.50 L955.90,957.50 L956.00,957.50 L956.10,957.50 L956.20,957.50 L956.30,957.50 L956.40,957.50 L956.50,957.50 L956.60,957.50 L956.70,957.50 L956.80,957.50 L956.90,957.50 L957.00,957.50 L957.10,957.50 L957.20,957.50 L957.30,957.50 L957.40,957.50 L957.50,957.50 L957.60,957.50 L957.70,957.50 L957.80,957.50 L957.90,957.50 L958.00,957.50 L958.10,957.50 L958.20,957.50 L958.30,957.50 L958.40,957.50 L958.50,957.50 L958.60,957.50 L958.70,957.50 L958.80,957.50 L958.90,957.50 L959.00,957.50 L959.10,957.50 L959.20,957.50 L959.30,957.50 L959.40,957.50 L959.50,957.50 L959.60,957.50 L959.70,957.50 L959.80,957.50 L959.90,957.50 L960.00,957.50 L960.10,957.50 L960.20,957.50 L960.30,957.50 L960.40,957.50 L960.50,957.50 L960.60,957.50 L960.70,957.50 L960.80,957.50 L960.90,957.50 L961.00,957.50 L961.10,957.50 L961.20,957.50 L961.30,957.50 L961.40,957.50 L961.50,957.50 L961.60,957.50 L961.70,957.50 L961.80,957.50 L961.90,957.50 L962.00,957.50 L962.10,957.50 L962.20,957.50 L962.30,957.50 L962.40,957.50 L962.50,957.50 L962.60,957.50 L962.70,957.50 L962.80,957.50 L962.90,957.50 L963.00,957.50 L963.10,957.50 L963.20,957.50 L963.30,957.50 L963.40,957.50 L963.50,957.50 L963.60,957.50 L963.70,957.50 L963.80,957.50 L963.90,957.50 L964.00,957.50 L964.10,957.50 L964.20,957.50 L964.30,957.50 L964.40,957.50 L964.50,957.50 L964.60,957.50 L964.70,957.50 L964.80,957.50 L964.90,957.50 L965.00,957.50 L965.10,957.50 L965.20,957.50 L965.30,957.50 L965.40,957.50 L965.50,957.50 L965.60,957.50 L965.70,957.50 L965.80,957.50 L965.90,957.50 L966.00,957.50 L966.10,957.50 L966.20,957.50 L966.30,957.50 L966.40,957.50 L966.50,957.50 L966.60,957.50 L966.70,957.50 L966.80,957.50 L966.90,957.50 L967.00,957.50 L967.10,957.50 L967.20,957.50 L967.30,957.50 L967.40,957.50 L967.50,957.50 L967.60,957.50 L967.70,957.50 L967.80,957.50 L967.90,957.50 L968.00,957.50 L968.10,957.50 L968.20,957.50 L968.30,957.50 L968.40,957.50 L968.50,957.50 L968.60,957.50 L968.70,957.50 L968.80,957.50 L968.90,957.50 L969.00,957.50 L969.10,957.50 L969.20,957.50 L969.30,957.50 L969.40,957.50 L969.50,957.50 L969.60,957.50 L969.70,957.50 L969.80,957.50 L969.90,957.50 L970.00,957.50 L970.10,957.50 L970.20,957.50 L970.30,957.50 L970.40,957.50 L970.50,957.50 L970.60,957.50 L970.70,957.50 L970.80,957.50 L970.90,957.50 L971.00,957.50 L971.10,957.50 L971.20,957.50 L971.30,957.50 L971.40,957.50 L971.50,957.50 L971.60,957.50 L971.70,957.50 L971.80,957.50 L971.90,957.50 L972.00,957.50 L972.10,957.50 L972.20,957.50 L972.30,957.50 L972.40,957.50 L972.50,957.50 L972.60,957.50 L972.70,957.50 L972.80,957.50 L972.90,957.50 L973.00,957.50 L973.10,957.50 L973.20,957.50 L973.30,957.50 L973.40,957.50 L973.50,957.50 L973.60,957.50 L973.70,957.50 L973.80,957.50 L973.90,957.50 L974.00,957.50 L974.10,957.50 L974.20,957.50 L974.30,957.50 L974.40,957.50 L974.50,957.50 L974.60,957.50 L974.70,957.50 L974.80,957.50 L974.90,957.50 L975.00,957.50 L975.10,957.50 L975.20,957.50 L975.30,957.50 L975.40,957.50 L975.50,957.50 L975.60,957.50 L975.70,957.50 L975.80,957.50 L975.90,957.50 L976.00,957.50 L976.10,957.50 L976.20,957.50 L976.30,957.50 L976.40,957.50 L976.50,957.50 L976.60,957.50 L976.70,957.50 L976.80,957.50 L976.90,957.50 L977.00,957.50 L977.10,957.50 L977.20,957.50 L977.30,957.50 L977.40,957.50 L977.50,957.50 L977.60,957.50 L977.70,957.50 L977.80,957.50 L977.90,957.50 L978.00,957.50 L978.10,957.50 L978.20,957.50 L978.30,957.50 L978.40,957.50 L978.50,957.50 L978.60,957.50 L978.70,957.50 L978.80,957.50 L978.90,957.50 L979.00,957.50 L979.10,957.50 L979.20,957.50 L979.30,957.50 L979.40,957.50 L979.50,957.50 L979.60,957.50 L979.70,957.50 L979.80,957.50 L979.90,957.50 L980.00,957.50 L980.10,957.50 L980.20,957.50 L980.30,957.50 L980.40,957.50 L980.50,957.50 L980.60,957.50 L980.70,957.50 L980.80,957.50 L980.90,957.50 L981.00,957.50 L981.10,957.50 L981.20,957.50 L981.30,957.50 L981.40,957.50 L981.50,957.50 L981.60,957.50 L981.70,957.50 L981.80,957.50 L981.90,957.50 L982.00,957.50 L982.10,957.50 L982.20,957.50 L982.30,957.50 L982.40,957.50 L982.50,957.50 L982.60,957.50 L982.70,957.50 L982.80,957.50 L982.90,957.50 L983.00,957.50 L983.10,957.50 L983.20,957.50 L983.30,957.50 L983.40,957.50 L983.50,957.50 L983.60,957.50 L983.70,957.50 L983.80,957.50 L983.90,957.50 L984.00,957.50 L984.10,957.50 L984.20,957.50 L984.30,957.50 L984.40,957.50 L984.50,957.50 L984.60,957.50 L984.70,957.50 L984.80,957.50 L984.90,957.50 L985.00,957.50" fill="none" stroke="#0000ff" stroke-width="7.00" stroke-linejoin="round" stroke-dasharray="7 11.55" stroke-linecap="butt"/>
</g>
<g clip-path="url(#clipd)">
<path d="M165.00,1850.90 L234.50,1850.90 L234.70,1850.59 L235.00,1849.24 L235.50,1844.74 L236.00,1834.44 L236.60,1816.44 L236.90,1801.68 L240.10,1604.77 L241.70,1462.58 L242.40,1422.40 L243.30,1392.18 L244.40,1380.56 L244.90,1377.65 L245.20,1376.77 L245.40,1376.60 L245.70,1376.94 L246.10,1378.40 L246.90,1384.25 L247.60,1392.22 L247.90,1400.09 L250.60,1513.40 L252.50,1585.38 L253.80,1661.49 L255.10,1722.33 L256.10,1754.78 L257.40,1785.40 L258.10,1796.73 L258.90,1805.33 L262.20,1832.18 L263.60,1841.03 L264.70,1846.07 L266.40,1850.80 L267.90,1853.47 L270.10,1855.67 L271.40,1856.45 L273.80,1857.39 L275.00,1857.60 L276.80,1857.53 L279.90,1857.15 L284.00,1856.00 L292.60,1854.19 L304.50,1852.38 L317.30,1851.20 L331.10,1850.96 L805.90,1850.90 L831.00,1851.12 L842.30,1852.03 L848.70,1852.80 L856.20,1853.97 L865.50,1855.89 L870.20,1857.17 L873.40,1857.55 L875.00,1857.60 L876.10,1857.42 L877.70,1856.85 L879.40,1856.01 L880.60,1855.09 L881.80,1853.84 L883.30,1851.45 L885.20,1846.40 L886.30,1841.57 L887.80,1832.18 L891.10,1805.33 L891.90,1796.73 L892.60,1785.40 L893.90,1754.78 L894.90,1722.33 L896.20,1661.49 L897.50,1585.38 L899.40,1513.40 L902.10,1400.09 L902.40,1392.22 L903.10,1384.25 L903.90,1378.40 L904.30,1376.94 L904.60,1376.60 L904.80,1376.77 L905.10,1377.65 L905.60,1380.56 L906.70,1392.18 L907.60,1422.40 L908.30,1462.58 L909.90,1604.77 L913.10,1801.68 L913.40,1816.44 L914.00,1834.44 L914.50,1844.74 L915.00,1849.24 L915.30,1850.59 L915.50,1850.90 L985.00,1850.90" fill="none" stroke="#ffa500" stroke-width="7.00" stroke-linejoin="round"/>
<rect x="534" y="1847.1" width="82" height="7.6" fill="#000" fill-opacity="0.5"/>
<path d="M165.00,1850.90 L234.50,1850.90 L234.70,1850.59 L235.00,1849.24 L235.50,1844.74 L236.00,1834.44 L236.60,1816.44 L236.90,1801.68 L240.10,1604.77 L241.70,1462.58 L242.40,1422.40 L243.30,1392.18 L244.40,1380.56 L244.90,1377.65 L245.20,1376.77 L245.40,1376.60 L245.70,1376.94 L246.10,1378.40 L246.90,1384.25 L247.60,1392.22 L247.90,1400.09 L250.60,1513.40 L252.50,1585.38 L253.80,1661.49 L255.10,1722.33 L256.10,1754.78 L257.40,1785.40 L258.10,1796.73 L258.90,1805.33 L262.20,1832.18 L263.60,1841.03 L264.70,1846.07 L266.40,1850.80 L267.90,1853.47 L270.10,1855.67 L271.40,1856.45 L273.90,1857.42 L275.10,1857.60 L277.30,1857.49 L280.00,1857.13 L283.80,1856.05 L290.00,1854.69 L290.40,1854.05 L293.70,1855.84 L297.00,1853.63 L300.30,1855.00 L303.60,1853.27 L306.90,1853.09 L313.50,1852.06 L316.80,1851.22 L320.10,1853.38 L323.40,1850.44 L326.70,1849.85 L330.00,1851.44 L333.30,1850.56 L336.60,1852.00 L339.90,1850.95 L343.20,1852.16 L349.80,1850.40 L353.10,1850.81 L356.40,1851.72 L359.70,1850.55 L363.00,1850.35 L369.60,1851.37 L372.90,1852.19 L376.20,1851.47 L379.50,1851.86 L382.80,1850.92 L386.10,1852.74 L389.40,1853.04 L392.70,1850.50 L396.00,1851.30 L399.30,1850.97 L402.60,1851.37 L412.50,1849.92 L415.80,1850.63 L419.10,1851.09 L422.40,1852.00 L425.70,1851.58 L429.00,1850.70 L432.30,1850.49 L435.60,1849.73 L438.90,1851.68 L442.20,1851.15 L445.50,1851.61 L448.80,1851.74 L452.10,1851.55 L455.40,1850.97 L458.70,1850.80 L462.00,1850.17 L465.30,1850.49 L468.60,1851.43 L471.90,1853.07 L475.20,1850.69 L478.50,1851.26 L481.80,1853.90 L485.10,1851.13 L488.40,1850.74 L491.70,1851.05 L495.00,1850.81 L498.30,1849.30 L501.60,1851.76 L504.90,1849.43 L508.20,1850.50 L511.50,1850.61 L514.80,1851.39 L518.10,1850.79 L524.70,1850.19 L528.00,1851.17 L537.90,1849.74 L541.20,1850.15 L544.50,1851.05 L547.80,1849.51 L551.10,1851.03 L554.40,1850.98 L557.70,1851.93 L561.00,1850.28 L564.30,1850.02 L567.60,1850.80 L570.90,1850.53 L574.20,1848.54 L577.50,1851.94 L580.80,1851.08 L584.10,1850.99 L587.40,1850.14 L590.70,1851.19 L594.00,1850.61 L597.30,1852.28 L600.60,1851.49 L603.90,1852.14 L607.20,1849.77 L613.80,1850.49 L617.10,1850.31 L620.40,1852.30 L627.00,1849.91 L630.30,1850.63 L633.60,1852.50 L636.90,1850.59 L640.20,1851.42 L643.50,1849.33 L646.80,1850.37 L650.10,1850.73 L653.40,1850.64 L656.70,1850.87 L660.00,1851.18 L663.30,1851.89 L666.60,1849.31 L669.90,1850.92 L673.20,1851.50 L676.50,1851.07 L679.80,1851.89 L683.10,1850.75 L689.70,1850.13 L693.00,1851.68 L696.30,1849.72 L699.60,1850.48 L702.90,1850.83 L706.20,1851.41 L709.50,1850.60 L712.80,1850.02 L716.10,1851.38 L719.40,1849.83 L722.70,1850.20 L726.00,1849.06 L729.30,1851.00 L732.60,1850.96 L735.90,1849.28 L739.20,1850.63 L742.50,1851.33 L749.10,1849.33 L752.40,1850.73 L755.70,1851.36 L759.00,1849.16 L762.30,1851.58 L765.60,1850.76 L768.90,1851.64 L772.20,1849.89 L775.50,1851.65 L778.80,1851.10 L782.10,1851.51 L785.40,1850.88 L788.70,1851.70 L792.00,1850.67 L795.30,1850.43 L801.90,1849.43 L805.20,1850.88 L808.50,1850.52 L811.80,1850.74 L815.10,1850.60 L818.40,1851.18 L821.70,1850.95 L825.00,1850.42 L831.60,1852.95 L834.90,1850.48 L838.20,1851.16 L841.50,1852.37 L844.80,1851.58 L848.10,1853.56 L851.40,1852.52 L854.70,1852.58 L858.00,1853.40 L860.10,1854.71 L866.20,1856.05 L870.10,1857.15 L873.00,1857.51 L874.90,1857.60 L875.90,1857.47 L877.50,1856.93 L879.40,1856.01 L880.60,1855.09 L881.80,1853.84 L883.30,1851.45 L885.20,1846.40 L886.30,1841.57 L887.80,1832.18 L891.10,1805.33 L891.90,1796.73 L892.60,1785.40 L893.90,1754.78 L894.90,1722.33 L896.20,1661.49 L897.50,1585.38 L899.40,1513.40 L902.10,1400.09 L902.40,1392.22 L903.10,1384.25 L903.90,1378.40 L904.30,1376.94 L904.60,1376.60 L904.80,1376.77 L905.10,1377.65 L905.60,1380.56 L906.70,1392.18 L907.60,1422.40 L908.30,1462.58 L909.90,1604.77 L913.10,1801.68 L913.40,1816.44 L914.00,1834.44 L914.50,1844.74 L915.00,1849.24 L915.30,1850.59 L915.50,1850.90 L985.00,1850.90" fill="none" stroke="#0000ff" stroke-width="7.00" stroke-linejoin="round" stroke-dasharray="7 11.55" stroke-linecap="butt"/>
</g>
<rect x="165.00" y="1.20" width="820.00" height="178.80" fill="none" stroke="#000" stroke-width="3.0" stroke-linejoin="miter"/>
<path d="M152.50 180.00H165.00M152.50 82.00H165.00M165.00 180.00V192.50M329.00 180.00V192.50M493.00 180.00V192.50M657.00 180.00V192.50M821.00 180.00V192.50M985.00 180.00V192.50" stroke="#000" stroke-width="3.0" fill="none"/>
<rect x="165.00" y="212.70" width="820.00" height="536.30" fill="none" stroke="#000" stroke-width="3.0" stroke-linejoin="miter"/>
<path d="M152.50 221.20H165.00M152.50 307.60H165.00M152.50 394.00H165.00M152.50 480.40H165.00M152.50 566.80H165.00M152.50 653.20H165.00M152.50 739.60H165.00M165.00 749.00V761.50M329.00 749.00V761.50M493.00 749.00V761.50M657.00 749.00V761.50M821.00 749.00V761.50M985.00 749.00V761.50" stroke="#000" stroke-width="3.0" fill="none"/>
<rect x="165.00" y="781.60" width="820.00" height="536.50" fill="none" stroke="#000" stroke-width="3.0" stroke-linejoin="miter"/>
<path d="M152.50 802.65H165.00M152.50 880.10H165.00M152.50 957.60H165.00M152.50 1035.10H165.00M152.50 1112.55H165.00M152.50 1190.00H165.00M152.50 1267.50H165.00M165.00 1318.10V1330.60M329.00 1318.10V1330.60M493.00 1318.10V1330.60M657.00 1318.10V1330.60M821.00 1318.10V1330.60M985.00 1318.10V1330.60" stroke="#000" stroke-width="3.0" fill="none"/>
<rect x="165.00" y="1349.90" width="820.00" height="536.50" fill="none" stroke="#000" stroke-width="3.0" stroke-linejoin="miter"/>
<path d="M152.50 1850.90H165.00M152.50 1759.60H165.00M152.50 1668.20H165.00M152.50 1576.90H165.00M152.50 1485.50H165.00M152.50 1394.20H165.00M165.00 1886.40V1898.90M329.00 1886.40V1898.90M493.00 1886.40V1898.90M657.00 1886.40V1898.90M821.00 1886.40V1898.90M985.00 1886.40V1898.90" stroke="#000" stroke-width="3.0" fill="none"/>
<g clip-path="url(#clipA2)">
<path d="M165.00,179.20 L236.00,179.20 L236.80,178.91 L237.70,178.00 L238.30,176.05 L238.90,172.84 L240.40,161.12 L242.50,130.00 L246.20,84.32 L247.90,56.33 L249.30,41.16 L251.30,24.34 L252.60,17.11 L253.30,14.28 L253.90,12.67 L255.10,11.00 L255.60,10.61 L256.00,10.50 L256.90,10.92 L258.30,12.33 L259.30,13.79 L260.50,15.96 L265.20,27.46 L273.30,45.52 L275.00,49.00 L278.10,54.15 L284.10,62.89 L286.70,65.92 L288.90,68.10 L291.00,69.72 L293.50,71.24 L297.10,73.00 L299.30,73.83 L303.10,74.57 L306.00,74.80 L308.20,74.65 L310.70,74.17 L315.30,72.91 L317.50,72.08 L320.20,70.73 L325.60,67.66 L332.90,62.97 L338.90,60.25 L341.40,59.44 L345.80,58.48 L348.60,58.04 L351.00,57.90 L361.80,58.19 L372.20,59.14 L383.30,59.90 L399.00,60.20 L426.80,59.57 L480.40,58.77 L574.90,58.30 L668.80,58.76 L714.60,59.42 L744.60,60.13 L752.80,60.19 L766.80,59.90 L777.80,59.14 L788.30,58.18 L799.70,57.91 L803.10,58.28 L808.10,59.32 L810.30,59.96 L812.90,60.98 L817.50,63.19 L823.90,67.35 L829.40,70.51 L833.90,72.64 L838.20,73.90 L841.10,74.54 L843.60,74.79 L846.00,74.68 L849.40,74.12 L851.40,73.61 L855.20,71.90 L857.80,70.49 L860.10,68.92 L861.80,67.45 L864.10,65.03 L866.30,62.37 L872.50,53.22 L875.60,47.84 L884.80,27.46 L888.40,18.42 L889.90,15.18 L891.00,13.30 L891.90,12.10 L893.30,10.76 L893.80,10.52 L894.20,10.53 L895.10,11.22 L896.20,12.88 L896.80,14.63 L897.60,18.04 L898.80,25.07 L900.80,42.08 L902.10,56.33 L903.80,84.32 L907.50,130.00 L909.60,161.12 L911.10,172.84 L911.70,176.05 L912.30,178.00 L913.20,178.91 L914.00,179.20 L985.00,179.20" fill="none" stroke="#ff1493" stroke-width="5.00" stroke-linejoin="round"/>
</g>
<text x="99.27" y="190.90" font-family="Liberation Serif" font-size="32.00" textLength="41.80" lengthAdjust="spacingAndGlyphs">0.0</text>
<text x="99.85" y="92.90" font-family="Liberation Serif" font-size="32.00" textLength="41.80" lengthAdjust="spacingAndGlyphs">0.2</text>
<text x="124.93" y="318.50" font-family="Liberation Serif" font-size="32.00" textLength="16.72" lengthAdjust="spacingAndGlyphs">2</text>
<text x="125.09" y="404.90" font-family="Liberation Serif" font-size="32.00" textLength="16.72" lengthAdjust="spacingAndGlyphs">1</text>
<text x="124.35" y="491.30" font-family="Liberation Serif" font-size="32.00" textLength="16.72" lengthAdjust="spacingAndGlyphs">0</text>
<text x="125.09" y="577.70" font-family="Liberation Serif" font-size="32.00" textLength="16.72" lengthAdjust="spacingAndGlyphs">1</text>
<rect x="101.80" y="568.75" width="20.00" height="1.7" fill="#000"/>
<text x="124.93" y="664.10" font-family="Liberation Serif" font-size="32.00" textLength="16.72" lengthAdjust="spacingAndGlyphs">2</text>
<rect x="101.80" y="655.15" width="20.00" height="1.7" fill="#000"/>
<text x="124.39" y="750.50" font-family="Liberation Serif" font-size="32.00" textLength="16.72" lengthAdjust="spacingAndGlyphs">3</text>
<rect x="101.80" y="741.55" width="20.00" height="1.7" fill="#000"/>
<text x="82.55" y="813.55" font-family="Liberation Serif" font-size="32.00" textLength="58.52" lengthAdjust="spacingAndGlyphs">0.50</text>
<text x="82.59" y="891.00" font-family="Liberation Serif" font-size="32.00" textLength="58.52" lengthAdjust="spacingAndGlyphs">0.25</text>
<text x="82.55" y="968.50" font-family="Liberation Serif" font-size="32.00" textLength="58.52" lengthAdjust="spacingAndGlyphs">0.00</text>
<text x="82.59" y="1046.00" font-family="Liberation Serif" font-size="32.00" textLength="58.52" lengthAdjust="spacingAndGlyphs">0.25</text>
<rect x="60.80" y="1037.05" width="20.70" height="1.7" fill="#000"/>
<text x="82.55" y="1123.45" font-family="Liberation Serif" font-size="32.00" textLength="58.52" lengthAdjust="spacingAndGlyphs">0.50</text>
<rect x="60.80" y="1114.50" width="20.70" height="1.7" fill="#000"/>
<text x="82.59" y="1200.90" font-family="Liberation Serif" font-size="32.00" textLength="58.52" lengthAdjust="spacingAndGlyphs">0.75</text>
<rect x="60.80" y="1191.95" width="20.70" height="1.7" fill="#000"/>
<text x="82.55" y="1278.40" font-family="Liberation Serif" font-size="32.00" textLength="58.52" lengthAdjust="spacingAndGlyphs">1.00</text>
<rect x="60.80" y="1269.45" width="20.70" height="1.7" fill="#000"/>
<text x="124.35" y="1861.80" font-family="Liberation Serif" font-size="32.00" textLength="16.72" lengthAdjust="spacingAndGlyphs">0</text>
<text x="107.63" y="1770.50" font-family="Liberation Serif" font-size="32.00" textLength="33.44" lengthAdjust="spacingAndGlyphs">20</text>
<text x="107.63" y="1679.10" font-family="Liberation Serif" font-size="32.00" textLength="33.44" lengthAdjust="spacingAndGlyphs">40</text>
<text x="107.63" y="1587.80" font-family="Liberation Serif" font-size="32.00" textLength="33.44" lengthAdjust="spacingAndGlyphs">60</text>
<text x="107.63" y="1496.40" font-family="Liberation Serif" font-size="32.00" textLength="33.44" lengthAdjust="spacingAndGlyphs">80</text>
<text x="90.91" y="1405.10" font-family="Liberation Serif" font-size="32.00" textLength="50.16" lengthAdjust="spacingAndGlyphs">100</text>
<text x="156.64" y="1931.80" font-family="Liberation Serif" font-size="32.00" textLength="16.72" lengthAdjust="spacingAndGlyphs">0</text>
<text x="320.83" y="1931.80" font-family="Liberation Serif" font-size="32.00" textLength="16.72" lengthAdjust="spacingAndGlyphs">2</text>
<text x="484.57" y="1931.80" font-family="Liberation Serif" font-size="32.00" textLength="16.72" lengthAdjust="spacingAndGlyphs">4</text>
<text x="648.42" y="1931.80" font-family="Liberation Serif" font-size="32.00" textLength="16.72" lengthAdjust="spacingAndGlyphs">6</text>
<text x="812.64" y="1931.80" font-family="Liberation Serif" font-size="32.00" textLength="16.72" lengthAdjust="spacingAndGlyphs">8</text>
<text x="967.45" y="1931.80" font-family="Liberation Serif" font-size="32.00" textLength="33.44" lengthAdjust="spacingAndGlyphs">10</text>
<text x="178.90" y="58.14" font-family="Liberation Serif" font-size="46.32" font-weight="bold" textLength="55.70" lengthAdjust="spacingAndGlyphs">(a)</text>
<text x="179.51" y="265.15" font-family="Liberation Serif" font-size="47.20" font-weight="bold" textLength="58.18" lengthAdjust="spacingAndGlyphs">(b)</text>
<text x="179.50" y="849.65" font-family="Liberation Serif" font-size="46.76" font-weight="bold" textLength="53.00" lengthAdjust="spacingAndGlyphs">(c)</text>
<text x="177.91" y="1440.55" font-family="Liberation Serif" font-size="47.20" font-weight="bold" textLength="58.18" lengthAdjust="spacingAndGlyphs">(d)</text>
<text x="544.71" y="1984.00" font-family="Liberation Serif" font-size="41.83" font-style="italic" textLength="17.69" lengthAdjust="spacingAndGlyphs">z</text>
<text x="565.80" y="1997.33" font-family="Liberation Serif" font-size="68.76" textLength="16.00" lengthAdjust="spacingAndGlyphs">/</text>
<text x="584.10" y="1983.65" font-family="Liberation Serif" font-size="35.78" font-style="italic" textLength="21.51" lengthAdjust="spacingAndGlyphs">σ</text>
<g transform="translate(34.8,120.60) rotate(-90)">
<text x="-1.31" y="-0.36" font-family="Liberation Serif" font-size="36.54" font-style="italic" textLength="21.61" lengthAdjust="spacingAndGlyphs">σ</text>
<rect x="25.9" y="-23.8" width="17.8" height="1.6" fill="#000"/>
<text x="45.72" y="-15.58" font-family="Liberation Serif" font-size="28.58" textLength="15.49" lengthAdjust="spacingAndGlyphs">3</text>
</g>
<g transform="translate(34.8,510.85) rotate(-90)">
<text x="-1.31" y="-0.36" font-family="Liberation Serif" font-size="36.54" font-style="italic" textLength="21.61" lengthAdjust="spacingAndGlyphs">σ</text>
<rect x="25.9" y="-23.8" width="17.8" height="1.6" fill="#000"/>
<text x="46.66" y="-15.30" font-family="Liberation Serif" font-size="29.17" textLength="13.77" lengthAdjust="spacingAndGlyphs">4</text>
</g>
<g transform="translate(34.8,1079.85) rotate(-90)">
<text x="-1.31" y="-0.36" font-family="Liberation Serif" font-size="36.54" font-style="italic" textLength="21.61" lengthAdjust="spacingAndGlyphs">σ</text>
<rect x="25.9" y="-23.8" width="17.8" height="1.6" fill="#000"/>
<text x="45.35" y="-15.58" font-family="Liberation Serif" font-size="28.89" textLength="15.89" lengthAdjust="spacingAndGlyphs">5</text>
</g>
<g transform="translate(34.8,1648.15) rotate(-90)">
<text x="-1.31" y="-0.36" font-family="Liberation Serif" font-size="36.54" font-style="italic" textLength="21.61" lengthAdjust="spacingAndGlyphs">σ</text>
<rect x="25.9" y="-23.8" width="17.8" height="1.6" fill="#000"/>
<text x="45.35" y="-15.58" font-family="Liberation Serif" font-size="28.89" textLength="15.89" lengthAdjust="spacingAndGlyphs">5</text>
</g>
<rect x="472.20" y="92.20" width="206.00" height="68.00" rx="7" ry="7" fill="#fff" fill-opacity="0.8" stroke="#cccccc" stroke-width="3"/>
<path d="M484.70 122.70H566.80" stroke="#ff1493" stroke-width="5.30"/>
<text x="597.19" y="136.24" font-family="Liberation Serif" font-size="36.94" font-style="italic" textLength="18.69" lengthAdjust="spacingAndGlyphs">ρ</text>
<text x="617.16" y="136.81" font-family="Liberation Serif" font-size="42.68" textLength="11.67" lengthAdjust="spacingAndGlyphs">(</text>
<text x="629.80" y="136.50" font-family="Liberation Serif" font-size="38.00" font-weight="bold" textLength="18.18" lengthAdjust="spacingAndGlyphs">r</text>
<text x="648.67" y="136.81" font-family="Liberation Serif" font-size="42.68" textLength="11.67" lengthAdjust="spacingAndGlyphs">)</text>
<rect x="403.70" y="531.10" width="342.70" height="199.00" rx="7" ry="7" fill="#fff" fill-opacity="0.8" stroke="#cccccc" stroke-width="3"/>
<path d="M415.40 576.60H499.60" stroke="#0000ff" stroke-width="7.00"/>
<rect x="420.10" y="583.90" width="8.40" height="8.00" fill="#0530ff"/>
<rect x="436.60" y="583.90" width="8.40" height="8.00" fill="#0530ff"/>
<rect x="453.10" y="583.90" width="8.40" height="8.00" fill="#0530ff"/>
<rect x="469.60" y="583.90" width="8.40" height="8.00" fill="#0530ff"/>
<rect x="486.10" y="583.90" width="8.40" height="8.00" fill="#0530ff"/>
<path d="M415.40 634.10H499.60" stroke="#ffa500" stroke-width="7.00"/>
<path d="M415.40 691.40H499.60" stroke="#008000" stroke-width="7.00"/>
<text x="528.48" y="589.72" font-family="Liberation Serif" font-size="37.95" font-style="italic" textLength="20.98" lengthAdjust="spacingAndGlyphs">β</text>
<path d="M562.00 562.10L554.80 580.45L562.00 598.80" fill="none" stroke="#000" stroke-width="1.6" stroke-linejoin="miter"/>
<text x="565.44" y="590.40" font-family="Liberation Serif" font-size="40.01" font-weight="bold" textLength="27.30" lengthAdjust="spacingAndGlyphs">F</text>
<path d="M573.90 558.80L578.70 554.40L583.50 558.80" fill="none" stroke="#000" stroke-width="1.5"/>
<text x="592.73" y="563.53" font-family="Liberation Serif" font-size="28.01" textLength="15.34" lengthAdjust="spacingAndGlyphs">0</text>
<text x="591.78" y="599.50" font-family="Liberation Serif" font-size="27.50" textLength="41.42" lengthAdjust="spacingAndGlyphs">ext</text>
<text x="650.79" y="590.16" font-family="Liberation Serif" font-size="38.70" font-style="italic" textLength="18.79" lengthAdjust="spacingAndGlyphs">ρ</text>
<path d="M656.60 568.80L661.40 564.40L666.20 568.80" fill="none" stroke="#000" stroke-width="1.5"/>
<text x="670.36" y="590.58" font-family="Liberation Serif" font-size="42.35" textLength="12.45" lengthAdjust="spacingAndGlyphs">(</text>
<text x="683.54" y="590.40" font-family="Liberation Serif" font-size="38.85" font-weight="bold" textLength="17.51" lengthAdjust="spacingAndGlyphs">r</text>
<text x="702.00" y="590.58" font-family="Liberation Serif" font-size="42.35" textLength="12.45" lengthAdjust="spacingAndGlyphs">)</text>
<path d="M719.20 562.10L726.60 580.45L719.20 598.80" fill="none" stroke="#000" stroke-width="1.6" stroke-linejoin="miter"/>
<path d="M528.40 621.30L556.80 621.30L542.60 648.70ZM534.09 623.80L553.25 623.80L543.67 642.29Z" fill="#000" fill-rule="evenodd"/>
<text x="560.87" y="647.85" font-family="Liberation Serif" font-size="35.92" font-style="italic" textLength="18.39" lengthAdjust="spacingAndGlyphs">ρ</text>
<text x="579.92" y="648.03" font-family="Liberation Serif" font-size="41.69" textLength="12.71" lengthAdjust="spacingAndGlyphs">(</text>
<text x="593.15" y="647.80" font-family="Liberation Serif" font-size="38.43" font-weight="bold" textLength="17.28" lengthAdjust="spacingAndGlyphs">r</text>
<text x="611.17" y="648.03" font-family="Liberation Serif" font-size="41.69" textLength="12.71" lengthAdjust="spacingAndGlyphs">)</text>
<text x="528.32" y="704.24" font-family="Liberation Serif" font-size="37.40" font-style="italic" textLength="19.04" lengthAdjust="spacingAndGlyphs">β</text>
<text x="550.73" y="705.20" font-family="Liberation Serif" font-size="40.62" font-weight="bold" textLength="27.41" lengthAdjust="spacingAndGlyphs">F</text>
<text x="577.57" y="710.53" font-family="Liberation Serif" font-size="27.39" font-style="italic" textLength="20.68" lengthAdjust="spacingAndGlyphs">U</text>
<text x="605.12" y="705.43" font-family="Liberation Serif" font-size="41.69" textLength="12.71" lengthAdjust="spacingAndGlyphs">(</text>
<text x="618.35" y="705.20" font-family="Liberation Serif" font-size="38.43" font-weight="bold" textLength="17.28" lengthAdjust="spacingAndGlyphs">r</text>
<text x="637.07" y="705.43" font-family="Liberation Serif" font-size="41.69" textLength="12.71" lengthAdjust="spacingAndGlyphs">)</text>
<rect x="378.00" y="1157.00" width="394.40" height="139.50" rx="7" ry="7" fill="#fff" fill-opacity="0.8" stroke="#cccccc" stroke-width="3"/>
<path d="M390.00 1202.50H474.00" stroke="#0000ff" stroke-width="7.00"/>
<rect x="393.00" y="1209.90" width="8.40" height="8.00" fill="#0530ff"/>
<rect x="409.50" y="1209.90" width="8.40" height="8.00" fill="#0530ff"/>
<rect x="426.00" y="1209.90" width="8.40" height="8.00" fill="#0530ff"/>
<rect x="442.50" y="1209.90" width="8.40" height="8.00" fill="#0530ff"/>
<rect x="459.00" y="1209.90" width="8.40" height="8.00" fill="#0530ff"/>
<path d="M390.00 1259.50H474.00" stroke="#ffa500" stroke-width="7.00"/>
<text x="502.63" y="1215.77" font-family="Liberation Serif" font-size="38.17" font-style="italic" textLength="19.43" lengthAdjust="spacingAndGlyphs">β</text>
<text x="525.16" y="1202.50" font-family="Liberation Serif" font-size="27.49" textLength="15.28" lengthAdjust="spacingAndGlyphs">2</text>
<path d="M553.90 1188.10L546.70 1206.45L553.90 1224.80" fill="none" stroke="#000" stroke-width="1.6" stroke-linejoin="miter"/>
<text x="557.33" y="1215.70" font-family="Liberation Serif" font-size="42.00" font-weight="bold" textLength="27.53" lengthAdjust="spacingAndGlyphs">F</text>
<path d="M565.90 1182.80L570.70 1178.40L575.50 1182.80" fill="none" stroke="#000" stroke-width="1.5"/>
<text x="584.42" y="1189.33" font-family="Liberation Serif" font-size="27.86" textLength="15.45" lengthAdjust="spacingAndGlyphs">0</text>
<text x="583.60" y="1224.90" font-family="Liberation Serif" font-size="27.50" textLength="40.59" lengthAdjust="spacingAndGlyphs">ext</text>
<text x="628.63" y="1215.70" font-family="Liberation Serif" font-size="42.00" font-weight="bold" textLength="27.64" lengthAdjust="spacingAndGlyphs">F</text>
<path d="M637.25 1182.80L642.05 1178.40L646.85 1182.80" fill="none" stroke="#000" stroke-width="1.5"/>
<text x="656.32" y="1220.60" font-family="Liberation Serif" font-size="27.50" textLength="34.17" lengthAdjust="spacingAndGlyphs">int</text>
<text x="695.05" y="1216.35" font-family="Liberation Serif" font-size="41.58" textLength="13.23" lengthAdjust="spacingAndGlyphs">(</text>
<text x="708.82" y="1215.70" font-family="Liberation Serif" font-size="38.00" font-weight="bold" textLength="17.84" lengthAdjust="spacingAndGlyphs">r</text>
<text x="727.51" y="1216.35" font-family="Liberation Serif" font-size="41.58" textLength="12.32" lengthAdjust="spacingAndGlyphs">)</text>
<path d="M743.80 1188.10L751.40 1206.35L743.80 1224.60" fill="none" stroke="#000" stroke-width="1.6" stroke-linejoin="miter"/>
<text x="503.04" y="1272.73" font-family="Liberation Serif" font-size="38.39" font-style="italic" textLength="19.82" lengthAdjust="spacingAndGlyphs">β</text>
<path d="M526.50 1247.40L555.10 1247.40L540.80 1274.60ZM532.22 1249.90L551.53 1249.90L541.87 1268.26Z" fill="#000" fill-rule="evenodd"/>
<text x="557.12" y="1274.40" font-family="Liberation Serif" font-size="40.93" font-weight="bold" textLength="27.97" lengthAdjust="spacingAndGlyphs">F</text>
<text x="585.04" y="1279.00" font-family="Liberation Serif" font-size="27.50" textLength="33.14" lengthAdjust="spacingAndGlyphs">int</text>
<text x="623.65" y="1274.63" font-family="Liberation Serif" font-size="41.69" textLength="13.23" lengthAdjust="spacingAndGlyphs">(</text>
<text x="638.30" y="1274.40" font-family="Liberation Serif" font-size="38.00" font-weight="bold" textLength="16.61" lengthAdjust="spacingAndGlyphs">r</text>
<text x="656.65" y="1274.63" font-family="Liberation Serif" font-size="41.69" textLength="11.93" lengthAdjust="spacingAndGlyphs">)</text>
<rect x="371.20" y="1369.50" width="406.80" height="140.50" rx="7" ry="7" fill="#fff" fill-opacity="0.8" stroke="#cccccc" stroke-width="3"/>
<path d="M383.20 1415.00H467.70" stroke="#0000ff" stroke-width="7.00"/>
<rect x="387.30" y="1423.40" width="8.40" height="8.00" fill="#0530ff"/>
<rect x="403.80" y="1423.40" width="8.40" height="8.00" fill="#0530ff"/>
<rect x="420.30" y="1423.40" width="8.40" height="8.00" fill="#0530ff"/>
<rect x="436.80" y="1423.40" width="8.40" height="8.00" fill="#0530ff"/>
<rect x="453.30" y="1423.40" width="8.40" height="8.00" fill="#0530ff"/>
<path d="M383.20 1472.50H467.70" stroke="#ffa500" stroke-width="7.00"/>
<text x="496.51" y="1427.75" font-family="Liberation Serif" font-size="38.28" font-style="italic" textLength="18.94" lengthAdjust="spacingAndGlyphs">β</text>
<text x="517.87" y="1414.50" font-family="Liberation Serif" font-size="26.58" textLength="16.21" lengthAdjust="spacingAndGlyphs">2</text>
<path d="M547.30 1402.10L540.00 1419.70L547.30 1437.30" fill="none" stroke="#000" stroke-width="1.6" stroke-linejoin="miter"/>
<text x="551.00" y="1428.75" font-family="Liberation Serif" font-size="41.62" font-weight="bold" textLength="26.91" lengthAdjust="spacingAndGlyphs">F</text>
<path d="M559.27 1396.10L564.07 1391.70L568.87 1396.10" fill="none" stroke="#000" stroke-width="1.5"/>
<text x="577.83" y="1402.48" font-family="Liberation Serif" font-size="27.93" textLength="15.34" lengthAdjust="spacingAndGlyphs">0</text>
<text x="577.13" y="1437.00" font-family="Liberation Serif" font-size="27.50" textLength="39.81" lengthAdjust="spacingAndGlyphs">ext</text>
<text x="621.73" y="1429.00" font-family="Liberation Serif" font-size="41.23" font-weight="bold" textLength="27.41" lengthAdjust="spacingAndGlyphs">F</text>
<path d="M630.25 1396.60L635.05 1392.20L639.85 1396.60" fill="none" stroke="#000" stroke-width="1.5"/>
<text x="650.87" y="1429.08" font-family="Liberation Serif" font-size="41.91" textLength="12.32" lengthAdjust="spacingAndGlyphs">(</text>
<text x="663.91" y="1429.00" font-family="Liberation Serif" font-size="39.06" font-weight="bold" textLength="17.96" lengthAdjust="spacingAndGlyphs">r</text>
<text x="682.87" y="1429.08" font-family="Liberation Serif" font-size="41.91" textLength="11.67" lengthAdjust="spacingAndGlyphs">)</text>
<path d="M699.10 1400.60L706.40 1419.00L699.10 1437.40" fill="none" stroke="#000" stroke-width="1.6" stroke-linejoin="miter"/>
<text x="496.26" y="1485.17" font-family="Liberation Serif" font-size="38.17" font-style="italic" textLength="20.40" lengthAdjust="spacingAndGlyphs">β</text>
<text x="520.41" y="1485.92" font-family="Liberation Serif" font-size="37.97" font-style="italic" textLength="19.09" lengthAdjust="spacingAndGlyphs">ρ</text>
<text x="540.12" y="1486.36" font-family="Liberation Serif" font-size="42.46" textLength="12.71" lengthAdjust="spacingAndGlyphs">(</text>
<text x="552.56" y="1486.30" font-family="Liberation Serif" font-size="39.90" font-weight="bold" textLength="18.85" lengthAdjust="spacingAndGlyphs">r</text>
<text x="571.37" y="1486.36" font-family="Liberation Serif" font-size="42.46" textLength="12.71" lengthAdjust="spacingAndGlyphs">)</text>
<path d="M588.00 1459.60L616.20 1459.60L602.10 1487.20ZM593.66 1462.10L612.68 1462.10L603.17 1480.72Z" fill="#000" fill-rule="evenodd"/>
<path d="M619.90 1459.60L647.80 1459.60L633.85 1487.20ZM625.53 1462.10L644.30 1462.10L634.91 1480.66Z" fill="#000" fill-rule="evenodd"/>
<text x="651.09" y="1486.77" font-family="Liberation Serif" font-size="41.80" font-style="italic" textLength="24.63" lengthAdjust="spacingAndGlyphs">V</text>
<text x="671.10" y="1492.20" font-family="Liberation Serif" font-size="27.50" textLength="40.70" lengthAdjust="spacingAndGlyphs">ext</text>
<text x="717.16" y="1487.00" font-family="Liberation Serif" font-size="43.23" textLength="12.45" lengthAdjust="spacingAndGlyphs">(</text>
<text x="729.66" y="1486.60" font-family="Liberation Serif" font-size="38.00" font-weight="bold" textLength="18.85" lengthAdjust="spacingAndGlyphs">r</text>
<text x="748.70" y="1487.00" font-family="Liberation Serif" font-size="43.23" textLength="13.48" lengthAdjust="spacingAndGlyphs">)</text>
<path d="M411.00 405.20L554.50 478.70M739.00 405.20L595.50 478.70" stroke="#000" stroke-opacity="0.5" stroke-width="3.0" fill="none"/>
<rect x="411.00" y="234.40" width="328.00" height="170.80" fill="#fff"/>
<g clip-path="url(#clipIB)">
<path d="M409.50,330.00 L412.65,262.30 L416.05,359.20 L422.00,286.10 L425.40,355.00 L428.80,274.20 L433.05,301.40 L435.60,363.50 L439.00,270.00 L445.80,303.10 L451.75,350.70 L455.15,253.80 L459.40,325.20 L464.50,270.80 L468.75,342.20 L470.45,298.00 L474.70,295.50 L478.10,323.50 L484.90,338.80 L490.00,318.40 L491.70,343.10 L497.65,285.30 L504.45,401.70 L511.25,244.50 L518.05,349.90 L521.45,303.10 L527.40,335.40 L534.20,371.10 L541.00,278.50 L547.80,333.70 L553.75,244.50 L560.55,389.80 L564.00,282.70 L570.75,393.20 L573.30,264.00 L579.60,373.50 L586.60,261.50 L591.00,335.00 L596.25,274.60 L605.90,403.30 L609.40,287.80 L616.40,368.30 L626.00,301.80 L629.50,308.80 L635.60,279.90 L642.60,387.50 L648.75,265.90 L652.25,379.60 L657.50,310.50 L665.40,290.40 L671.50,370.90 L680.00,330.00 L688.10,268.50 L694.25,384.00 L697.75,283.40 L703.00,289.50 L708.25,333.30 L714.40,282.50 L719.60,287.80 L722.25,335.00 L730.10,295.60 L736.25,360.40 L740.00,292.10" fill="none" stroke="#ffa500" stroke-width="5.20" stroke-linejoin="round"/>
<path d="M411.00,333.70 L416.00,332.00 L422.00,335.40 L425.40,350.70 L428.80,330.30 L432.20,345.60 L435.60,332.00 L444.10,337.10 L449.20,332.00 L454.30,328.60 L459.40,338.80 L465.40,340.50 L469.60,336.30 L472.20,340.50 L476.40,311.60 L481.50,315.00 L488.30,308.20 L493.40,304.80 L498.50,308.20 L501.90,298.00 L508.70,308.20 L513.80,306.50 L520.60,316.70 L527.40,304.80 L534.20,309.90 L539.30,316.70 L546.10,315.00 L551.20,321.80 L556.30,308.20 L561.40,316.70 L566.50,313.30 L571.60,321.80 L578.80,322.80 L585.80,326.30 L591.00,324.50 L596.30,312.30 L599.80,329.80 L605.00,325.40 L610.30,340.30 L613.80,328.00 L619.90,343.80 L626.00,326.30 L632.10,342.00 L639.10,329.80 L642.60,342.00 L647.00,335.00 L650.50,342.00 L656.60,331.50 L659.30,343.80 L664.50,321.00 L671.50,333.30 L675.00,319.30 L682.00,331.50 L690.80,329.80 L695.10,359.50 L699.50,345.50 L704.80,328.00 L708.30,352.50 L715.30,340.30 L718.80,342.00 L722.30,329.80 L727.50,333.30 L731.00,337.60 L740.00,329.80" fill="none" stroke="#0000ff" stroke-width="5.20" stroke-linejoin="round"/>
<path d="M411.00,320.68 L416.00,318.10 L421.00,320.18 L426.00,318.31 L431.00,321.03 L436.00,320.87 L441.00,321.23 L446.00,322.66 L451.00,320.79 L456.00,321.96 L461.00,321.51 L466.00,321.95 L471.00,320.36 L476.00,322.02 L481.00,320.70 L486.00,322.26 L491.00,321.71 L496.00,320.83 L501.00,321.20 L506.00,321.03 L511.00,320.62 L516.00,322.66 L521.00,319.37 L526.00,318.74 L531.00,318.61 L536.00,319.42 L541.00,319.45 L546.00,319.96 L551.00,320.10 L556.00,319.32 L561.00,319.13 L566.00,318.07 L571.00,319.74 L576.00,320.02 L581.00,318.66 L586.00,319.40 L591.00,318.20 L596.00,318.79 L601.00,318.96 L606.00,319.72 L611.00,317.73 L616.00,319.21 L621.00,320.08 L626.00,319.72 L631.00,320.16 L636.00,317.47 L641.00,319.09 L646.00,319.64 L651.00,319.49 L656.00,318.22 L661.00,321.42 L666.00,320.82 L671.00,318.98 L676.00,320.39 L681.00,320.95 L686.00,321.85 L691.00,321.64 L696.00,320.16 L701.00,320.49 L706.00,321.28 L711.00,321.93 L716.00,320.59 L721.00,320.34 L726.00,321.34 L731.00,320.83 L736.00,321.82 L741.00,320.88" fill="none" stroke="#008000" stroke-width="5.20" stroke-linejoin="round"/>
</g>
<rect x="411.00" y="234.40" width="328.00" height="170.80" fill="none" stroke="#000" stroke-width="2.4"/>
<path d="M399.00 234.40H411.00M399.00 277.10H411.00M399.00 319.80H411.00M399.00 362.50H411.00M399.00 405.20H411.00M444.50 405.20V417.00M509.20 405.20V417.00M575.20 405.20V417.00M641.20 405.20V417.00M707.20 405.20V417.00" stroke="#000" stroke-width="2.4" fill="none"/>
<text x="340.14" y="242.90" font-family="Liberation Sans" font-size="22.50" textLength="47.08" lengthAdjust="spacingAndGlyphs">0.02</text>
<text x="339.87" y="328.30" font-family="Liberation Sans" font-size="22.50" textLength="47.08" lengthAdjust="spacingAndGlyphs">0.00</text>
<text x="332.09" y="413.70" font-family="Liberation Sans" font-size="22.50" textLength="55.13" lengthAdjust="spacingAndGlyphs">-0.02</text>
<text x="493.22" y="447.60" font-family="Liberation Sans" font-size="22.50" textLength="32.53" lengthAdjust="spacingAndGlyphs">4.9</text>
<text x="558.92" y="447.60" font-family="Liberation Sans" font-size="22.50" textLength="32.53" lengthAdjust="spacingAndGlyphs">5.0</text>
<text x="625.04" y="447.60" font-family="Liberation Sans" font-size="22.50" textLength="32.53" lengthAdjust="spacingAndGlyphs">5.1</text>
<path d="M411.00 1773.10L534.00 1848.60M739.00 1773.10L616.00 1848.60" stroke="#000" stroke-opacity="0.5" stroke-width="3.0" fill="none"/>
<rect x="411.00" y="1640.00" width="328.00" height="133.10" fill="#fff"/>
<g clip-path="url(#clipID)">
<path d="M411.00,1708.00 L412.65,1708.10 L416.05,1680.10 L419.45,1709.80 L422.00,1686.00 L426.25,1738.70 L432.20,1689.40 L439.00,1729.40 L442.05,1657.10 L445.80,1699.60 L449.20,1700.50 L455.15,1726.80 L458.55,1689.40 L461.95,1744.70 L467.90,1678.40 L472.15,1717.50 L474.70,1674.90 L478.10,1735.30 L481.50,1674.90 L488.30,1712.40 L493.40,1709.80 L498.15,1675.80 L501.05,1722.60 L505.30,1722.60 L507.85,1694.50 L511.25,1718.30 L517.20,1687.70 L524.00,1759.10 L527.40,1720.00 L534.20,1718.30 L537.60,1726.80 L540.65,1679.20 L543.55,1706.40 L547.00,1684.30 L550.35,1743.00 L553.75,1683.50 L558.00,1684.30 L563.95,1724.30 L567.35,1694.50 L570.75,1706.40 L575.25,1692.80 L579.60,1689.30 L583.10,1748.80 L586.60,1661.30 L592.75,1708.50 L596.25,1680.50 L599.75,1753.10 L602.90,1670.00 L606.75,1719.00 L609.40,1698.00 L612.90,1722.50 L616.40,1697.10 L619.90,1740.00 L622.50,1702.40 L626.90,1714.60 L632.10,1663.90 L639.10,1724.30 L642.10,1693.60 L645.60,1732.10 L652.25,1702.40 L659.25,1726.00 L661.90,1656.00 L665.40,1720.80 L671.50,1708.50 L675.00,1760.10 L678.50,1683.10 L682.00,1728.60 L684.60,1662.10 L691.10,1719.90 L694.60,1690.10 L701.25,1718.10 L710.00,1699.80 L714.40,1711.10 L717.90,1662.10 L720.50,1684.90 L724.00,1677.00 L727.50,1757.50 L731.00,1678.80 L734.50,1740.00 L737.10,1708.50 L740.00,1700.00" fill="none" stroke="#0000ff" stroke-width="5.20" stroke-linejoin="round"/>
<path d="M411.00 1706.60H739.00" stroke="#ffa500" stroke-width="5.60"/>
</g>
<rect x="411.00" y="1640.00" width="328.00" height="133.10" fill="none" stroke="#000" stroke-width="2.4"/>
<path d="M399.00 1640.00H411.00M399.00 1673.30H411.00M399.00 1706.60H411.00M399.00 1739.80H411.00M399.00 1773.10H411.00M444.50 1773.10V1784.90M509.20 1773.10V1784.90M575.20 1773.10V1784.90M641.20 1773.10V1784.90M707.20 1773.10V1784.90" stroke="#000" stroke-width="2.4" fill="none"/>
<text x="353.39" y="1648.50" font-family="Liberation Sans" font-size="22.50" textLength="33.62" lengthAdjust="spacingAndGlyphs">0.5</text>
<text x="353.32" y="1715.10" font-family="Liberation Sans" font-size="22.50" textLength="33.62" lengthAdjust="spacingAndGlyphs">0.0</text>
<text x="345.34" y="1781.60" font-family="Liberation Sans" font-size="22.50" textLength="41.68" lengthAdjust="spacingAndGlyphs">-0.5</text>
<text x="493.18" y="1815.50" font-family="Liberation Sans" font-size="22.50" textLength="32.53" lengthAdjust="spacingAndGlyphs">4.8</text>
<text x="558.92" y="1815.50" font-family="Liberation Sans" font-size="22.50" textLength="32.53" lengthAdjust="spacingAndGlyphs">5.0</text>
<text x="625.06" y="1815.50" font-family="Liberation Sans" font-size="22.50" textLength="32.53" lengthAdjust="spacingAndGlyphs">5.2</text>
</svg></body></html>
